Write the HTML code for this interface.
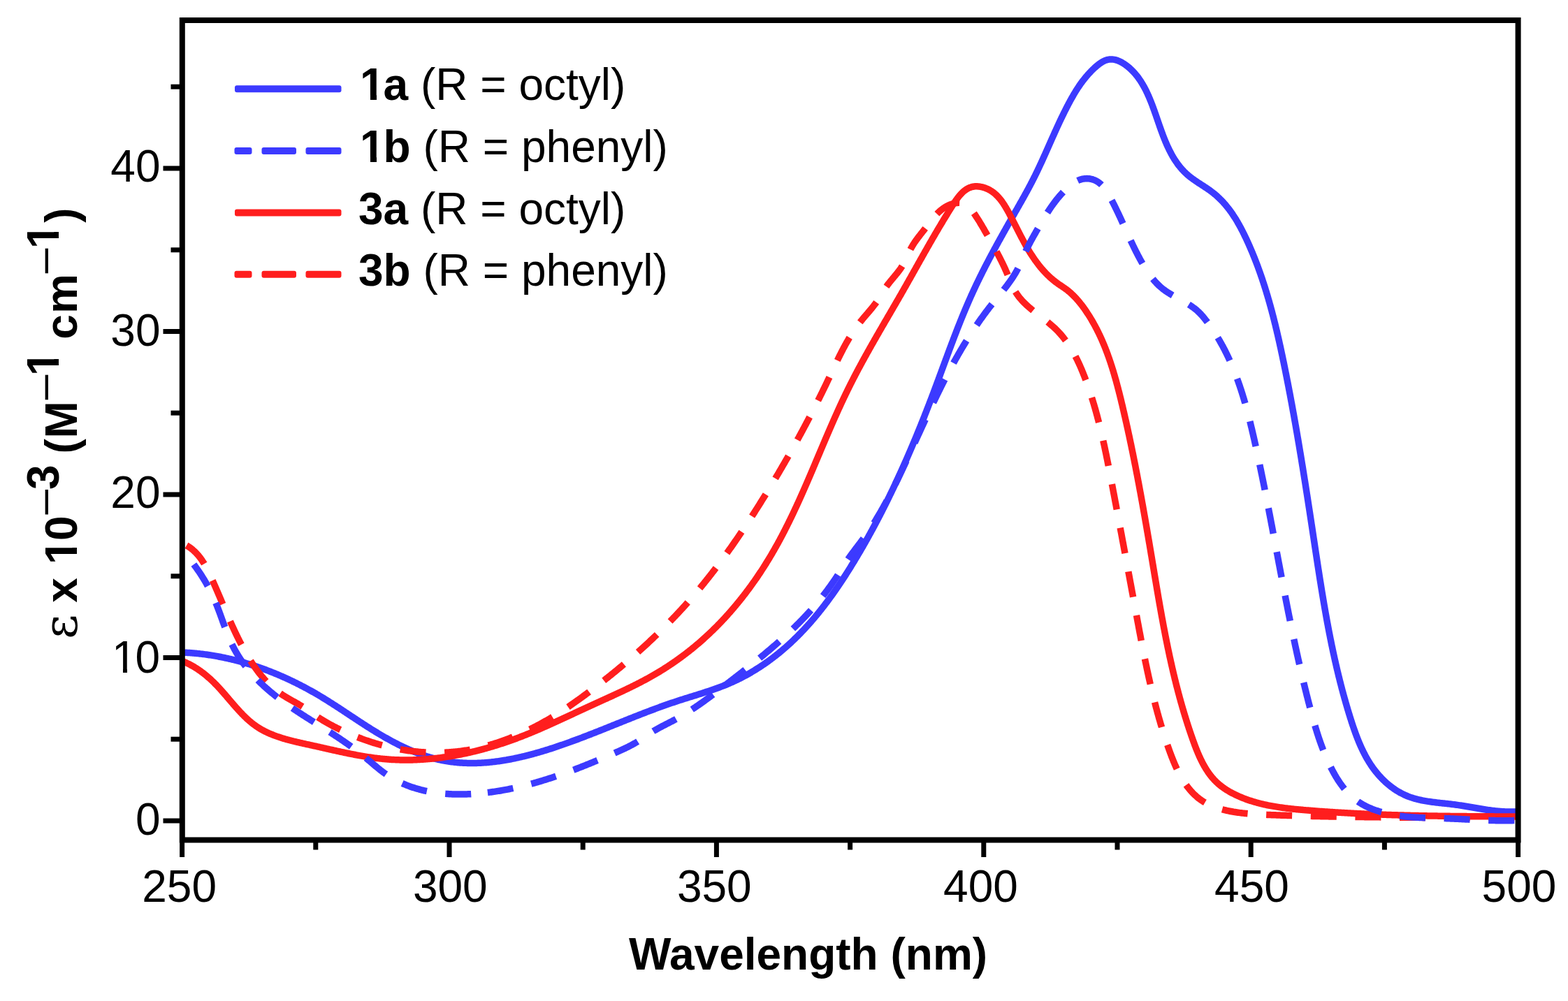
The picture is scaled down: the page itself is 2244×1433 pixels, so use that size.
<!DOCTYPE html>
<html><head><meta charset="utf-8"><style>
html,body{margin:0;padding:0;background:#fff;overflow:hidden;}
svg{display:block;}
text{font-family:"Liberation Sans",Arial,sans-serif;}
</style></head><body>
<svg width="2244" height="1433" viewBox="0 0 2244 1433">
<rect width="2244" height="1433" fill="#fff"/>
<g fill="none" stroke-linejoin="round" stroke-width="9.5">
<path d="M260.92 934.01 L262.41 934.07 L263.91 934.14 L265.41 934.22 L266.91 934.30 L268.41 934.39 L269.90 934.48 L271.40 934.58 L272.89 934.69 L274.39 934.80 L275.88 934.92 L277.38 935.05 L278.87 935.18 L280.37 935.32 L281.86 935.47 L283.35 935.62 L284.84 935.78 L286.33 935.94 L287.82 936.11 L289.31 936.29 L290.80 936.47 L292.29 936.66 L293.77 936.86 L295.26 937.06 L296.75 937.27 L298.23 937.48 L299.71 937.70 L301.20 937.93 L302.68 938.16 L304.16 938.40 L305.64 938.65 L307.12 938.90 L308.59 939.15 L310.07 939.42 L311.55 939.68 L313.02 939.96 L314.49 940.24 L315.97 940.52 L317.44 940.82 L318.91 941.11 L320.38 941.42 L321.84 941.73 L323.31 942.04 L324.77 942.36 L326.24 942.69 L327.70 943.02 L329.16 943.36 L330.62 943.70 L332.08 944.05 L333.54 944.40 L334.99 944.76 L336.45 945.13 L337.90 945.50 L339.35 945.87 L340.80 946.25 L342.25 946.64 L343.70 947.03 L345.15 947.43 L346.59 947.84 L348.03 948.24 L349.47 948.66 L350.91 949.08 L352.35 949.50 L353.79 949.93 L355.22 950.37 L356.66 950.81 L358.09 951.25 L359.52 951.70 L360.95 952.16 L362.38 952.62 L363.80 953.08 L365.23 953.55 L366.65 954.03 L368.07 954.51 L369.49 955.00 L370.90 955.49 L372.32 955.98 L373.73 956.48 L375.15 956.99 L376.56 957.50 L377.96 958.02 L379.37 958.54 L380.78 959.06 L382.18 959.59 L383.58 960.12 L384.98 960.66 L386.38 961.21 L387.77 961.76 L389.17 962.31 L390.56 962.87 L391.95 963.43 L393.34 964.00 L394.72 964.57 L396.11 965.15 L397.49 965.73 L398.87 966.31 L400.25 966.90 L401.63 967.50 L403.00 968.09 L404.37 968.70 L405.75 969.31 L407.11 969.92 L408.48 970.53 L409.85 971.16 L411.21 971.78 L412.57 972.41 L413.93 973.04 L415.29 973.68 L416.64 974.33 L418.00 974.97 L419.35 975.62 L420.70 976.28 L422.04 976.94 L423.39 977.60 L424.73 978.27 L426.07 978.94 L427.41 979.62 L428.75 980.30 L430.08 980.98 L431.41 981.67 L432.74 982.36 L434.07 983.06 L435.40 983.76 L436.72 984.46 L438.04 985.17 L439.36 985.88 L440.68 986.60 L442.00 987.32 L443.31 988.04 L444.62 988.77 L445.93 989.50 L447.24 990.24 L448.54 990.98 L449.84 991.72 L451.14 992.47 L452.44 993.22 L453.74 993.98 L455.03 994.73 L456.32 995.50 L457.61 996.26 L458.90 997.03 L460.18 997.80 L461.47 998.58 L462.75 999.36 L464.03 1000.14 L465.30 1000.93 L466.58 1001.72 L467.85 1002.51 L469.12 1003.31 L470.39 1004.10 L471.66 1004.90 L472.93 1005.71 L474.20 1006.51 L475.46 1007.32 L476.72 1008.13 L477.98 1008.94 L479.24 1009.75 L480.50 1010.57 L481.76 1011.38 L483.02 1012.20 L484.27 1013.02 L485.53 1013.84 L486.78 1014.66 L488.04 1015.49 L489.29 1016.31 L490.54 1017.14 L491.79 1017.96 L493.04 1018.79 L494.30 1019.62 L495.55 1020.44 L496.80 1021.27 L498.05 1022.10 L499.30 1022.93 L500.55 1023.76 L501.80 1024.59 L503.05 1025.42 L504.30 1026.24 L505.55 1027.07 L506.80 1027.90 L508.05 1028.73 L509.30 1029.55 L510.55 1030.38 L511.80 1031.20 L513.06 1032.03 L514.31 1032.85 L515.57 1033.67 L516.82 1034.49 L518.08 1035.31 L519.34 1036.13 L520.59 1036.94 L521.85 1037.76 L523.11 1038.57 L524.38 1039.38 L525.64 1040.19 L526.90 1040.99 L528.17 1041.80 L529.44 1042.60 L530.71 1043.40 L531.98 1044.19 L533.25 1044.99 L534.52 1045.78 L535.80 1046.57 L537.08 1047.35 L538.36 1048.13 L539.64 1048.91 L540.92 1049.69 L542.21 1050.46 L543.50 1051.23 L544.79 1051.99 L546.08 1052.76 L547.37 1053.51 L548.67 1054.27 L549.97 1055.02 L551.27 1055.76 L552.57 1056.50 L553.88 1057.24 L555.19 1057.97 L556.50 1058.70 L557.81 1059.43 L559.13 1060.14 L560.45 1060.86 L561.77 1061.57 L563.09 1062.27 L564.42 1062.97 L565.75 1063.67 L567.08 1064.35 L568.41 1065.04 L569.75 1065.72 L571.09 1066.39 L572.44 1067.06 L573.78 1067.72 L575.13 1068.37 L576.48 1069.02 L577.84 1069.66 L579.20 1070.30 L580.56 1070.93 L581.92 1071.56 L583.29 1072.17 L584.66 1072.78 L586.03 1073.39 L587.40 1073.98 L588.78 1074.57 L590.17 1075.16 L591.55 1075.73 L592.94 1076.30 L594.33 1076.86 L595.72 1077.41 L597.12 1077.96 L598.52 1078.49 L599.93 1079.02 L601.33 1079.54 L602.74 1080.05 L604.15 1080.55 L605.57 1081.05 L606.99 1081.53 L608.41 1082.01 L609.84 1082.47 L611.27 1082.93 L612.70 1083.38 L614.13 1083.82 L615.57 1084.24 L617.01 1084.66 L618.45 1085.07 L619.90 1085.46 L621.35 1085.85 L622.80 1086.22 L624.26 1086.59 L625.71 1086.94 L627.17 1087.28 L628.64 1087.61 L630.10 1087.93 L631.57 1088.24 L633.04 1088.53 L634.51 1088.82 L635.99 1089.09 L637.46 1089.35 L638.94 1089.61 L640.42 1089.85 L641.90 1090.08 L643.39 1090.30 L644.87 1090.50 L646.36 1090.70 L647.85 1090.89 L649.34 1091.06 L650.83 1091.23 L652.32 1091.39 L653.81 1091.53 L655.31 1091.66 L656.80 1091.79 L658.30 1091.90 L659.79 1092.00 L661.29 1092.10 L662.79 1092.18 L664.28 1092.26 L665.78 1092.32 L667.28 1092.37 L668.78 1092.42 L670.28 1092.45 L671.78 1092.48 L673.28 1092.49 L674.78 1092.50 L676.28 1092.50 L677.78 1092.48 L679.28 1092.46 L680.78 1092.43 L682.28 1092.39 L683.77 1092.35 L685.27 1092.29 L686.77 1092.22 L688.27 1092.15 L689.77 1092.07 L691.26 1091.98 L692.76 1091.88 L694.26 1091.77 L695.75 1091.66 L697.25 1091.53 L698.74 1091.40 L700.23 1091.26 L701.73 1091.12 L703.22 1090.96 L704.71 1090.80 L706.20 1090.63 L707.69 1090.46 L709.18 1090.27 L710.66 1090.08 L712.15 1089.88 L713.64 1089.68 L715.12 1089.47 L716.60 1089.25 L718.09 1089.02 L719.57 1088.79 L721.05 1088.55 L722.53 1088.31 L724.01 1088.06 L725.48 1087.80 L726.96 1087.54 L728.44 1087.27 L729.91 1086.99 L731.38 1086.71 L732.85 1086.42 L734.32 1086.13 L735.79 1085.83 L737.26 1085.52 L738.73 1085.21 L740.20 1084.89 L741.66 1084.57 L743.12 1084.24 L744.59 1083.91 L746.05 1083.57 L747.51 1083.23 L748.97 1082.88 L750.42 1082.53 L751.88 1082.17 L753.34 1081.81 L754.79 1081.44 L756.24 1081.07 L757.69 1080.70 L759.14 1080.32 L760.59 1079.93 L762.04 1079.54 L763.49 1079.15 L764.93 1078.75 L766.38 1078.34 L767.82 1077.94 L769.27 1077.53 L770.71 1077.11 L772.15 1076.69 L773.59 1076.27 L775.02 1075.84 L776.46 1075.41 L777.90 1074.98 L779.33 1074.54 L780.76 1074.10 L782.20 1073.66 L783.63 1073.21 L785.06 1072.76 L786.49 1072.30 L787.91 1071.85 L789.34 1071.38 L790.77 1070.92 L792.19 1070.45 L793.62 1069.98 L795.04 1069.51 L796.46 1069.03 L797.88 1068.55 L799.30 1068.07 L800.72 1067.59 L802.14 1067.10 L803.56 1066.61 L804.97 1066.12 L806.39 1065.62 L807.80 1065.13 L809.22 1064.63 L810.63 1064.13 L812.04 1063.62 L813.46 1063.11 L814.87 1062.61 L816.28 1062.10 L817.69 1061.58 L819.09 1061.07 L820.50 1060.55 L821.91 1060.03 L823.32 1059.51 L824.72 1058.99 L826.13 1058.46 L827.53 1057.94 L828.93 1057.41 L830.34 1056.88 L831.74 1056.35 L833.14 1055.82 L834.54 1055.28 L835.94 1054.75 L837.34 1054.21 L838.74 1053.67 L840.14 1053.13 L841.54 1052.59 L842.94 1052.05 L844.34 1051.51 L845.74 1050.96 L847.13 1050.42 L848.53 1049.87 L849.92 1049.32 L851.32 1048.77 L852.72 1048.22 L854.11 1047.67 L855.50 1047.12 L856.90 1046.57 L858.29 1046.01 L859.69 1045.46 L861.08 1044.90 L862.47 1044.35 L863.87 1043.79 L865.26 1043.24 L866.65 1042.68 L868.04 1042.12 L869.43 1041.56 L870.83 1041.01 L872.22 1040.45 L873.61 1039.89 L875.00 1039.33 L876.39 1038.77 L877.78 1038.21 L879.18 1037.65 L880.57 1037.09 L881.96 1036.53 L883.35 1035.97 L884.74 1035.41 L886.13 1034.85 L887.52 1034.29 L888.91 1033.73 L890.31 1033.17 L891.70 1032.61 L893.09 1032.06 L894.48 1031.50 L895.87 1030.94 L897.27 1030.38 L898.66 1029.83 L900.05 1029.27 L901.45 1028.72 L902.84 1028.16 L904.23 1027.61 L905.63 1027.06 L907.02 1026.50 L908.42 1025.95 L909.81 1025.40 L911.21 1024.85 L912.60 1024.30 L914.00 1023.76 L915.39 1023.21 L916.79 1022.67 L918.19 1022.12 L919.59 1021.58 L920.99 1021.04 L922.39 1020.50 L923.78 1019.96 L925.19 1019.42 L926.59 1018.89 L927.99 1018.35 L929.39 1017.82 L930.79 1017.29 L932.19 1016.76 L933.60 1016.23 L935.00 1015.71 L936.41 1015.18 L937.81 1014.66 L939.22 1014.14 L940.63 1013.62 L942.04 1013.11 L943.45 1012.59 L944.85 1012.08 L946.27 1011.57 L947.68 1011.06 L949.09 1010.56 L950.50 1010.05 L951.91 1009.55 L953.33 1009.05 L954.74 1008.56 L956.16 1008.07 L957.58 1007.57 L959.00 1007.09 L960.41 1006.60 L961.83 1006.12 L963.25 1005.64 L964.68 1005.16 L966.10 1004.68 L967.52 1004.21 L968.95 1003.74 L970.37 1003.28 L971.80 1002.81 L973.23 1002.35 L974.65 1001.89 L976.08 1001.44 L977.51 1000.98 L978.94 1000.53 L980.37 1000.08 L981.80 999.63 L983.23 999.18 L984.66 998.73 L986.10 998.29 L987.53 997.84 L988.96 997.39 L990.39 996.95 L991.82 996.50 L993.25 996.05 L994.69 995.61 L996.12 995.16 L997.55 994.71 L998.98 994.26 L1000.41 993.81 L1001.84 993.36 L1003.27 992.90 L1004.70 992.45 L1006.12 991.99 L1007.55 991.53 L1008.98 991.07 L1010.40 990.60 L1011.83 990.13 L1013.25 989.66 L1014.67 989.19 L1016.10 988.71 L1017.52 988.23 L1018.93 987.74 L1020.35 987.25 L1021.77 986.76 L1023.18 986.26 L1024.59 985.75 L1026.01 985.24 L1027.41 984.73 L1028.82 984.21 L1030.23 983.69 L1031.63 983.16 L1033.03 982.62 L1034.43 982.08 L1035.83 981.53 L1037.22 980.98 L1038.61 980.42 L1040.00 979.85 L1041.38 979.28 L1042.77 978.70 L1044.15 978.11 L1045.52 977.51 L1046.90 976.91 L1048.26 976.30 L1049.63 975.68 L1050.99 975.05 L1052.35 974.42 L1053.71 973.78 L1055.06 973.13 L1056.41 972.47 L1057.75 971.81 L1059.09 971.14 L1060.43 970.46 L1061.76 969.77 L1063.09 969.08 L1064.42 968.38 L1065.74 967.67 L1067.06 966.96 L1068.38 966.24 L1069.69 965.51 L1071.00 964.78 L1072.30 964.03 L1073.60 963.29 L1074.90 962.53 L1076.19 961.77 L1077.48 961.00 L1078.76 960.23 L1080.04 959.45 L1081.32 958.66 L1082.59 957.87 L1083.86 957.07 L1085.13 956.27 L1086.39 955.45 L1087.64 954.64 L1088.90 953.81 L1090.15 952.98 L1091.39 952.15 L1092.63 951.30 L1093.87 950.46 L1095.10 949.60 L1096.33 948.74 L1097.56 947.88 L1098.78 947.01 L1099.99 946.13 L1101.21 945.25 L1102.42 944.36 L1103.62 943.47 L1104.82 942.57 L1106.02 941.66 L1107.21 940.75 L1108.40 939.84 L1109.58 938.92 L1110.76 937.99 L1111.93 937.06 L1113.10 936.12 L1114.27 935.18 L1115.43 934.23 L1116.59 933.28 L1117.74 932.32 L1118.89 931.36 L1120.04 930.39 L1121.18 929.41 L1122.32 928.44 L1123.45 927.45 L1124.58 926.47 L1125.70 925.47 L1126.82 924.47 L1127.94 923.47 L1129.05 922.46 L1130.15 921.45 L1131.26 920.44 L1132.36 919.42 L1133.45 918.39 L1134.54 917.36 L1135.62 916.32 L1136.71 915.29 L1137.78 914.24 L1138.86 913.19 L1139.93 912.14 L1140.99 911.09 L1142.05 910.03 L1143.11 908.96 L1144.16 907.89 L1145.21 906.82 L1146.25 905.74 L1147.29 904.66 L1148.33 903.58 L1149.36 902.49 L1150.39 901.40 L1151.41 900.30 L1152.43 899.20 L1153.45 898.10 L1154.46 896.99 L1155.47 895.88 L1156.47 894.77 L1157.47 893.65 L1158.46 892.53 L1159.46 891.40 L1160.44 890.28 L1161.43 889.14 L1162.41 888.01 L1163.39 886.87 L1164.36 885.73 L1165.33 884.59 L1166.29 883.44 L1167.25 882.29 L1168.21 881.13 L1169.17 879.98 L1170.12 878.82 L1171.06 877.65 L1172.01 876.49 L1172.95 875.32 L1173.88 874.15 L1174.81 872.97 L1175.74 871.79 L1176.67 870.61 L1177.59 869.43 L1178.51 868.25 L1179.43 867.06 L1180.34 865.87 L1181.25 864.67 L1182.15 863.48 L1183.05 862.28 L1183.95 861.08 L1184.85 859.88 L1185.74 858.67 L1186.63 857.46 L1187.51 856.25 L1188.39 855.04 L1189.27 853.82 L1190.15 852.61 L1191.02 851.39 L1191.89 850.17 L1192.76 848.94 L1193.62 847.72 L1194.49 846.49 L1195.34 845.26 L1196.20 844.03 L1197.05 842.79 L1197.90 841.56 L1198.75 840.32 L1199.59 839.08 L1200.43 837.84 L1201.27 836.60 L1202.11 835.35 L1202.94 834.11 L1203.77 832.86 L1204.60 831.61 L1205.43 830.35 L1206.25 829.10 L1207.07 827.85 L1207.89 826.59 L1208.70 825.33 L1209.52 824.07 L1210.33 822.81 L1211.14 821.54 L1211.94 820.28 L1212.75 819.01 L1213.55 817.75 L1214.35 816.48 L1215.14 815.21 L1215.94 813.94 L1216.73 812.66 L1217.52 811.39 L1218.31 810.11 L1219.10 808.84 L1219.88 807.56 L1220.66 806.28 L1221.44 805.00 L1222.22 803.72 L1223.00 802.43 L1223.78 801.15 L1224.55 799.86 L1225.32 798.58 L1226.09 797.29 L1226.86 796.00 L1227.62 794.71 L1228.39 793.42 L1229.15 792.13 L1229.91 790.84 L1230.67 789.54 L1231.42 788.25 L1232.18 786.95 L1232.93 785.66 L1233.68 784.36 L1234.43 783.06 L1235.18 781.76 L1235.92 780.46 L1236.66 779.15 L1237.41 777.85 L1238.15 776.55 L1238.88 775.24 L1239.62 773.93 L1240.36 772.63 L1241.09 771.32 L1241.82 770.01 L1242.55 768.70 L1243.28 767.39 L1244.00 766.08 L1244.73 764.76 L1245.45 763.45 L1246.17 762.13 L1246.89 760.82 L1247.61 759.50 L1248.32 758.18 L1249.04 756.86 L1249.75 755.54 L1250.46 754.22 L1251.17 752.90 L1251.87 751.58 L1252.58 750.25 L1253.28 748.93 L1253.98 747.60 L1254.68 746.28 L1255.38 744.95 L1256.08 743.62 L1256.77 742.29 L1257.47 740.96 L1258.16 739.63 L1258.85 738.30 L1259.54 736.97 L1260.23 735.64 L1260.91 734.30 L1261.60 732.97 L1262.28 731.63 L1262.96 730.30 L1263.64 728.96 L1264.31 727.62 L1264.99 726.28 L1265.66 724.94 L1266.34 723.60 L1267.01 722.26 L1267.68 720.92 L1268.35 719.58 L1269.01 718.23 L1269.68 716.89 L1270.34 715.54 L1271.00 714.20 L1271.66 712.85 L1272.32 711.51 L1272.98 710.16 L1273.63 708.81 L1274.29 707.46 L1274.94 706.11 L1275.59 704.76 L1276.24 703.41 L1276.89 702.05 L1277.54 700.70 L1278.18 699.35 L1278.83 697.99 L1279.47 696.64 L1280.11 695.28 L1280.75 693.93 L1281.39 692.57 L1282.02 691.21 L1282.66 689.85 L1283.29 688.49 L1283.92 687.13 L1284.56 685.77 L1285.19 684.41 L1285.81 683.05 L1286.44 681.69 L1287.07 680.32 L1287.69 678.96 L1288.31 677.60 L1288.93 676.23 L1289.55 674.86 L1290.17 673.50 L1290.79 672.13 L1291.40 670.76 L1292.02 669.40 L1292.63 668.03 L1293.24 666.66 L1293.85 665.29 L1294.46 663.92 L1295.07 662.55 L1295.68 661.18 L1296.28 659.80 L1296.89 658.43 L1297.49 657.06 L1298.09 655.68 L1298.69 654.31 L1299.29 652.93 L1299.89 651.56 L1300.48 650.18 L1301.08 648.81 L1301.67 647.43 L1302.27 646.05 L1302.86 644.67 L1303.45 643.30 L1304.04 641.92 L1304.62 640.54 L1305.21 639.16 L1305.80 637.78 L1306.38 636.39 L1306.96 635.01 L1307.54 633.63 L1308.13 632.25 L1308.70 630.86 L1309.28 629.48 L1309.86 628.10 L1310.44 626.71 L1311.01 625.33 L1311.58 623.94 L1312.16 622.55 L1312.73 621.17 L1313.30 619.78 L1313.87 618.39 L1314.44 617.01 L1315.00 615.62 L1315.57 614.23 L1316.13 612.84 L1316.70 611.45 L1317.26 610.06 L1317.82 608.67 L1318.38 607.28 L1318.94 605.89 L1319.50 604.50 L1320.06 603.10 L1320.61 601.71 L1321.17 600.32 L1321.72 598.92 L1322.28 597.53 L1322.83 596.14 L1323.38 594.74 L1323.93 593.35 L1324.48 591.95 L1325.03 590.55 L1325.58 589.16 L1326.12 587.76 L1326.67 586.36 L1327.21 584.97 L1327.76 583.57 L1328.30 582.17 L1328.84 580.77 L1329.38 579.37 L1329.92 577.97 L1330.46 576.58 L1331.00 575.18 L1331.53 573.78 L1332.07 572.37 L1332.61 570.97 L1333.14 569.57 L1333.67 568.17 L1334.21 566.77 L1334.74 565.37 L1335.27 563.96 L1335.80 562.56 L1336.33 561.16 L1336.86 559.75 L1337.38 558.35 L1337.91 556.95 L1338.44 555.54 L1338.96 554.14 L1339.49 552.73 L1340.01 551.33 L1340.53 549.92 L1341.06 548.52 L1341.58 547.11 L1342.10 545.70 L1342.62 544.30 L1343.14 542.89 L1343.66 541.49 L1344.18 540.08 L1344.70 538.67 L1345.22 537.27 L1345.74 535.86 L1346.26 534.45 L1346.78 533.04 L1347.30 531.64 L1347.82 530.23 L1348.34 528.82 L1348.85 527.42 L1349.37 526.01 L1349.89 524.60 L1350.41 523.19 L1350.93 521.79 L1351.45 520.38 L1351.97 518.97 L1352.49 517.57 L1353.01 516.16 L1353.53 514.75 L1354.05 513.35 L1354.57 511.94 L1355.09 510.53 L1355.61 509.13 L1356.13 507.72 L1356.65 506.31 L1357.17 504.91 L1357.70 503.50 L1358.22 502.10 L1358.74 500.69 L1359.27 499.29 L1359.80 497.88 L1360.32 496.48 L1360.85 495.08 L1361.38 493.67 L1361.91 492.27 L1362.43 490.87 L1362.97 489.46 L1363.50 488.06 L1364.03 486.66 L1364.56 485.26 L1365.10 483.86 L1365.63 482.45 L1366.17 481.05 L1366.71 479.65 L1367.25 478.25 L1367.79 476.86 L1368.33 475.46 L1368.87 474.06 L1369.41 472.66 L1369.96 471.26 L1370.51 469.87 L1371.05 468.47 L1371.60 467.08 L1372.15 465.68 L1372.71 464.29 L1373.26 462.89 L1373.82 461.50 L1374.37 460.11 L1374.93 458.72 L1375.49 457.33 L1376.06 455.94 L1376.62 454.55 L1377.19 453.16 L1377.75 451.77 L1378.32 450.38 L1378.89 449.00 L1379.47 447.61 L1380.04 446.23 L1380.62 444.84 L1381.20 443.46 L1381.78 442.08 L1382.36 440.69 L1382.95 439.31 L1383.54 437.93 L1384.13 436.56 L1384.72 435.18 L1385.32 433.80 L1385.91 432.42 L1386.51 431.05 L1387.11 429.68 L1387.72 428.30 L1388.32 426.93 L1388.93 425.56 L1389.54 424.19 L1390.16 422.82 L1390.77 421.46 L1391.39 420.09 L1392.01 418.73 L1392.64 417.36 L1393.26 416.00 L1393.89 414.64 L1394.53 413.28 L1395.16 411.92 L1395.80 410.56 L1396.44 409.21 L1397.08 407.85 L1397.72 406.50 L1398.37 405.14 L1399.02 403.79 L1399.67 402.44 L1400.33 401.09 L1400.98 399.74 L1401.64 398.39 L1402.30 397.05 L1402.96 395.70 L1403.63 394.36 L1404.30 393.02 L1404.97 391.67 L1405.64 390.33 L1406.31 388.99 L1406.99 387.65 L1407.66 386.32 L1408.34 384.98 L1409.02 383.64 L1409.71 382.31 L1410.39 380.97 L1411.08 379.64 L1411.77 378.31 L1412.46 376.98 L1413.15 375.65 L1413.84 374.32 L1414.54 372.99 L1415.23 371.66 L1415.93 370.33 L1416.63 369.01 L1417.33 367.68 L1418.04 366.36 L1418.74 365.03 L1419.45 363.71 L1420.16 362.39 L1420.86 361.07 L1421.57 359.74 L1422.29 358.42 L1423.00 357.11 L1423.71 355.79 L1424.43 354.47 L1425.15 353.15 L1425.86 351.83 L1426.58 350.52 L1427.30 349.20 L1428.02 347.89 L1428.75 346.57 L1429.47 345.26 L1430.19 343.95 L1430.92 342.63 L1431.65 341.32 L1432.37 340.01 L1433.10 338.70 L1433.83 337.39 L1434.56 336.08 L1435.29 334.77 L1436.02 333.46 L1436.76 332.15 L1437.49 330.84 L1438.22 329.54 L1438.96 328.23 L1439.69 326.92 L1440.43 325.61 L1441.16 324.31 L1441.90 323.00 L1442.64 321.70 L1443.38 320.39 L1444.11 319.09 L1444.85 317.78 L1445.59 316.48 L1446.33 315.17 L1447.07 313.87 L1447.81 312.56 L1448.55 311.26 L1449.30 309.96 L1450.04 308.65 L1450.78 307.35 L1451.52 306.04 L1452.26 304.74 L1453.00 303.44 L1453.75 302.14 L1454.49 300.83 L1455.23 299.53 L1455.97 298.23 L1456.72 296.92 L1457.46 295.62 L1458.20 294.31 L1458.94 293.01 L1459.68 291.71 L1460.41 290.40 L1461.15 289.09 L1461.89 287.79 L1462.62 286.48 L1463.36 285.17 L1464.09 283.86 L1464.82 282.56 L1465.55 281.25 L1466.28 279.93 L1467.01 278.62 L1467.73 277.31 L1468.45 275.99 L1469.17 274.68 L1469.89 273.36 L1470.61 272.04 L1471.32 270.73 L1472.03 269.40 L1472.74 268.08 L1473.44 266.76 L1474.15 265.43 L1474.84 264.11 L1475.54 262.78 L1476.23 261.45 L1476.92 260.12 L1477.61 258.78 L1478.29 257.45 L1478.97 256.11 L1479.65 254.77 L1480.32 253.43 L1480.99 252.09 L1481.65 250.74 L1482.31 249.40 L1482.97 248.05 L1483.63 246.70 L1484.28 245.35 L1484.93 244.00 L1485.57 242.65 L1486.21 241.29 L1486.85 239.93 L1487.49 238.58 L1488.13 237.22 L1488.76 235.86 L1489.39 234.50 L1490.02 233.14 L1490.65 231.77 L1491.27 230.41 L1491.89 229.05 L1492.51 227.68 L1493.13 226.32 L1493.75 224.95 L1494.37 223.58 L1494.98 222.21 L1495.60 220.85 L1496.21 219.48 L1496.82 218.11 L1497.43 216.74 L1498.04 215.37 L1498.65 214.00 L1499.26 212.63 L1499.87 211.26 L1500.48 209.89 L1501.09 208.51 L1501.69 207.14 L1502.30 205.77 L1502.91 204.40 L1503.52 203.03 L1504.12 201.66 L1504.73 200.29 L1505.34 198.92 L1505.95 197.55 L1506.56 196.18 L1507.17 194.81 L1507.79 193.44 L1508.40 192.07 L1509.01 190.70 L1509.63 189.34 L1510.24 187.97 L1510.86 186.60 L1511.48 185.24 L1512.10 183.87 L1512.73 182.51 L1513.35 181.15 L1513.98 179.78 L1514.61 178.42 L1515.24 177.06 L1515.87 175.70 L1516.51 174.34 L1517.15 172.99 L1517.79 171.63 L1518.43 170.28 L1519.08 168.92 L1519.73 167.57 L1520.38 166.22 L1521.04 164.87 L1521.70 163.53 L1522.36 162.18 L1523.02 160.84 L1523.69 159.49 L1524.36 158.15 L1525.04 156.81 L1525.72 155.48 L1526.40 154.14 L1527.09 152.81 L1527.78 151.48 L1528.48 150.15 L1529.18 148.82 L1529.88 147.50 L1530.59 146.18 L1531.30 144.86 L1532.02 143.54 L1532.74 142.23 L1533.47 140.92 L1534.21 139.61 L1534.95 138.31 L1535.70 137.01 L1536.45 135.71 L1537.21 134.42 L1537.98 133.13 L1538.76 131.85 L1539.55 130.57 L1540.34 129.30 L1541.14 128.03 L1541.95 126.77 L1542.77 125.51 L1543.60 124.26 L1544.44 123.02 L1545.29 121.79 L1546.15 120.56 L1547.02 119.33 L1547.90 118.12 L1548.79 116.91 L1549.69 115.71 L1550.60 114.52 L1551.52 113.34 L1552.46 112.17 L1553.40 111.00 L1554.36 109.85 L1555.33 108.71 L1556.31 107.57 L1557.30 106.45 L1558.31 105.34 L1559.33 104.23 L1560.36 103.14 L1561.40 102.06 L1562.45 101.00 L1563.52 99.94 L1564.60 98.90 L1565.69 97.87 L1566.79 96.85 L1567.90 95.85 L1569.03 94.86 L1570.18 93.89 L1571.34 92.95 L1572.52 92.02 L1573.72 91.13 L1574.95 90.27 L1576.20 89.44 L1577.48 88.66 L1578.79 87.93 L1580.13 87.25 L1581.50 86.64 L1582.90 86.11 L1584.34 85.67 L1585.79 85.32 L1587.27 85.08 L1588.77 84.95 L1590.27 84.91 L1591.76 84.98 L1593.26 85.13 L1594.74 85.38 L1596.20 85.70 L1597.65 86.10 L1599.07 86.56 L1600.47 87.09 L1601.86 87.67 L1603.21 88.31 L1604.55 88.99 L1605.86 89.72 L1607.15 90.48 L1608.42 91.28 L1609.67 92.11 L1610.90 92.97 L1612.10 93.86 L1613.29 94.78 L1614.46 95.72 L1615.61 96.68 L1616.74 97.67 L1617.85 98.67 L1618.94 99.70 L1620.02 100.75 L1621.07 101.82 L1622.11 102.90 L1623.12 104.00 L1624.12 105.13 L1625.10 106.26 L1626.05 107.42 L1626.99 108.59 L1627.91 109.77 L1628.81 110.97 L1629.70 112.18 L1630.56 113.41 L1631.41 114.64 L1632.24 115.89 L1633.06 117.15 L1633.85 118.42 L1634.63 119.70 L1635.40 120.99 L1636.15 122.29 L1636.89 123.60 L1637.61 124.91 L1638.31 126.23 L1639.01 127.56 L1639.69 128.90 L1640.36 130.24 L1641.01 131.59 L1641.66 132.94 L1642.29 134.30 L1642.91 135.67 L1643.52 137.04 L1644.12 138.41 L1644.72 139.79 L1645.30 141.17 L1645.88 142.56 L1646.44 143.94 L1647.00 145.34 L1647.55 146.73 L1648.10 148.13 L1648.64 149.53 L1649.17 150.93 L1649.69 152.33 L1650.21 153.74 L1650.73 155.15 L1651.24 156.56 L1651.75 157.97 L1652.25 159.38 L1652.76 160.80 L1653.25 162.21 L1653.75 163.63 L1654.24 165.04 L1654.73 166.46 L1655.22 167.88 L1655.71 169.29 L1656.20 170.71 L1656.69 172.13 L1657.18 173.55 L1657.66 174.97 L1658.15 176.38 L1658.64 177.80 L1659.14 179.22 L1659.63 180.63 L1660.13 182.05 L1660.63 183.46 L1661.13 184.88 L1661.63 186.29 L1662.14 187.70 L1662.66 189.11 L1663.18 190.51 L1663.70 191.92 L1664.23 193.32 L1664.76 194.72 L1665.30 196.12 L1665.85 197.52 L1666.41 198.91 L1666.97 200.30 L1667.54 201.69 L1668.11 203.07 L1668.70 204.46 L1669.29 205.83 L1669.90 207.21 L1670.51 208.57 L1671.13 209.94 L1671.76 211.30 L1672.41 212.65 L1673.06 214.00 L1673.72 215.35 L1674.40 216.69 L1675.09 218.02 L1675.79 219.34 L1676.50 220.66 L1677.23 221.98 L1677.97 223.28 L1678.72 224.58 L1679.49 225.86 L1680.28 227.14 L1681.07 228.41 L1681.89 229.67 L1682.72 230.92 L1683.56 232.16 L1684.42 233.39 L1685.30 234.61 L1686.19 235.81 L1687.10 237.00 L1688.03 238.18 L1688.97 239.35 L1689.94 240.50 L1690.92 241.63 L1691.91 242.75 L1692.93 243.85 L1693.96 244.94 L1695.01 246.01 L1696.08 247.07 L1697.17 248.10 L1698.27 249.12 L1699.39 250.11 L1700.53 251.09 L1701.68 252.05 L1702.85 252.99 L1704.03 253.91 L1705.22 254.82 L1706.43 255.72 L1707.64 256.60 L1708.86 257.47 L1710.09 258.32 L1711.33 259.17 L1712.57 260.01 L1713.82 260.85 L1715.07 261.68 L1716.32 262.50 L1717.57 263.32 L1718.83 264.14 L1720.09 264.96 L1721.34 265.78 L1722.60 266.60 L1723.85 267.42 L1725.10 268.25 L1726.35 269.08 L1727.59 269.92 L1728.83 270.77 L1730.06 271.63 L1731.28 272.49 L1732.50 273.37 L1733.71 274.26 L1734.90 275.17 L1736.09 276.08 L1737.26 277.02 L1738.42 277.97 L1739.57 278.93 L1740.71 279.91 L1741.83 280.91 L1742.94 281.92 L1744.04 282.94 L1745.12 283.97 L1746.19 285.02 L1747.25 286.08 L1748.30 287.16 L1749.33 288.25 L1750.35 289.34 L1751.36 290.45 L1752.36 291.58 L1753.34 292.71 L1754.31 293.85 L1755.27 295.00 L1756.22 296.17 L1757.15 297.34 L1758.07 298.52 L1758.98 299.71 L1759.88 300.91 L1760.77 302.12 L1761.65 303.34 L1762.52 304.56 L1763.37 305.79 L1764.21 307.03 L1765.05 308.28 L1765.87 309.53 L1766.69 310.79 L1767.49 312.06 L1768.28 313.33 L1769.07 314.61 L1769.84 315.89 L1770.61 317.18 L1771.37 318.48 L1772.12 319.78 L1772.86 321.08 L1773.59 322.39 L1774.32 323.70 L1775.03 325.02 L1775.74 326.34 L1776.44 327.66 L1777.14 328.99 L1777.83 330.33 L1778.51 331.66 L1779.18 333.00 L1779.85 334.34 L1780.51 335.69 L1781.17 337.04 L1781.82 338.39 L1782.47 339.74 L1783.11 341.10 L1783.75 342.45 L1784.38 343.81 L1785.01 345.18 L1785.63 346.54 L1786.25 347.91 L1786.86 349.27 L1787.47 350.64 L1788.08 352.02 L1788.68 353.39 L1789.28 354.77 L1789.87 356.14 L1790.46 357.52 L1791.05 358.90 L1791.63 360.28 L1792.21 361.67 L1792.78 363.05 L1793.35 364.44 L1793.92 365.83 L1794.48 367.22 L1795.04 368.61 L1795.59 370.00 L1796.14 371.40 L1796.69 372.80 L1797.23 374.19 L1797.77 375.59 L1798.31 376.99 L1798.84 378.40 L1799.37 379.80 L1799.89 381.21 L1800.41 382.61 L1800.93 384.02 L1801.44 385.43 L1801.95 386.84 L1802.46 388.25 L1802.96 389.66 L1803.46 391.08 L1803.96 392.49 L1804.45 393.91 L1804.94 395.33 L1805.42 396.75 L1805.91 398.17 L1806.39 399.59 L1806.86 401.01 L1807.33 402.43 L1807.80 403.86 L1808.27 405.28 L1808.73 406.71 L1809.19 408.14 L1809.65 409.57 L1810.10 411.00 L1810.55 412.43 L1811.00 413.86 L1811.44 415.29 L1811.88 416.72 L1812.32 418.16 L1812.76 419.59 L1813.19 421.03 L1813.62 422.47 L1814.04 423.90 L1814.47 425.34 L1814.89 426.78 L1815.31 428.22 L1815.72 429.66 L1816.13 431.10 L1816.54 432.55 L1816.95 433.99 L1817.36 435.43 L1817.76 436.88 L1818.16 438.32 L1818.55 439.77 L1818.95 441.22 L1819.34 442.67 L1819.73 444.11 L1820.12 445.56 L1820.50 447.01 L1820.88 448.46 L1821.26 449.91 L1821.64 451.36 L1822.02 452.82 L1822.39 454.27 L1822.76 455.72 L1823.13 457.18 L1823.49 458.63 L1823.86 460.08 L1824.22 461.54 L1824.58 463.00 L1824.94 464.45 L1825.30 465.91 L1825.65 467.37 L1826.00 468.82 L1826.35 470.28 L1826.70 471.74 L1827.05 473.20 L1827.39 474.66 L1827.73 476.12 L1828.08 477.58 L1828.42 479.04 L1828.75 480.50 L1829.09 481.96 L1829.42 483.42 L1829.76 484.89 L1830.09 486.35 L1830.42 487.81 L1830.74 489.28 L1831.07 490.74 L1831.40 492.20 L1831.72 493.67 L1832.04 495.13 L1832.36 496.60 L1832.68 498.06 L1833.00 499.53 L1833.32 500.99 L1833.63 502.46 L1833.95 503.93 L1834.26 505.39 L1834.57 506.86 L1834.88 508.33 L1835.19 509.80 L1835.50 511.26 L1835.81 512.73 L1836.11 514.20 L1836.42 515.67 L1836.72 517.14 L1837.03 518.60 L1837.33 520.07 L1837.63 521.54 L1837.93 523.01 L1838.23 524.48 L1838.53 525.95 L1838.83 527.42 L1839.12 528.89 L1839.42 530.36 L1839.72 531.83 L1840.01 533.30 L1840.31 534.77 L1840.60 536.24 L1840.89 537.71 L1841.18 539.18 L1841.47 540.66 L1841.76 542.13 L1842.05 543.60 L1842.34 545.07 L1842.63 546.54 L1842.92 548.01 L1843.20 549.49 L1843.49 550.96 L1843.77 552.43 L1844.06 553.90 L1844.34 555.38 L1844.62 556.85 L1844.91 558.32 L1845.19 559.79 L1845.47 561.27 L1845.75 562.74 L1846.03 564.21 L1846.31 565.69 L1846.58 567.16 L1846.86 568.64 L1847.14 570.11 L1847.41 571.58 L1847.69 573.06 L1847.96 574.53 L1848.23 576.01 L1848.51 577.48 L1848.78 578.96 L1849.05 580.43 L1849.32 581.91 L1849.59 583.38 L1849.86 584.86 L1850.13 586.33 L1850.40 587.81 L1850.67 589.28 L1850.93 590.76 L1851.20 592.23 L1851.47 593.71 L1851.73 595.19 L1852.00 596.66 L1852.26 598.14 L1852.52 599.62 L1852.79 601.09 L1853.05 602.57 L1853.31 604.05 L1853.57 605.52 L1853.83 607.00 L1854.09 608.48 L1854.35 609.95 L1854.61 611.43 L1854.87 612.91 L1855.12 614.39 L1855.38 615.86 L1855.64 617.34 L1855.89 618.82 L1856.15 620.30 L1856.40 621.77 L1856.66 623.25 L1856.91 624.73 L1857.16 626.21 L1857.42 627.69 L1857.67 629.16 L1857.92 630.64 L1858.17 632.12 L1858.42 633.60 L1858.67 635.08 L1858.92 636.56 L1859.17 638.04 L1859.42 639.52 L1859.67 640.99 L1859.91 642.47 L1860.16 643.95 L1860.41 645.43 L1860.65 646.91 L1860.90 648.39 L1861.15 649.87 L1861.39 651.35 L1861.63 652.83 L1861.88 654.31 L1862.12 655.79 L1862.37 657.27 L1862.61 658.75 L1862.85 660.23 L1863.09 661.71 L1863.33 663.19 L1863.57 664.67 L1863.82 666.15 L1864.06 667.63 L1864.30 669.11 L1864.53 670.59 L1864.77 672.07 L1865.01 673.55 L1865.25 675.03 L1865.49 676.51 L1865.73 677.99 L1865.96 679.47 L1866.20 680.95 L1866.44 682.44 L1866.67 683.92 L1866.91 685.40 L1867.14 686.88 L1867.38 688.36 L1867.61 689.84 L1867.85 691.32 L1868.08 692.80 L1868.32 694.29 L1868.55 695.77 L1868.78 697.25 L1869.02 698.73 L1869.25 700.21 L1869.48 701.69 L1869.71 703.17 L1869.95 704.66 L1870.18 706.14 L1870.41 707.62 L1870.64 709.10 L1870.87 710.58 L1871.10 712.06 L1871.33 713.55 L1871.56 715.03 L1871.79 716.51 L1872.02 717.99 L1872.25 719.47 L1872.48 720.96 L1872.71 722.44 L1872.93 723.92 L1873.16 725.40 L1873.39 726.89 L1873.62 728.37 L1873.85 729.85 L1874.07 731.33 L1874.30 732.81 L1874.53 734.30 L1874.75 735.78 L1874.98 737.26 L1875.21 738.74 L1875.43 740.23 L1875.66 741.71 L1875.89 743.19 L1876.11 744.67 L1876.34 746.16 L1876.56 747.64 L1876.79 749.12 L1877.01 750.61 L1877.24 752.09 L1877.46 753.57 L1877.69 755.05 L1877.91 756.54 L1878.14 758.02 L1878.36 759.50 L1878.58 760.98 L1878.81 762.47 L1879.03 763.95 L1879.26 765.43 L1879.48 766.92 L1879.70 768.40 L1879.93 769.88 L1880.15 771.37 L1880.38 772.85 L1880.60 774.33 L1880.82 775.81 L1881.05 777.30 L1881.27 778.78 L1881.49 780.26 L1881.72 781.75 L1881.94 783.23 L1882.17 784.71 L1882.39 786.19 L1882.61 787.68 L1882.84 789.16 L1883.06 790.64 L1883.29 792.12 L1883.51 793.61 L1883.74 795.09 L1883.96 796.57 L1884.19 798.06 L1884.42 799.54 L1884.64 801.02 L1884.87 802.50 L1885.10 803.99 L1885.32 805.47 L1885.55 806.95 L1885.78 808.43 L1886.01 809.91 L1886.23 811.40 L1886.46 812.88 L1886.69 814.36 L1886.92 815.84 L1887.15 817.32 L1887.38 818.81 L1887.62 820.29 L1887.85 821.77 L1888.08 823.25 L1888.31 824.73 L1888.55 826.21 L1888.78 827.70 L1889.01 829.18 L1889.25 830.66 L1889.48 832.14 L1889.72 833.62 L1889.96 835.10 L1890.19 836.58 L1890.43 838.06 L1890.67 839.54 L1890.91 841.02 L1891.15 842.50 L1891.39 843.98 L1891.63 845.46 L1891.88 846.94 L1892.12 848.42 L1892.36 849.90 L1892.61 851.38 L1892.85 852.86 L1893.10 854.34 L1893.35 855.82 L1893.59 857.30 L1893.84 858.78 L1894.09 860.26 L1894.34 861.74 L1894.60 863.22 L1894.85 864.69 L1895.10 866.17 L1895.36 867.65 L1895.61 869.13 L1895.87 870.60 L1896.13 872.08 L1896.38 873.56 L1896.64 875.04 L1896.90 876.51 L1897.17 877.99 L1897.43 879.47 L1897.69 880.94 L1897.96 882.42 L1898.22 883.89 L1898.49 885.37 L1898.76 886.85 L1899.03 888.32 L1899.30 889.80 L1899.57 891.27 L1899.85 892.75 L1900.12 894.22 L1900.40 895.69 L1900.67 897.17 L1900.95 898.64 L1901.23 900.11 L1901.51 901.59 L1901.80 903.06 L1902.08 904.53 L1902.36 906.01 L1902.65 907.48 L1902.94 908.95 L1903.23 910.42 L1903.52 911.89 L1903.81 913.36 L1904.10 914.83 L1904.40 916.30 L1904.70 917.77 L1904.99 919.24 L1905.29 920.71 L1905.59 922.18 L1905.90 923.65 L1906.20 925.12 L1906.51 926.59 L1906.81 928.06 L1907.12 929.52 L1907.43 930.99 L1907.75 932.46 L1908.06 933.92 L1908.38 935.39 L1908.69 936.86 L1909.01 938.32 L1909.33 939.79 L1909.65 941.25 L1909.98 942.72 L1910.30 944.18 L1910.63 945.64 L1910.96 947.11 L1911.29 948.57 L1911.62 950.03 L1911.96 951.49 L1912.30 952.95 L1912.63 954.41 L1912.97 955.88 L1913.32 957.34 L1913.66 958.80 L1914.01 960.25 L1914.35 961.71 L1914.70 963.17 L1915.06 964.63 L1915.41 966.09 L1915.76 967.54 L1916.12 969.00 L1916.48 970.46 L1916.84 971.91 L1917.21 973.37 L1917.57 974.82 L1917.94 976.27 L1918.31 977.73 L1918.68 979.18 L1919.06 980.63 L1919.43 982.09 L1919.81 983.54 L1920.19 984.99 L1920.57 986.44 L1920.96 987.89 L1921.34 989.34 L1921.73 990.78 L1922.12 992.23 L1922.52 993.68 L1922.91 995.13 L1923.31 996.57 L1923.71 998.02 L1924.11 999.46 L1924.52 1000.91 L1924.92 1002.35 L1925.33 1003.79 L1925.75 1005.23 L1926.16 1006.68 L1926.58 1008.12 L1926.99 1009.56 L1927.41 1011.00 L1927.84 1012.43 L1928.26 1013.87 L1928.69 1015.31 L1929.12 1016.75 L1929.55 1018.18 L1929.99 1019.62 L1930.43 1021.05 L1930.87 1022.49 L1931.31 1023.92 L1931.76 1025.35 L1932.20 1026.78 L1932.65 1028.21 L1933.11 1029.64 L1933.56 1031.07 L1934.02 1032.50 L1934.48 1033.93 L1934.94 1035.35 L1935.41 1036.78 L1935.89 1038.20 L1936.36 1039.62 L1936.84 1041.04 L1937.33 1042.46 L1937.82 1043.88 L1938.31 1045.30 L1938.81 1046.71 L1939.32 1048.12 L1939.83 1049.53 L1940.34 1050.94 L1940.87 1052.34 L1941.39 1053.75 L1941.93 1055.15 L1942.47 1056.55 L1943.02 1057.94 L1943.58 1059.34 L1944.14 1060.73 L1944.71 1062.11 L1945.29 1063.50 L1945.87 1064.88 L1946.47 1066.25 L1947.07 1067.63 L1947.69 1069.00 L1948.31 1070.36 L1948.94 1071.72 L1949.58 1073.08 L1950.23 1074.43 L1950.88 1075.78 L1951.55 1077.12 L1952.23 1078.46 L1952.92 1079.79 L1953.62 1081.11 L1954.33 1082.43 L1955.05 1083.75 L1955.79 1085.06 L1956.53 1086.36 L1957.29 1087.65 L1958.06 1088.94 L1958.84 1090.22 L1959.63 1091.50 L1960.43 1092.76 L1961.25 1094.02 L1962.08 1095.27 L1962.92 1096.51 L1963.77 1097.75 L1964.64 1098.97 L1965.52 1100.18 L1966.41 1101.39 L1967.32 1102.58 L1968.24 1103.77 L1969.17 1104.95 L1970.11 1106.11 L1971.07 1107.27 L1972.04 1108.41 L1973.02 1109.54 L1974.01 1110.66 L1975.02 1111.78 L1976.04 1112.87 L1977.07 1113.96 L1978.12 1115.04 L1979.18 1116.10 L1980.25 1117.15 L1981.33 1118.19 L1982.43 1119.21 L1983.54 1120.22 L1984.66 1121.21 L1985.79 1122.20 L1986.94 1123.16 L1988.10 1124.11 L1989.27 1125.05 L1990.45 1125.97 L1991.65 1126.88 L1992.86 1127.77 L1994.08 1128.64 L1995.31 1129.50 L1996.55 1130.33 L1997.81 1131.15 L1999.07 1131.96 L2000.35 1132.74 L2001.64 1133.51 L2002.94 1134.25 L2004.25 1134.98 L2005.57 1135.69 L2006.91 1136.38 L2008.25 1137.04 L2009.60 1137.69 L2010.97 1138.31 L2012.34 1138.92 L2013.72 1139.50 L2015.11 1140.06 L2016.51 1140.60 L2017.92 1141.11 L2019.34 1141.61 L2020.76 1142.08 L2022.19 1142.53 L2023.63 1142.96 L2025.07 1143.38 L2026.52 1143.77 L2027.97 1144.15 L2029.42 1144.51 L2030.88 1144.85 L2032.35 1145.18 L2033.81 1145.50 L2035.28 1145.80 L2036.75 1146.09 L2038.23 1146.36 L2039.70 1146.63 L2041.18 1146.88 L2042.66 1147.12 L2044.14 1147.35 L2045.63 1147.57 L2047.11 1147.79 L2048.60 1147.99 L2050.08 1148.19 L2051.57 1148.39 L2053.06 1148.57 L2054.55 1148.75 L2056.04 1148.93 L2057.53 1149.10 L2059.02 1149.27 L2060.51 1149.44 L2062.00 1149.60 L2063.49 1149.76 L2064.98 1149.92 L2066.47 1150.08 L2067.96 1150.24 L2069.45 1150.40 L2070.94 1150.57 L2072.43 1150.73 L2073.92 1150.90 L2075.41 1151.07 L2076.90 1151.24 L2078.39 1151.42 L2079.88 1151.60 L2081.37 1151.79 L2082.86 1151.99 L2084.34 1152.19 L2085.83 1152.40 L2087.31 1152.61 L2088.79 1152.83 L2090.28 1153.06 L2091.76 1153.28 L2093.24 1153.52 L2094.72 1153.76 L2096.20 1154.00 L2097.68 1154.24 L2099.16 1154.49 L2100.64 1154.74 L2102.12 1154.99 L2103.60 1155.24 L2105.07 1155.50 L2106.55 1155.75 L2108.03 1156.01 L2109.51 1156.26 L2110.99 1156.52 L2112.46 1156.77 L2113.94 1157.02 L2115.42 1157.28 L2116.90 1157.53 L2118.38 1157.77 L2119.86 1158.02 L2121.34 1158.26 L2122.82 1158.49 L2124.30 1158.73 L2125.78 1158.96 L2127.27 1159.18 L2128.75 1159.40 L2130.23 1159.61 L2131.72 1159.82 L2133.21 1160.01 L2134.69 1160.21 L2136.18 1160.39 L2137.67 1160.57 L2139.16 1160.74 L2140.65 1160.90 L2142.14 1161.05 L2143.64 1161.20 L2145.13 1161.33 L2146.62 1161.46 L2148.12 1161.57 L2149.62 1161.67 L2151.11 1161.77 L2152.61 1161.85 L2154.11 1161.92 L2155.61 1161.98 L2157.10 1162.02 L2158.60 1162.06 L2160.10 1162.08 L2161.60 1162.09 L2163.10 1162.09 L2164.60 1162.07 L2166.10 1162.05 L2167.60 1162.00 L2169.10 1161.95 L2170.60 1161.88 L2172.10 1161.80" stroke="#3c3aff"/>
<path d="M260.66 946.29 L262.05 946.85 L263.43 947.44 L264.80 948.04 L266.17 948.66 L267.53 949.29 L268.88 949.94 L270.22 950.61 L271.56 951.29 L272.88 951.99 L274.20 952.71 L275.51 953.44 L276.81 954.18 L278.10 954.95 L279.38 955.72 L280.65 956.52 L281.92 957.33 L283.17 958.15 L284.41 958.99 L285.65 959.84 L286.87 960.70 L288.09 961.58 L289.29 962.47 L290.49 963.38 L291.67 964.30 L292.85 965.23 L294.02 966.17 L295.17 967.12 L296.32 968.09 L297.46 969.07 L298.59 970.05 L299.71 971.05 L300.82 972.06 L301.92 973.07 L303.01 974.10 L304.10 975.13 L305.18 976.18 L306.25 977.23 L307.31 978.29 L308.36 979.36 L309.41 980.43 L310.45 981.51 L311.48 982.60 L312.50 983.69 L313.52 984.79 L314.54 985.90 L315.54 987.01 L316.55 988.12 L317.54 989.24 L318.54 990.37 L319.53 991.49 L320.51 992.62 L321.50 993.75 L322.48 994.89 L323.45 996.03 L324.43 997.16 L325.40 998.30 L326.38 999.44 L327.35 1000.58 L328.32 1001.73 L329.30 1002.87 L330.27 1004.01 L331.25 1005.15 L332.22 1006.28 L333.20 1007.42 L334.18 1008.56 L335.16 1009.69 L336.15 1010.82 L337.14 1011.94 L338.13 1013.07 L339.13 1014.19 L340.13 1015.30 L341.14 1016.41 L342.15 1017.52 L343.17 1018.62 L344.20 1019.71 L345.23 1020.80 L346.27 1021.88 L347.31 1022.95 L348.37 1024.02 L349.43 1025.08 L350.50 1026.13 L351.58 1027.17 L352.67 1028.20 L353.77 1029.22 L354.88 1030.23 L356.00 1031.22 L357.13 1032.21 L358.27 1033.18 L359.43 1034.14 L360.59 1035.08 L361.77 1036.01 L362.96 1036.92 L364.16 1037.82 L365.37 1038.70 L366.60 1039.56 L367.84 1040.41 L369.09 1041.23 L370.36 1042.04 L371.64 1042.82 L372.92 1043.59 L374.22 1044.34 L375.53 1045.07 L376.85 1045.79 L378.18 1046.48 L379.51 1047.16 L380.86 1047.83 L382.21 1048.47 L383.57 1049.10 L384.94 1049.72 L386.31 1050.32 L387.69 1050.91 L389.08 1051.48 L390.47 1052.03 L391.87 1052.58 L393.27 1053.11 L394.68 1053.63 L396.09 1054.13 L397.51 1054.63 L398.93 1055.11 L400.35 1055.58 L401.78 1056.04 L403.21 1056.49 L404.64 1056.93 L406.08 1057.36 L407.51 1057.78 L408.96 1058.20 L410.40 1058.60 L411.85 1059.00 L413.29 1059.39 L414.74 1059.77 L416.19 1060.15 L417.65 1060.52 L419.10 1060.88 L420.56 1061.24 L422.01 1061.60 L423.47 1061.95 L424.93 1062.29 L426.39 1062.63 L427.85 1062.97 L429.32 1063.30 L430.78 1063.63 L432.24 1063.96 L433.70 1064.29 L435.17 1064.61 L436.63 1064.93 L438.10 1065.26 L439.56 1065.58 L441.03 1065.90 L442.49 1066.22 L443.96 1066.54 L445.42 1066.86 L446.88 1067.18 L448.35 1067.51 L449.81 1067.83 L451.28 1068.16 L452.74 1068.49 L454.20 1068.81 L455.67 1069.14 L457.13 1069.47 L458.59 1069.80 L460.05 1070.13 L461.52 1070.46 L462.98 1070.79 L464.44 1071.12 L465.91 1071.45 L467.37 1071.78 L468.83 1072.11 L470.29 1072.44 L471.76 1072.77 L473.22 1073.10 L474.68 1073.42 L476.15 1073.75 L477.61 1074.08 L479.07 1074.40 L480.54 1074.73 L482.00 1075.05 L483.47 1075.37 L484.93 1075.69 L486.40 1076.01 L487.86 1076.33 L489.33 1076.64 L490.79 1076.95 L492.26 1077.26 L493.73 1077.57 L495.20 1077.88 L496.67 1078.18 L498.13 1078.49 L499.60 1078.78 L501.07 1079.08 L502.54 1079.38 L504.01 1079.67 L505.49 1079.95 L506.96 1080.24 L508.43 1080.52 L509.90 1080.80 L511.38 1081.07 L512.85 1081.34 L514.33 1081.61 L515.80 1081.87 L517.28 1082.13 L518.76 1082.39 L520.24 1082.64 L521.72 1082.89 L523.20 1083.13 L524.68 1083.37 L526.16 1083.60 L527.64 1083.83 L529.12 1084.05 L530.61 1084.27 L532.09 1084.48 L533.58 1084.69 L535.06 1084.89 L536.55 1085.09 L538.04 1085.28 L539.52 1085.46 L541.01 1085.64 L542.50 1085.82 L543.99 1085.98 L545.48 1086.14 L546.97 1086.30 L548.47 1086.45 L549.96 1086.59 L551.45 1086.72 L552.95 1086.85 L554.44 1086.97 L555.94 1087.09 L557.43 1087.19 L558.93 1087.29 L560.42 1087.39 L561.92 1087.47 L563.42 1087.55 L564.92 1087.63 L566.41 1087.69 L567.91 1087.75 L569.41 1087.81 L570.91 1087.85 L572.41 1087.90 L573.91 1087.93 L575.41 1087.96 L576.91 1087.98 L578.41 1087.99 L579.90 1088.00 L581.40 1088.00 L582.90 1087.99 L584.40 1087.98 L585.90 1087.97 L587.40 1087.94 L588.90 1087.91 L590.40 1087.88 L591.90 1087.83 L593.40 1087.79 L594.90 1087.73 L596.39 1087.67 L597.89 1087.60 L599.39 1087.53 L600.89 1087.45 L602.38 1087.37 L603.88 1087.28 L605.38 1087.18 L606.87 1087.08 L608.37 1086.97 L609.86 1086.86 L611.36 1086.74 L612.85 1086.61 L614.35 1086.48 L615.84 1086.34 L617.33 1086.20 L618.82 1086.05 L620.32 1085.90 L621.81 1085.74 L623.30 1085.58 L624.79 1085.41 L626.28 1085.23 L627.77 1085.05 L629.25 1084.86 L630.74 1084.67 L632.23 1084.48 L633.71 1084.27 L635.20 1084.07 L636.68 1083.85 L638.17 1083.64 L639.65 1083.41 L641.13 1083.18 L642.61 1082.95 L644.09 1082.71 L645.57 1082.47 L647.05 1082.22 L648.53 1081.97 L650.00 1081.71 L651.48 1081.44 L652.96 1081.18 L654.43 1080.90 L655.90 1080.62 L657.38 1080.34 L658.85 1080.05 L660.32 1079.76 L661.79 1079.46 L663.26 1079.16 L664.72 1078.85 L666.19 1078.54 L667.66 1078.23 L669.12 1077.90 L670.58 1077.58 L672.05 1077.25 L673.51 1076.91 L674.97 1076.57 L676.43 1076.23 L677.89 1075.88 L679.34 1075.53 L680.80 1075.17 L682.26 1074.81 L683.71 1074.44 L685.16 1074.07 L686.61 1073.70 L688.07 1073.32 L689.52 1072.93 L690.96 1072.55 L692.41 1072.15 L693.86 1071.76 L695.30 1071.36 L696.75 1070.95 L698.19 1070.54 L699.63 1070.13 L701.07 1069.71 L702.51 1069.29 L703.95 1068.86 L705.38 1068.43 L706.82 1068.00 L708.25 1067.56 L709.68 1067.12 L711.12 1066.67 L712.55 1066.22 L713.98 1065.77 L715.40 1065.31 L716.83 1064.85 L718.25 1064.38 L719.68 1063.91 L721.10 1063.44 L722.52 1062.96 L723.94 1062.48 L725.36 1061.99 L726.78 1061.50 L728.19 1061.01 L729.61 1060.51 L731.02 1060.01 L732.43 1059.51 L733.84 1059.00 L735.25 1058.49 L736.66 1057.97 L738.07 1057.45 L739.47 1056.93 L740.88 1056.40 L742.28 1055.87 L743.68 1055.34 L745.08 1054.80 L746.48 1054.26 L747.88 1053.71 L749.27 1053.17 L750.67 1052.62 L752.06 1052.06 L753.45 1051.50 L754.84 1050.94 L756.23 1050.38 L757.62 1049.82 L759.01 1049.25 L760.40 1048.67 L761.78 1048.10 L763.16 1047.52 L764.55 1046.94 L765.93 1046.36 L767.31 1045.78 L768.69 1045.19 L770.07 1044.60 L771.45 1044.01 L772.82 1043.41 L774.20 1042.82 L775.57 1042.22 L776.95 1041.62 L778.32 1041.01 L779.69 1040.41 L781.06 1039.80 L782.43 1039.20 L783.80 1038.59 L785.17 1037.97 L786.54 1037.36 L787.91 1036.75 L789.28 1036.13 L790.64 1035.51 L792.01 1034.89 L793.37 1034.27 L794.74 1033.65 L796.10 1033.03 L797.46 1032.40 L798.83 1031.78 L800.19 1031.15 L801.55 1030.53 L802.91 1029.90 L804.28 1029.27 L805.64 1028.64 L807.00 1028.01 L808.36 1027.38 L809.72 1026.75 L811.08 1026.12 L812.44 1025.48 L813.80 1024.85 L815.16 1024.22 L816.52 1023.59 L817.87 1022.95 L819.23 1022.32 L820.59 1021.69 L821.95 1021.05 L823.31 1020.42 L824.67 1019.79 L826.03 1019.15 L827.39 1018.52 L828.75 1017.89 L830.11 1017.25 L831.47 1016.62 L832.83 1015.99 L834.19 1015.36 L835.55 1014.73 L836.91 1014.10 L838.27 1013.47 L839.63 1012.84 L840.99 1012.22 L842.36 1011.59 L843.72 1010.96 L845.08 1010.34 L846.45 1009.72 L847.81 1009.09 L849.17 1008.47 L850.54 1007.85 L851.90 1007.23 L853.27 1006.61 L854.63 1005.99 L856.00 1005.37 L857.37 1004.75 L858.73 1004.13 L860.10 1003.51 L861.46 1002.89 L862.83 1002.27 L864.19 1001.66 L865.56 1001.04 L866.92 1000.42 L868.29 999.80 L869.66 999.18 L871.02 998.55 L872.38 997.93 L873.75 997.31 L875.11 996.69 L876.48 996.06 L877.84 995.44 L879.20 994.81 L880.56 994.18 L881.92 993.55 L883.28 992.92 L884.64 992.29 L886.00 991.66 L887.36 991.02 L888.72 990.39 L890.08 989.75 L891.43 989.11 L892.79 988.47 L894.14 987.82 L895.49 987.18 L896.85 986.53 L898.20 985.88 L899.55 985.22 L900.90 984.57 L902.24 983.91 L903.59 983.25 L904.93 982.59 L906.28 981.92 L907.62 981.26 L908.96 980.58 L910.30 979.91 L911.64 979.23 L912.97 978.55 L914.31 977.87 L915.64 977.18 L916.97 976.49 L918.30 975.80 L919.63 975.10 L920.95 974.40 L922.28 973.69 L923.60 972.98 L924.92 972.27 L926.24 971.55 L927.55 970.83 L928.86 970.11 L930.17 969.38 L931.48 968.65 L932.79 967.91 L934.09 967.17 L935.39 966.42 L936.69 965.67 L937.98 964.92 L939.28 964.15 L940.57 963.39 L941.85 962.62 L943.14 961.85 L944.42 961.07 L945.70 960.29 L946.97 959.50 L948.25 958.71 L949.52 957.91 L950.79 957.11 L952.05 956.30 L953.31 955.49 L954.57 954.68 L955.83 953.86 L957.08 953.04 L958.33 952.21 L959.58 951.38 L960.82 950.54 L962.06 949.70 L963.30 948.85 L964.54 948.00 L965.77 947.15 L967.00 946.29 L968.23 945.43 L969.45 944.56 L970.67 943.69 L971.89 942.81 L973.10 941.93 L974.31 941.05 L975.52 940.16 L976.72 939.27 L977.92 938.37 L979.12 937.47 L980.32 936.56 L981.51 935.65 L982.70 934.74 L983.88 933.82 L985.07 932.90 L986.24 931.97 L987.42 931.04 L988.59 930.10 L989.76 929.17 L990.93 928.22 L992.09 927.28 L993.25 926.32 L994.40 925.37 L995.56 924.41 L996.71 923.45 L997.85 922.48 L998.99 921.51 L1000.13 920.53 L1001.27 919.55 L1002.40 918.57 L1003.53 917.58 L1004.65 916.59 L1005.77 915.60 L1006.89 914.60 L1008.01 913.59 L1009.12 912.59 L1010.23 911.58 L1011.33 910.56 L1012.43 909.54 L1013.53 908.52 L1014.62 907.50 L1015.71 906.47 L1016.80 905.43 L1017.88 904.40 L1018.96 903.36 L1020.04 902.31 L1021.11 901.26 L1022.18 900.21 L1023.24 899.16 L1024.31 898.10 L1025.36 897.04 L1026.42 895.97 L1027.47 894.90 L1028.52 893.83 L1029.56 892.75 L1030.60 891.67 L1031.64 890.59 L1032.67 889.50 L1033.70 888.41 L1034.73 887.32 L1035.75 886.22 L1036.77 885.13 L1037.79 884.02 L1038.80 882.92 L1039.81 881.81 L1040.82 880.70 L1041.82 879.58 L1042.82 878.46 L1043.81 877.34 L1044.81 876.22 L1045.79 875.09 L1046.78 873.96 L1047.76 872.82 L1048.74 871.69 L1049.71 870.55 L1050.68 869.41 L1051.65 868.26 L1052.62 867.11 L1053.58 865.96 L1054.53 864.81 L1055.49 863.65 L1056.44 862.49 L1057.38 861.33 L1058.33 860.16 L1059.27 858.99 L1060.20 857.82 L1061.14 856.65 L1062.07 855.47 L1062.99 854.29 L1063.92 853.11 L1064.84 851.93 L1065.75 850.74 L1066.67 849.55 L1067.57 848.36 L1068.48 847.16 L1069.38 845.96 L1070.28 844.76 L1071.18 843.56 L1072.07 842.36 L1072.96 841.15 L1073.84 839.94 L1074.73 838.73 L1075.60 837.51 L1076.48 836.29 L1077.35 835.07 L1078.22 833.85 L1079.08 832.63 L1079.95 831.40 L1080.80 830.17 L1081.66 828.94 L1082.51 827.70 L1083.36 826.47 L1084.20 825.23 L1085.05 823.99 L1085.88 822.74 L1086.72 821.50 L1087.55 820.25 L1088.38 819.00 L1089.20 817.75 L1090.02 816.49 L1090.84 815.24 L1091.66 813.98 L1092.47 812.72 L1093.27 811.45 L1094.08 810.19 L1094.88 808.92 L1095.68 807.65 L1096.47 806.38 L1097.26 805.11 L1098.05 803.83 L1098.84 802.55 L1099.62 801.27 L1100.39 799.99 L1101.17 798.70 L1101.94 797.42 L1102.71 796.13 L1103.47 794.84 L1104.23 793.55 L1104.99 792.26 L1105.74 790.96 L1106.50 789.66 L1107.24 788.36 L1107.99 787.06 L1108.73 785.76 L1109.47 784.45 L1110.21 783.15 L1110.94 781.84 L1111.67 780.53 L1112.40 779.22 L1113.12 777.90 L1113.84 776.59 L1114.56 775.27 L1115.28 773.96 L1115.99 772.64 L1116.70 771.32 L1117.40 769.99 L1118.11 768.67 L1118.81 767.34 L1119.51 766.02 L1120.20 764.69 L1120.90 763.36 L1121.59 762.03 L1122.28 760.70 L1122.96 759.36 L1123.65 758.03 L1124.33 756.69 L1125.00 755.36 L1125.68 754.02 L1126.35 752.68 L1127.02 751.34 L1127.69 749.99 L1128.36 748.65 L1129.02 747.31 L1129.68 745.96 L1130.34 744.61 L1131.00 743.27 L1131.66 741.92 L1132.31 740.57 L1132.96 739.22 L1133.61 737.86 L1134.26 736.51 L1134.90 735.16 L1135.54 733.80 L1136.18 732.45 L1136.82 731.09 L1137.46 729.73 L1138.09 728.37 L1138.73 727.02 L1139.36 725.66 L1139.99 724.29 L1140.62 722.93 L1141.24 721.57 L1141.87 720.21 L1142.49 718.84 L1143.11 717.48 L1143.73 716.11 L1144.35 714.75 L1144.97 713.38 L1145.58 712.01 L1146.20 710.65 L1146.81 709.28 L1147.42 707.91 L1148.03 706.54 L1148.64 705.17 L1149.24 703.80 L1149.85 702.42 L1150.45 701.05 L1151.06 699.68 L1151.66 698.31 L1152.26 696.93 L1152.86 695.56 L1153.46 694.18 L1154.06 692.81 L1154.66 691.43 L1155.25 690.06 L1155.85 688.68 L1156.44 687.30 L1157.04 685.93 L1157.63 684.55 L1158.22 683.17 L1158.81 681.79 L1159.40 680.42 L1159.99 679.04 L1160.58 677.66 L1161.17 676.28 L1161.76 674.90 L1162.35 673.52 L1162.93 672.14 L1163.52 670.76 L1164.10 669.38 L1164.69 668.00 L1165.28 666.62 L1165.86 665.24 L1166.44 663.86 L1167.03 662.48 L1167.61 661.10 L1168.20 659.72 L1168.78 658.33 L1169.36 656.95 L1169.95 655.57 L1170.53 654.19 L1171.11 652.81 L1171.70 651.43 L1172.28 650.05 L1172.86 648.66 L1173.45 647.28 L1174.03 645.90 L1174.61 644.52 L1175.20 643.14 L1175.78 641.76 L1176.37 640.38 L1176.95 639.00 L1177.54 637.62 L1178.12 636.24 L1178.71 634.86 L1179.29 633.48 L1179.88 632.10 L1180.47 630.72 L1181.05 629.34 L1181.64 627.96 L1182.23 626.58 L1182.82 625.20 L1183.41 623.82 L1184.00 622.44 L1184.59 621.06 L1185.18 619.69 L1185.78 618.31 L1186.37 616.93 L1186.96 615.56 L1187.56 614.18 L1188.16 612.80 L1188.75 611.43 L1189.35 610.05 L1189.95 608.68 L1190.55 607.30 L1191.15 605.93 L1191.75 604.56 L1192.36 603.19 L1192.96 601.81 L1193.57 600.44 L1194.18 599.07 L1194.78 597.70 L1195.39 596.33 L1196.01 594.96 L1196.62 593.59 L1197.23 592.22 L1197.85 590.86 L1198.46 589.49 L1199.08 588.12 L1199.70 586.76 L1200.32 585.39 L1200.95 584.03 L1201.57 582.67 L1202.20 581.30 L1202.82 579.94 L1203.45 578.58 L1204.09 577.22 L1204.72 575.86 L1205.35 574.50 L1205.99 573.15 L1206.63 571.79 L1207.27 570.43 L1207.91 569.08 L1208.56 567.73 L1209.20 566.37 L1209.85 565.02 L1210.50 563.67 L1211.15 562.32 L1211.81 560.97 L1212.47 559.62 L1213.12 558.28 L1213.79 556.93 L1214.45 555.58 L1215.11 554.24 L1215.78 552.90 L1216.45 551.56 L1217.12 550.22 L1217.80 548.88 L1218.48 547.54 L1219.15 546.20 L1219.84 544.87 L1220.52 543.53 L1221.20 542.20 L1221.89 540.87 L1222.58 539.53 L1223.27 538.20 L1223.96 536.87 L1224.66 535.54 L1225.36 534.22 L1226.05 532.89 L1226.75 531.56 L1227.46 530.24 L1228.16 528.91 L1228.86 527.59 L1229.57 526.27 L1230.28 524.95 L1230.99 523.63 L1231.70 522.31 L1232.42 520.99 L1233.13 519.67 L1233.85 518.35 L1234.56 517.04 L1235.28 515.72 L1236.00 514.41 L1236.73 513.09 L1237.45 511.78 L1238.17 510.47 L1238.90 509.15 L1239.63 507.84 L1240.36 506.53 L1241.09 505.22 L1241.82 503.91 L1242.55 502.60 L1243.28 501.30 L1244.02 499.99 L1244.75 498.68 L1245.49 497.37 L1246.22 496.07 L1246.96 494.76 L1247.70 493.46 L1248.44 492.15 L1249.18 490.85 L1249.92 489.55 L1250.67 488.25 L1251.41 486.94 L1252.15 485.64 L1252.90 484.34 L1253.64 483.04 L1254.39 481.74 L1255.14 480.44 L1255.88 479.14 L1256.63 477.84 L1257.38 476.54 L1258.13 475.24 L1258.88 473.94 L1259.63 472.64 L1260.38 471.35 L1261.13 470.05 L1261.88 468.75 L1262.64 467.45 L1263.39 466.16 L1264.14 464.86 L1264.89 463.56 L1265.65 462.27 L1266.40 460.97 L1267.15 459.67 L1267.91 458.38 L1268.66 457.08 L1269.42 455.78 L1270.17 454.49 L1270.92 453.19 L1271.68 451.90 L1272.43 450.60 L1273.19 449.31 L1273.94 448.01 L1274.70 446.71 L1275.45 445.42 L1276.20 444.12 L1276.96 442.82 L1277.71 441.53 L1278.46 440.23 L1279.22 438.94 L1279.97 437.64 L1280.72 436.34 L1281.47 435.04 L1282.23 433.75 L1282.98 432.45 L1283.73 431.15 L1284.48 429.85 L1285.23 428.56 L1285.98 427.26 L1286.73 425.96 L1287.48 424.66 L1288.23 423.36 L1288.97 422.06 L1289.72 420.76 L1290.47 419.46 L1291.21 418.16 L1291.96 416.86 L1292.70 415.55 L1293.44 414.25 L1294.18 412.95 L1294.93 411.65 L1295.67 410.34 L1296.41 409.04 L1297.15 407.73 L1297.89 406.43 L1298.62 405.12 L1299.36 403.82 L1300.10 402.51 L1300.84 401.21 L1301.57 399.90 L1302.31 398.60 L1303.05 397.29 L1303.78 395.98 L1304.52 394.68 L1305.25 393.37 L1305.99 392.06 L1306.72 390.75 L1307.46 389.45 L1308.19 388.14 L1308.93 386.83 L1309.66 385.53 L1310.40 384.22 L1311.13 382.91 L1311.86 381.60 L1312.60 380.30 L1313.33 378.99 L1314.07 377.68 L1314.80 376.38 L1315.54 375.07 L1316.27 373.76 L1317.01 372.46 L1317.75 371.15 L1318.48 369.84 L1319.22 368.54 L1319.95 367.23 L1320.69 365.92 L1321.43 364.62 L1322.17 363.31 L1322.91 362.01 L1323.65 360.71 L1324.39 359.40 L1325.13 358.10 L1325.87 356.79 L1326.61 355.49 L1327.35 354.19 L1328.10 352.89 L1328.84 351.58 L1329.58 350.28 L1330.33 348.98 L1331.08 347.68 L1331.82 346.38 L1332.57 345.08 L1333.32 343.78 L1334.07 342.48 L1334.82 341.18 L1335.57 339.89 L1336.32 338.59 L1337.08 337.29 L1337.83 336.00 L1338.59 334.70 L1339.35 333.41 L1340.10 332.12 L1340.86 330.82 L1341.62 329.53 L1342.39 328.24 L1343.15 326.95 L1343.91 325.66 L1344.68 324.37 L1345.45 323.08 L1346.21 321.79 L1346.98 320.51 L1347.75 319.22 L1348.53 317.93 L1349.30 316.65 L1350.07 315.37 L1350.85 314.08 L1351.63 312.80 L1352.41 311.52 L1353.19 310.24 L1353.97 308.96 L1354.75 307.68 L1355.54 306.41 L1356.33 305.13 L1357.12 303.85 L1357.91 302.58 L1358.70 301.31 L1359.49 300.03 L1360.29 298.76 L1361.08 297.49 L1361.88 296.22 L1362.68 294.95 L1363.49 293.69 L1364.29 292.43 L1365.11 291.17 L1365.93 289.92 L1366.77 288.67 L1367.61 287.43 L1368.47 286.20 L1369.35 284.98 L1370.23 283.78 L1371.14 282.58 L1372.07 281.40 L1373.02 280.24 L1373.99 279.10 L1374.99 277.99 L1376.02 276.89 L1377.08 275.83 L1378.17 274.80 L1379.29 273.81 L1380.46 272.86 L1381.65 271.96 L1382.89 271.11 L1384.17 270.33 L1385.48 269.61 L1386.83 268.96 L1388.22 268.39 L1389.64 267.90 L1391.08 267.50 L1392.55 267.20 L1394.03 266.98 L1395.53 266.85 L1397.03 266.80 L1398.52 266.82 L1400.02 266.92 L1401.51 267.08 L1402.99 267.30 L1404.47 267.58 L1405.93 267.92 L1407.37 268.31 L1408.81 268.76 L1410.22 269.25 L1411.62 269.80 L1413.00 270.39 L1414.35 271.03 L1415.69 271.71 L1417.00 272.45 L1418.28 273.22 L1419.53 274.04 L1420.76 274.90 L1421.96 275.81 L1423.13 276.74 L1424.27 277.72 L1425.38 278.72 L1426.46 279.76 L1427.52 280.82 L1428.55 281.92 L1429.55 283.03 L1430.53 284.17 L1431.48 285.33 L1432.41 286.51 L1433.31 287.70 L1434.20 288.91 L1435.06 290.14 L1435.90 291.38 L1436.73 292.63 L1437.54 293.89 L1438.34 295.16 L1439.12 296.44 L1439.88 297.73 L1440.63 299.03 L1441.38 300.33 L1442.11 301.64 L1442.83 302.95 L1443.55 304.27 L1444.26 305.59 L1444.96 306.92 L1445.66 308.24 L1446.35 309.57 L1447.04 310.90 L1447.73 312.23 L1448.42 313.57 L1449.11 314.90 L1449.79 316.23 L1450.47 317.57 L1451.15 318.90 L1451.83 320.24 L1452.51 321.58 L1453.19 322.92 L1453.87 324.25 L1454.55 325.59 L1455.23 326.93 L1455.91 328.26 L1456.59 329.60 L1457.27 330.93 L1457.95 332.27 L1458.64 333.60 L1459.32 334.94 L1460.01 336.27 L1460.70 337.60 L1461.40 338.93 L1462.09 340.26 L1462.80 341.58 L1463.50 342.91 L1464.21 344.23 L1464.92 345.55 L1465.64 346.86 L1466.36 348.18 L1467.08 349.49 L1467.82 350.80 L1468.55 352.10 L1469.30 353.41 L1470.05 354.70 L1470.80 356.00 L1471.57 357.29 L1472.34 358.58 L1473.11 359.86 L1473.90 361.14 L1474.69 362.41 L1475.49 363.68 L1476.30 364.94 L1477.12 366.20 L1477.94 367.45 L1478.78 368.70 L1479.62 369.93 L1480.47 371.17 L1481.34 372.39 L1482.21 373.61 L1483.09 374.83 L1483.98 376.03 L1484.89 377.23 L1485.80 378.42 L1486.72 379.60 L1487.66 380.77 L1488.60 381.94 L1489.56 383.09 L1490.52 384.24 L1491.50 385.38 L1492.49 386.50 L1493.49 387.62 L1494.50 388.73 L1495.52 389.82 L1496.56 390.91 L1497.60 391.98 L1498.66 393.05 L1499.73 394.10 L1500.81 395.14 L1501.91 396.16 L1503.01 397.18 L1504.13 398.18 L1505.26 399.16 L1506.40 400.14 L1507.55 401.10 L1508.72 402.04 L1509.89 402.97 L1511.08 403.88 L1512.28 404.78 L1513.49 405.66 L1514.72 406.53 L1515.95 407.38 L1517.19 408.22 L1518.44 409.06 L1519.68 409.90 L1520.93 410.73 L1522.17 411.58 L1523.40 412.43 L1524.62 413.30 L1525.83 414.18 L1527.03 415.09 L1528.21 416.01 L1529.37 416.96 L1530.52 417.92 L1531.66 418.90 L1532.78 419.90 L1533.88 420.91 L1534.97 421.94 L1536.04 422.99 L1537.10 424.05 L1538.15 425.13 L1539.18 426.22 L1540.19 427.32 L1541.20 428.43 L1542.19 429.56 L1543.17 430.69 L1544.13 431.84 L1545.08 433.00 L1546.02 434.17 L1546.95 435.35 L1547.87 436.53 L1548.78 437.73 L1549.67 438.93 L1550.56 440.14 L1551.43 441.35 L1552.30 442.58 L1553.16 443.81 L1554.01 445.04 L1554.85 446.28 L1555.68 447.53 L1556.51 448.78 L1557.32 450.04 L1558.13 451.30 L1558.93 452.57 L1559.73 453.85 L1560.51 455.12 L1561.29 456.41 L1562.05 457.69 L1562.81 458.99 L1563.57 460.28 L1564.31 461.58 L1565.05 462.89 L1565.78 464.20 L1566.50 465.51 L1567.21 466.83 L1567.92 468.16 L1568.62 469.48 L1569.31 470.81 L1569.99 472.15 L1570.67 473.49 L1571.34 474.83 L1572.00 476.17 L1572.66 477.52 L1573.31 478.87 L1573.95 480.23 L1574.58 481.59 L1575.21 482.95 L1575.83 484.32 L1576.44 485.68 L1577.05 487.05 L1577.65 488.43 L1578.24 489.81 L1578.83 491.19 L1579.41 492.57 L1579.99 493.95 L1580.55 495.34 L1581.12 496.73 L1581.67 498.12 L1582.22 499.52 L1582.77 500.91 L1583.31 502.31 L1583.84 503.72 L1584.37 505.12 L1584.89 506.52 L1585.40 507.93 L1585.91 509.34 L1586.42 510.75 L1586.92 512.17 L1587.42 513.58 L1587.91 515.00 L1588.39 516.42 L1588.87 517.84 L1589.35 519.26 L1589.82 520.69 L1590.28 522.11 L1590.74 523.54 L1591.20 524.97 L1591.65 526.40 L1592.10 527.83 L1592.54 529.26 L1592.98 530.69 L1593.42 532.13 L1593.85 533.56 L1594.28 535.00 L1594.70 536.44 L1595.12 537.88 L1595.54 539.32 L1595.95 540.76 L1596.36 542.20 L1596.77 543.65 L1597.17 545.09 L1597.57 546.54 L1597.96 547.98 L1598.36 549.43 L1598.75 550.88 L1599.13 552.33 L1599.52 553.77 L1599.90 555.23 L1600.28 556.68 L1600.65 558.13 L1601.03 559.58 L1601.40 561.03 L1601.77 562.49 L1602.13 563.94 L1602.50 565.39 L1602.86 566.85 L1603.22 568.31 L1603.58 569.76 L1603.93 571.22 L1604.29 572.67 L1604.64 574.13 L1604.99 575.59 L1605.34 577.05 L1605.69 578.51 L1606.04 579.97 L1606.38 581.42 L1606.73 582.88 L1607.07 584.34 L1607.41 585.80 L1607.75 587.26 L1608.09 588.72 L1608.43 590.18 L1608.77 591.65 L1609.10 593.11 L1609.44 594.57 L1609.77 596.03 L1610.11 597.49 L1610.44 598.95 L1610.77 600.42 L1611.10 601.88 L1611.43 603.34 L1611.76 604.81 L1612.08 606.27 L1612.41 607.73 L1612.73 609.20 L1613.06 610.66 L1613.38 612.13 L1613.70 613.59 L1614.02 615.05 L1614.34 616.52 L1614.66 617.98 L1614.98 619.45 L1615.30 620.92 L1615.61 622.38 L1615.93 623.85 L1616.24 625.31 L1616.55 626.78 L1616.86 628.25 L1617.18 629.71 L1617.49 631.18 L1617.80 632.65 L1618.10 634.12 L1618.41 635.58 L1618.72 637.05 L1619.02 638.52 L1619.33 639.99 L1619.63 641.46 L1619.93 642.92 L1620.24 644.39 L1620.54 645.86 L1620.84 647.33 L1621.14 648.80 L1621.44 650.27 L1621.73 651.74 L1622.03 653.21 L1622.33 654.68 L1622.62 656.15 L1622.92 657.62 L1623.21 659.09 L1623.50 660.56 L1623.79 662.03 L1624.09 663.50 L1624.38 664.97 L1624.67 666.44 L1624.96 667.92 L1625.24 669.39 L1625.53 670.86 L1625.82 672.33 L1626.10 673.80 L1626.39 675.27 L1626.67 676.75 L1626.96 678.22 L1627.24 679.69 L1627.52 681.16 L1627.80 682.64 L1628.09 684.11 L1628.37 685.58 L1628.65 687.06 L1628.92 688.53 L1629.20 690.00 L1629.48 691.48 L1629.76 692.95 L1630.03 694.42 L1630.31 695.90 L1630.58 697.37 L1630.86 698.85 L1631.13 700.32 L1631.40 701.79 L1631.68 703.27 L1631.95 704.74 L1632.22 706.22 L1632.49 707.69 L1632.76 709.17 L1633.03 710.64 L1633.30 712.12 L1633.57 713.59 L1633.84 715.07 L1634.10 716.54 L1634.37 718.02 L1634.64 719.49 L1634.90 720.97 L1635.17 722.45 L1635.43 723.92 L1635.70 725.40 L1635.96 726.87 L1636.22 728.35 L1636.49 729.83 L1636.75 731.30 L1637.01 732.78 L1637.27 734.26 L1637.53 735.73 L1637.79 737.21 L1638.05 738.69 L1638.31 740.16 L1638.57 741.64 L1638.83 743.12 L1639.09 744.59 L1639.35 746.07 L1639.60 747.55 L1639.86 749.03 L1640.12 750.50 L1640.37 751.98 L1640.63 753.46 L1640.89 754.94 L1641.14 756.41 L1641.40 757.89 L1641.65 759.37 L1641.90 760.85 L1642.16 762.32 L1642.41 763.80 L1642.66 765.28 L1642.92 766.76 L1643.17 768.24 L1643.42 769.71 L1643.67 771.19 L1643.93 772.67 L1644.18 774.15 L1644.43 775.63 L1644.68 777.10 L1644.93 778.58 L1645.18 780.06 L1645.43 781.54 L1645.68 783.02 L1645.93 784.50 L1646.18 785.98 L1646.43 787.45 L1646.68 788.93 L1646.93 790.41 L1647.17 791.89 L1647.42 793.37 L1647.67 794.85 L1647.92 796.33 L1648.17 797.81 L1648.41 799.28 L1648.66 800.76 L1648.91 802.24 L1649.16 803.72 L1649.40 805.20 L1649.65 806.68 L1649.90 808.16 L1650.15 809.64 L1650.39 811.12 L1650.64 812.59 L1650.89 814.07 L1651.13 815.55 L1651.38 817.03 L1651.63 818.51 L1651.87 819.99 L1652.12 821.47 L1652.37 822.95 L1652.62 824.43 L1652.87 825.91 L1653.11 827.38 L1653.36 828.86 L1653.61 830.34 L1653.86 831.82 L1654.11 833.30 L1654.36 834.78 L1654.61 836.26 L1654.86 837.73 L1655.11 839.21 L1655.36 840.69 L1655.61 842.17 L1655.86 843.65 L1656.11 845.13 L1656.36 846.60 L1656.61 848.08 L1656.87 849.56 L1657.12 851.04 L1657.37 852.52 L1657.63 853.99 L1657.88 855.47 L1658.14 856.95 L1658.39 858.43 L1658.65 859.90 L1658.91 861.38 L1659.17 862.86 L1659.43 864.34 L1659.68 865.81 L1659.94 867.29 L1660.21 868.77 L1660.47 870.24 L1660.73 871.72 L1660.99 873.19 L1661.25 874.67 L1661.52 876.15 L1661.78 877.62 L1662.05 879.10 L1662.32 880.57 L1662.59 882.05 L1662.85 883.52 L1663.12 885.00 L1663.39 886.47 L1663.67 887.95 L1663.94 889.42 L1664.21 890.90 L1664.49 892.37 L1664.76 893.85 L1665.04 895.32 L1665.31 896.79 L1665.59 898.27 L1665.87 899.74 L1666.15 901.21 L1666.44 902.69 L1666.72 904.16 L1667.00 905.63 L1667.29 907.10 L1667.57 908.57 L1667.86 910.05 L1668.15 911.52 L1668.44 912.99 L1668.73 914.46 L1669.03 915.93 L1669.32 917.40 L1669.62 918.87 L1669.91 920.34 L1670.21 921.81 L1670.51 923.28 L1670.81 924.75 L1671.11 926.22 L1671.42 927.68 L1671.72 929.15 L1672.03 930.62 L1672.34 932.09 L1672.65 933.55 L1672.96 935.02 L1673.27 936.49 L1673.59 937.95 L1673.90 939.42 L1674.22 940.89 L1674.54 942.35 L1674.86 943.81 L1675.18 945.28 L1675.51 946.74 L1675.83 948.21 L1676.16 949.67 L1676.49 951.13 L1676.82 952.60 L1677.15 954.06 L1677.48 955.52 L1677.82 956.98 L1678.16 958.44 L1678.50 959.90 L1678.84 961.36 L1679.18 962.82 L1679.53 964.28 L1679.88 965.74 L1680.22 967.20 L1680.58 968.66 L1680.93 970.11 L1681.28 971.57 L1681.64 973.03 L1682.00 974.48 L1682.36 975.94 L1682.72 977.39 L1683.09 978.85 L1683.45 980.30 L1683.82 981.75 L1684.19 983.21 L1684.57 984.66 L1684.94 986.11 L1685.32 987.56 L1685.70 989.01 L1686.08 990.46 L1686.46 991.91 L1686.85 993.36 L1687.24 994.81 L1687.63 996.26 L1688.02 997.71 L1688.41 999.15 L1688.81 1000.60 L1689.21 1002.04 L1689.61 1003.49 L1690.01 1004.93 L1690.42 1006.38 L1690.83 1007.82 L1691.24 1009.26 L1691.65 1010.70 L1692.07 1012.14 L1692.48 1013.58 L1692.90 1015.02 L1693.33 1016.46 L1693.75 1017.90 L1694.18 1019.34 L1694.61 1020.77 L1695.04 1022.21 L1695.48 1023.64 L1695.91 1025.08 L1696.35 1026.51 L1696.79 1027.94 L1697.24 1029.38 L1697.69 1030.81 L1698.14 1032.24 L1698.59 1033.67 L1699.04 1035.10 L1699.50 1036.52 L1699.96 1037.95 L1700.42 1039.38 L1700.89 1040.80 L1701.36 1042.23 L1701.83 1043.65 L1702.30 1045.07 L1702.78 1046.50 L1703.26 1047.92 L1703.74 1049.34 L1704.22 1050.76 L1704.71 1052.18 L1705.20 1053.59 L1705.69 1055.01 L1706.18 1056.42 L1706.68 1057.84 L1707.18 1059.25 L1707.69 1060.66 L1708.20 1062.07 L1708.71 1063.48 L1709.23 1064.89 L1709.75 1066.30 L1710.28 1067.70 L1710.81 1069.10 L1711.35 1070.50 L1711.90 1071.90 L1712.45 1073.29 L1713.01 1074.68 L1713.58 1076.07 L1714.15 1077.45 L1714.74 1078.83 L1715.33 1080.21 L1715.94 1081.58 L1716.55 1082.95 L1717.17 1084.32 L1717.80 1085.68 L1718.45 1087.03 L1719.10 1088.38 L1719.77 1089.72 L1720.45 1091.06 L1721.14 1092.39 L1721.85 1093.71 L1722.57 1095.03 L1723.30 1096.33 L1724.05 1097.63 L1724.81 1098.93 L1725.59 1100.21 L1726.38 1101.48 L1727.19 1102.74 L1728.01 1104.00 L1728.85 1105.24 L1729.71 1106.47 L1730.59 1107.68 L1731.48 1108.89 L1732.39 1110.08 L1733.32 1111.26 L1734.27 1112.42 L1735.24 1113.56 L1736.22 1114.69 L1737.23 1115.81 L1738.25 1116.90 L1739.29 1117.98 L1740.36 1119.04 L1741.44 1120.08 L1742.54 1121.10 L1743.66 1122.09 L1744.79 1123.07 L1745.95 1124.03 L1747.12 1124.96 L1748.31 1125.88 L1749.51 1126.78 L1750.72 1127.66 L1751.95 1128.51 L1753.19 1129.35 L1754.45 1130.18 L1755.71 1130.98 L1756.99 1131.77 L1758.28 1132.54 L1759.57 1133.29 L1760.88 1134.03 L1762.19 1134.75 L1763.51 1135.46 L1764.84 1136.15 L1766.18 1136.83 L1767.53 1137.49 L1768.88 1138.14 L1770.24 1138.78 L1771.60 1139.40 L1772.97 1140.01 L1774.35 1140.60 L1775.73 1141.19 L1777.11 1141.76 L1778.50 1142.32 L1779.90 1142.87 L1781.30 1143.41 L1782.71 1143.93 L1784.11 1144.44 L1785.53 1144.95 L1786.94 1145.44 L1788.37 1145.91 L1789.79 1146.38 L1791.22 1146.84 L1792.65 1147.28 L1794.09 1147.72 L1795.52 1148.14 L1796.96 1148.56 L1798.41 1148.96 L1799.86 1149.35 L1801.30 1149.74 L1802.76 1150.11 L1804.21 1150.48 L1805.67 1150.83 L1807.13 1151.18 L1808.59 1151.52 L1810.05 1151.85 L1811.52 1152.17 L1812.98 1152.48 L1814.45 1152.78 L1815.92 1153.08 L1817.39 1153.36 L1818.87 1153.64 L1820.34 1153.92 L1821.82 1154.18 L1823.29 1154.44 L1824.77 1154.69 L1826.25 1154.93 L1827.73 1155.17 L1829.21 1155.40 L1830.70 1155.63 L1832.18 1155.85 L1833.66 1156.06 L1835.15 1156.27 L1836.63 1156.47 L1838.12 1156.66 L1839.61 1156.85 L1841.10 1157.04 L1842.58 1157.22 L1844.07 1157.40 L1845.56 1157.57 L1847.05 1157.74 L1848.54 1157.90 L1850.03 1158.06 L1851.53 1158.22 L1853.02 1158.37 L1854.51 1158.52 L1856.00 1158.67 L1857.49 1158.81 L1858.99 1158.95 L1860.48 1159.09 L1861.97 1159.22 L1863.47 1159.35 L1864.96 1159.48 L1866.46 1159.61 L1867.95 1159.74 L1869.44 1159.86 L1870.94 1159.98 L1872.43 1160.10 L1873.93 1160.22 L1875.42 1160.34 L1876.92 1160.46 L1878.41 1160.58 L1879.91 1160.69 L1881.40 1160.81 L1882.90 1160.92 L1884.39 1161.04 L1885.89 1161.15 L1887.38 1161.26 L1888.88 1161.37 L1890.37 1161.47 L1891.87 1161.58 L1893.36 1161.69 L1894.86 1161.79 L1896.36 1161.90 L1897.85 1162.00 L1899.35 1162.10 L1900.84 1162.20 L1902.34 1162.30 L1903.84 1162.40 L1905.33 1162.50 L1906.83 1162.60 L1908.33 1162.69 L1909.82 1162.79 L1911.32 1162.88 L1912.82 1162.98 L1914.31 1163.07 L1915.81 1163.16 L1917.31 1163.25 L1918.80 1163.34 L1920.30 1163.43 L1921.80 1163.51 L1923.29 1163.60 L1924.79 1163.68 L1926.29 1163.77 L1927.78 1163.85 L1929.28 1163.93 L1930.78 1164.02 L1932.28 1164.10 L1933.77 1164.18 L1935.27 1164.26 L1936.77 1164.33 L1938.27 1164.41 L1939.76 1164.49 L1941.26 1164.56 L1942.76 1164.64 L1944.26 1164.71 L1945.75 1164.78 L1947.25 1164.85 L1948.75 1164.92 L1950.25 1164.99 L1951.74 1165.06 L1953.24 1165.13 L1954.74 1165.20 L1956.24 1165.27 L1957.74 1165.33 L1959.23 1165.40 L1960.73 1165.46 L1962.23 1165.52 L1963.73 1165.59 L1965.23 1165.65 L1966.73 1165.71 L1968.22 1165.77 L1969.72 1165.83 L1971.22 1165.89 L1972.72 1165.94 L1974.22 1166.00 L1975.72 1166.06 L1977.21 1166.11 L1978.71 1166.17 L1980.21 1166.22 L1981.71 1166.28 L1983.21 1166.33 L1984.71 1166.38 L1986.21 1166.43 L1987.70 1166.48 L1989.20 1166.53 L1990.70 1166.58 L1992.20 1166.63 L1993.70 1166.67 L1995.20 1166.72 L1996.70 1166.77 L1998.19 1166.81 L1999.69 1166.86 L2001.19 1166.90 L2002.69 1166.95 L2004.19 1166.99 L2005.69 1167.03 L2007.19 1167.07 L2008.69 1167.11 L2010.19 1167.15 L2011.68 1167.19 L2013.18 1167.23 L2014.68 1167.27 L2016.18 1167.31 L2017.68 1167.34 L2019.18 1167.38 L2020.68 1167.42 L2022.18 1167.45 L2023.68 1167.49 L2025.18 1167.52 L2026.67 1167.55 L2028.17 1167.59 L2029.67 1167.62 L2031.17 1167.65 L2032.67 1167.68 L2034.17 1167.71 L2035.67 1167.74 L2037.17 1167.77 L2038.67 1167.80 L2040.17 1167.83 L2041.67 1167.86 L2043.17 1167.89 L2044.66 1167.92 L2046.16 1167.94 L2047.66 1167.97 L2049.16 1167.99 L2050.66 1168.02 L2052.16 1168.04 L2053.66 1168.07 L2055.16 1168.09 L2056.66 1168.12 L2058.16 1168.14 L2059.66 1168.16 L2061.16 1168.18 L2062.66 1168.21 L2064.15 1168.23 L2065.65 1168.25 L2067.15 1168.27 L2068.65 1168.29 L2070.15 1168.31 L2071.65 1168.33 L2073.15 1168.35 L2074.65 1168.36 L2076.15 1168.38 L2077.65 1168.40 L2079.15 1168.42 L2080.65 1168.43 L2082.15 1168.45 L2083.65 1168.47 L2085.15 1168.48 L2086.65 1168.50 L2088.14 1168.51 L2089.64 1168.53 L2091.14 1168.54 L2092.64 1168.56 L2094.14 1168.57 L2095.64 1168.59 L2097.14 1168.60 L2098.64 1168.61 L2100.14 1168.63 L2101.64 1168.64 L2103.14 1168.65 L2104.64 1168.66 L2106.14 1168.67 L2107.64 1168.69 L2109.14 1168.70 L2110.64 1168.71 L2112.13 1168.72 L2113.63 1168.73 L2115.13 1168.74 L2116.63 1168.75 L2118.13 1168.76 L2119.63 1168.77 L2121.13 1168.78 L2122.63 1168.79 L2124.13 1168.80 L2125.63 1168.81 L2127.13 1168.82 L2128.63 1168.82 L2130.13 1168.83 L2131.63 1168.84 L2133.13 1168.85 L2134.63 1168.86 L2136.13 1168.86 L2137.63 1168.87 L2139.12 1168.88 L2140.62 1168.89 L2142.12 1168.90 L2143.62 1168.90 L2145.12 1168.91 L2146.62 1168.92 L2148.12 1168.92 L2149.62 1168.93 L2151.12 1168.94 L2152.62 1168.94 L2154.12 1168.95 L2155.62 1168.96 L2157.12 1168.96 L2158.62 1168.97 L2160.12 1168.98 L2161.62 1168.98 L2163.12 1168.99 L2164.62 1169.00 L2166.11 1169.00 L2167.61 1169.01 L2169.11 1169.01 L2170.61 1169.02 L2172.11 1169.03" stroke="#ff1e1e"/>
<path d="M260.81 777.66 L262.18 778.28 L263.53 778.93 L264.86 779.62 L266.18 780.34 L267.48 781.09 L268.75 781.87 L270.01 782.69 L271.25 783.53 L272.47 784.41 L273.67 785.31 L274.84 786.25 L275.99 787.21 L277.12 788.20 L278.22 789.21 L279.30 790.25 L280.36 791.32 L281.39 792.41 L282.40 793.51 L283.39 794.64 L284.35 795.79 L285.30 796.96 L286.22 798.14 L287.11 799.34 L287.99 800.56 L288.85 801.79 L289.69 803.04 L290.51 804.29 L291.31 805.56 L292.09 806.84 L292.86 808.13 L293.61 809.43 L294.34 810.73 L295.07 812.05 L295.78 813.37 L296.47 814.70 L297.16 816.03 L297.83 817.37 L298.50 818.71 L299.15 820.06 L299.80 821.42 L300.44 822.77 L301.07 824.13 L301.70 825.50 L302.32 826.86 L302.94 828.23 L303.55 829.59 L304.17 830.96 L304.78 832.33 L305.38 833.70 L305.99 835.08 L306.59 836.45 L307.20 837.82 L307.80 839.20 L308.40 840.57 L308.99 841.95 L309.59 843.32 L310.18 844.70 L310.78 846.08 L311.37 847.46 L311.96 848.83 L312.55 850.21 L313.14 851.59 L313.73 852.97 L314.32 854.35 L314.91 855.73 L315.49 857.11 L316.08 858.49 L316.67 859.87 L317.26 861.25 L317.84 862.63 L318.43 864.01 L319.02 865.39 L319.61 866.77 L320.20 868.15 L320.78 869.53 L321.37 870.91 L321.96 872.29 L322.56 873.66 L323.15 875.04 L323.74 876.42 L324.34 877.80 L324.93 879.17 L325.53 880.55 L326.13 881.92 L326.73 883.30 L327.33 884.67 L327.94 886.04 L328.54 887.42 L329.15 888.79 L329.76 890.16 L330.38 891.53 L330.99 892.89 L331.61 894.26 L332.23 895.63 L332.85 896.99 L333.48 898.35 L334.11 899.71 L334.74 901.08 L335.37 902.43 L336.01 903.79 L336.65 905.15 L337.29 906.50 L337.94 907.86 L338.59 909.21 L339.25 910.56 L339.90 911.90 L340.57 913.25 L341.23 914.59 L341.90 915.94 L342.58 917.28 L343.25 918.61 L343.94 919.95 L344.62 921.28 L345.31 922.61 L346.01 923.94 L346.71 925.27 L347.41 926.59 L348.12 927.91 L348.84 929.23 L349.56 930.55 L350.28 931.86 L351.01 933.17 L351.75 934.48 L352.50 935.78 L353.25 937.08 L354.00 938.37 L354.76 939.66 L355.53 940.95 L356.31 942.24 L357.09 943.51 L357.88 944.79 L358.68 946.06 L359.48 947.33 L360.30 948.59 L361.12 949.84 L361.94 951.09 L362.78 952.34 L363.63 953.58 L364.48 954.81 L365.34 956.04 L366.21 957.26 L367.09 958.47 L367.98 959.68 L368.88 960.88 L369.78 962.08 L370.70 963.26 L371.63 964.44 L372.56 965.62 L373.51 966.78 L374.47 967.93 L375.43 969.08 L376.41 970.22 L377.40 971.35 L378.40 972.47 L379.41 973.58 L380.43 974.67 L381.46 975.76 L382.50 976.84 L383.55 977.91 L384.62 978.97 L385.69 980.01 L386.78 981.05 L387.88 982.07 L388.99 983.07 L390.11 984.07 L391.24 985.05 L392.39 986.02 L393.54 986.98 L394.71 987.92 L395.89 988.85 L397.08 989.76 L398.28 990.65 L399.50 991.54 L400.72 992.40 L401.96 993.25 L403.20 994.09 L404.46 994.90 L405.73 995.71 L407.00 996.50 L408.28 997.29 L409.56 998.06 L410.85 998.82 L412.15 999.58 L413.45 1000.33 L414.75 1001.07 L416.05 1001.81 L417.36 1002.55 L418.67 1003.29 L419.97 1004.02 L421.28 1004.76 L422.59 1005.49 L423.89 1006.24 L425.19 1006.98 L426.49 1007.73 L427.79 1008.49 L429.08 1009.25 L430.36 1010.03 L431.64 1010.81 L432.91 1011.61 L434.18 1012.41 L435.43 1013.23 L436.68 1014.06 L437.93 1014.89 L439.17 1015.74 L440.41 1016.59 L441.64 1017.44 L442.87 1018.30 L444.10 1019.16 L445.32 1020.02 L446.55 1020.89 L447.78 1021.75 L449.01 1022.61 L450.24 1023.46 L451.47 1024.31 L452.71 1025.16 L453.96 1026.00 L455.20 1026.83 L456.46 1027.65 L457.72 1028.46 L458.98 1029.27 L460.26 1030.06 L461.53 1030.85 L462.81 1031.63 L464.10 1032.40 L465.39 1033.17 L466.69 1033.92 L467.99 1034.67 L469.29 1035.41 L470.60 1036.14 L471.91 1036.87 L473.23 1037.59 L474.55 1038.30 L475.87 1039.00 L477.20 1039.70 L478.53 1040.39 L479.86 1041.08 L481.20 1041.76 L482.54 1042.43 L483.89 1043.09 L485.23 1043.75 L486.58 1044.41 L487.94 1045.06 L489.29 1045.70 L490.65 1046.34 L492.01 1046.97 L493.37 1047.59 L494.74 1048.21 L496.11 1048.83 L497.48 1049.43 L498.85 1050.04 L500.23 1050.63 L501.61 1051.22 L502.99 1051.81 L504.37 1052.39 L505.76 1052.96 L507.14 1053.53 L508.54 1054.09 L509.93 1054.65 L511.32 1055.20 L512.72 1055.74 L514.12 1056.28 L515.52 1056.81 L516.93 1057.33 L518.34 1057.85 L519.75 1058.36 L521.16 1058.87 L522.57 1059.37 L523.99 1059.87 L525.40 1060.36 L526.83 1060.84 L528.25 1061.31 L529.67 1061.78 L531.10 1062.25 L532.53 1062.70 L533.96 1063.15 L535.39 1063.60 L536.82 1064.04 L538.26 1064.47 L539.70 1064.89 L541.14 1065.31 L542.58 1065.72 L544.03 1066.13 L545.47 1066.52 L546.92 1066.92 L548.37 1067.30 L549.82 1067.68 L551.27 1068.05 L552.73 1068.42 L554.18 1068.78 L555.64 1069.13 L557.10 1069.47 L558.56 1069.81 L560.03 1070.14 L561.49 1070.47 L562.96 1070.78 L564.42 1071.09 L565.89 1071.40 L567.36 1071.69 L568.83 1071.98 L570.31 1072.26 L571.78 1072.54 L573.26 1072.81 L574.73 1073.07 L576.21 1073.32 L577.69 1073.57 L579.17 1073.81 L580.65 1074.04 L582.14 1074.26 L583.62 1074.48 L585.11 1074.69 L586.59 1074.89 L588.08 1075.09 L589.57 1075.28 L591.06 1075.46 L592.55 1075.63 L594.04 1075.79 L595.53 1075.95 L597.02 1076.10 L598.51 1076.24 L600.01 1076.38 L601.50 1076.50 L603.00 1076.62 L604.49 1076.73 L605.99 1076.84 L607.49 1076.93 L608.98 1077.02 L610.48 1077.10 L611.98 1077.17 L613.48 1077.24 L614.98 1077.30 L616.47 1077.34 L617.97 1077.38 L619.47 1077.42 L620.97 1077.44 L622.47 1077.46 L623.97 1077.47 L625.47 1077.47 L626.97 1077.46 L628.47 1077.44 L629.97 1077.42 L631.47 1077.39 L632.97 1077.34 L634.47 1077.30 L635.97 1077.24 L637.47 1077.17 L638.96 1077.10 L640.46 1077.02 L641.96 1076.92 L643.45 1076.83 L644.95 1076.72 L646.45 1076.60 L647.94 1076.48 L649.43 1076.34 L650.93 1076.20 L652.42 1076.05 L653.91 1075.89 L655.40 1075.73 L656.89 1075.55 L658.38 1075.37 L659.87 1075.17 L661.35 1074.97 L662.84 1074.76 L664.32 1074.54 L665.80 1074.32 L667.29 1074.08 L668.77 1073.84 L670.24 1073.58 L671.72 1073.32 L673.20 1073.05 L674.67 1072.78 L676.14 1072.49 L677.61 1072.20 L679.08 1071.90 L680.55 1071.59 L682.02 1071.27 L683.48 1070.95 L684.94 1070.62 L686.40 1070.28 L687.86 1069.93 L689.32 1069.58 L690.78 1069.22 L692.23 1068.85 L693.68 1068.47 L695.13 1068.09 L696.58 1067.70 L698.03 1067.30 L699.47 1066.89 L700.91 1066.48 L702.35 1066.06 L703.79 1065.63 L705.23 1065.20 L706.66 1064.76 L708.09 1064.32 L709.52 1063.86 L710.95 1063.40 L712.37 1062.94 L713.80 1062.46 L715.22 1061.98 L716.64 1061.50 L718.05 1061.01 L719.47 1060.51 L720.88 1060.00 L722.29 1059.49 L723.70 1058.97 L725.10 1058.45 L726.51 1057.92 L727.91 1057.38 L729.31 1056.84 L730.70 1056.30 L732.10 1055.74 L733.49 1055.18 L734.88 1054.62 L736.27 1054.05 L737.65 1053.47 L739.03 1052.89 L740.41 1052.30 L741.79 1051.71 L743.16 1051.11 L744.54 1050.50 L745.91 1049.89 L747.27 1049.28 L748.64 1048.66 L750.00 1048.03 L751.36 1047.40 L752.72 1046.77 L754.08 1046.12 L755.43 1045.48 L756.78 1044.82 L758.13 1044.17 L759.47 1043.51 L760.82 1042.84 L762.16 1042.17 L763.50 1041.49 L764.83 1040.81 L766.17 1040.12 L767.50 1039.43 L768.82 1038.73 L770.15 1038.03 L771.47 1037.32 L772.79 1036.61 L774.11 1035.90 L775.43 1035.18 L776.74 1034.45 L778.05 1033.72 L779.36 1032.99 L780.66 1032.25 L781.97 1031.50 L783.27 1030.76 L784.56 1030.00 L785.86 1029.25 L787.15 1028.49 L788.44 1027.72 L789.73 1026.95 L791.01 1026.18 L792.29 1025.40 L793.57 1024.62 L794.85 1023.83 L796.12 1023.04 L797.40 1022.24 L798.66 1021.44 L799.93 1020.64 L801.20 1019.83 L802.46 1019.02 L803.72 1018.21 L804.97 1017.39 L806.23 1016.57 L807.48 1015.74 L808.73 1014.91 L809.98 1014.08 L811.22 1013.24 L812.47 1012.41 L813.71 1011.56 L814.95 1010.72 L816.18 1009.87 L817.42 1009.02 L818.65 1008.16 L819.88 1007.31 L821.11 1006.45 L822.34 1005.58 L823.56 1004.72 L824.79 1003.85 L826.01 1002.98 L827.23 1002.11 L828.45 1001.23 L829.66 1000.36 L830.88 999.48 L832.09 998.60 L833.30 997.71 L834.51 996.83 L835.72 995.94 L836.93 995.05 L838.13 994.16 L839.34 993.26 L840.54 992.37 L841.74 991.47 L842.95 990.57 L844.15 989.67 L845.34 988.77 L846.54 987.87 L847.74 986.97 L848.93 986.06 L850.13 985.15 L851.32 984.24 L852.51 983.33 L853.70 982.42 L854.89 981.51 L856.08 980.59 L857.27 979.68 L858.45 978.76 L859.64 977.84 L860.82 976.92 L862.00 975.99 L863.18 975.07 L864.36 974.14 L865.54 973.21 L866.72 972.28 L867.90 971.35 L869.07 970.42 L870.24 969.49 L871.42 968.55 L872.59 967.61 L873.76 966.68 L874.92 965.73 L876.09 964.79 L877.26 963.85 L878.42 962.90 L879.58 961.96 L880.75 961.01 L881.91 960.06 L883.06 959.10 L884.22 958.15 L885.38 957.20 L886.53 956.24 L887.69 955.28 L888.84 954.32 L889.99 953.36 L891.14 952.39 L892.29 951.43 L893.43 950.46 L894.58 949.49 L895.72 948.52 L896.86 947.55 L898.00 946.58 L899.14 945.60 L900.28 944.62 L901.42 943.64 L902.55 942.66 L903.69 941.68 L904.82 940.70 L905.95 939.71 L907.08 938.72 L908.20 937.74 L909.33 936.74 L910.45 935.75 L911.58 934.76 L912.70 933.76 L913.82 932.76 L914.94 931.76 L916.05 930.76 L917.17 929.76 L918.28 928.75 L919.39 927.75 L920.50 926.74 L921.61 925.73 L922.72 924.72 L923.82 923.70 L924.93 922.69 L926.03 921.67 L927.13 920.65 L928.23 919.63 L929.32 918.61 L930.42 917.58 L931.51 916.56 L932.61 915.53 L933.70 914.50 L934.78 913.47 L935.87 912.43 L936.96 911.40 L938.04 910.36 L939.12 909.32 L940.20 908.28 L941.28 907.24 L942.35 906.19 L943.43 905.15 L944.50 904.10 L945.57 903.05 L946.64 902.00 L947.71 900.94 L948.77 899.89 L949.84 898.83 L950.90 897.77 L951.96 896.71 L953.02 895.65 L954.07 894.58 L955.13 893.51 L956.18 892.44 L957.23 891.37 L958.28 890.30 L959.32 889.23 L960.37 888.15 L961.41 887.07 L962.45 885.99 L963.49 884.91 L964.53 883.83 L965.56 882.74 L966.59 881.65 L967.62 880.56 L968.65 879.47 L969.68 878.38 L970.70 877.28 L971.72 876.18 L972.74 875.08 L973.76 873.98 L974.78 872.88 L975.79 871.77 L976.80 870.67 L977.81 869.56 L978.82 868.45 L979.83 867.33 L980.83 866.22 L981.83 865.10 L982.83 863.98 L983.82 862.86 L984.82 861.74 L985.81 860.61 L986.80 859.49 L987.79 858.36 L988.77 857.23 L989.76 856.09 L990.74 854.96 L991.72 853.82 L992.69 852.68 L993.67 851.54 L994.64 850.40 L995.61 849.26 L996.58 848.11 L997.54 846.97 L998.51 845.82 L999.47 844.67 L1000.43 843.51 L1001.39 842.36 L1002.34 841.20 L1003.29 840.04 L1004.24 838.88 L1005.19 837.72 L1006.14 836.56 L1007.09 835.40 L1008.03 834.23 L1008.97 833.06 L1009.91 831.89 L1010.84 830.72 L1011.78 829.55 L1012.71 828.37 L1013.64 827.20 L1014.57 826.02 L1015.50 824.84 L1016.42 823.66 L1017.35 822.48 L1018.27 821.29 L1019.19 820.11 L1020.10 818.92 L1021.02 817.73 L1021.93 816.54 L1022.84 815.35 L1023.75 814.16 L1024.66 812.96 L1025.56 811.77 L1026.47 810.57 L1027.37 809.37 L1028.27 808.17 L1029.17 806.97 L1030.07 805.77 L1030.96 804.57 L1031.85 803.36 L1032.74 802.16 L1033.63 800.95 L1034.52 799.74 L1035.41 798.53 L1036.29 797.32 L1037.17 796.10 L1038.05 794.89 L1038.93 793.67 L1039.81 792.46 L1040.68 791.24 L1041.56 790.02 L1042.43 788.80 L1043.30 787.58 L1044.17 786.36 L1045.03 785.13 L1045.90 783.91 L1046.76 782.68 L1047.62 781.45 L1048.48 780.22 L1049.34 778.99 L1050.20 777.76 L1051.06 776.53 L1051.91 775.30 L1052.76 774.07 L1053.61 772.83 L1054.46 771.59 L1055.31 770.36 L1056.16 769.12 L1057.00 767.88 L1057.85 766.64 L1058.69 765.40 L1059.53 764.16 L1060.37 762.91 L1061.20 761.67 L1062.04 760.42 L1062.88 759.18 L1063.71 757.93 L1064.54 756.68 L1065.37 755.43 L1066.20 754.18 L1067.03 752.93 L1067.85 751.68 L1068.68 750.43 L1069.50 749.18 L1070.33 747.92 L1071.15 746.67 L1071.97 745.41 L1072.79 744.15 L1073.60 742.90 L1074.42 741.64 L1075.23 740.38 L1076.05 739.12 L1076.86 737.86 L1077.67 736.60 L1078.48 735.33 L1079.29 734.07 L1080.10 732.81 L1080.90 731.54 L1081.71 730.28 L1082.51 729.01 L1083.32 727.75 L1084.12 726.48 L1084.92 725.21 L1085.72 723.94 L1086.52 722.67 L1087.31 721.40 L1088.11 720.13 L1088.91 718.86 L1089.70 717.59 L1090.49 716.31 L1091.29 715.04 L1092.08 713.77 L1092.87 712.49 L1093.66 711.22 L1094.45 709.94 L1095.23 708.66 L1096.02 707.39 L1096.80 706.11 L1097.59 704.83 L1098.37 703.55 L1099.15 702.27 L1099.93 700.99 L1100.71 699.71 L1101.49 698.43 L1102.27 697.15 L1103.05 695.86 L1103.82 694.58 L1104.60 693.29 L1105.37 692.01 L1106.14 690.72 L1106.92 689.44 L1107.69 688.15 L1108.46 686.86 L1109.22 685.58 L1109.99 684.29 L1110.76 683.00 L1111.52 681.71 L1112.29 680.42 L1113.05 679.13 L1113.81 677.83 L1114.57 676.54 L1115.33 675.25 L1116.09 673.96 L1116.85 672.66 L1117.61 671.37 L1118.36 670.07 L1119.12 668.77 L1119.87 667.48 L1120.62 666.18 L1121.37 664.88 L1122.12 663.58 L1122.87 662.28 L1123.62 660.98 L1124.37 659.68 L1125.11 658.38 L1125.86 657.08 L1126.60 655.78 L1127.34 654.47 L1128.08 653.17 L1128.82 651.87 L1129.56 650.56 L1130.30 649.26 L1131.04 647.95 L1131.77 646.64 L1132.51 645.34 L1133.24 644.03 L1133.98 642.72 L1134.71 641.41 L1135.44 640.10 L1136.17 638.79 L1136.89 637.48 L1137.62 636.17 L1138.35 634.85 L1139.07 633.54 L1139.80 632.23 L1140.52 630.91 L1141.24 629.60 L1141.96 628.28 L1142.68 626.97 L1143.40 625.65 L1144.11 624.33 L1144.83 623.01 L1145.54 621.69 L1146.26 620.38 L1146.97 619.06 L1147.68 617.74 L1148.39 616.41 L1149.10 615.09 L1149.81 613.77 L1150.51 612.45 L1151.22 611.12 L1151.92 609.80 L1152.63 608.47 L1153.33 607.15 L1154.03 605.82 L1154.73 604.50 L1155.43 603.17 L1156.12 601.84 L1156.82 600.51 L1157.52 599.18 L1158.21 597.85 L1158.90 596.52 L1159.59 595.19 L1160.28 593.86 L1160.97 592.53 L1161.66 591.20 L1162.35 589.86 L1163.03 588.53 L1163.72 587.20 L1164.40 585.86 L1165.08 584.52 L1165.76 583.19 L1166.44 581.85 L1167.12 580.51 L1167.80 579.18 L1168.48 577.84 L1169.15 576.50 L1169.83 575.16 L1170.50 573.82 L1171.17 572.48 L1171.84 571.13 L1172.51 569.79 L1173.18 568.45 L1173.84 567.11 L1174.51 565.76 L1175.17 564.42 L1175.84 563.07 L1176.50 561.73 L1177.16 560.38 L1177.82 559.03 L1178.48 557.68 L1179.13 556.34 L1179.79 554.99 L1180.44 553.64 L1181.10 552.29 L1181.75 550.94 L1182.40 549.59 L1183.05 548.23 L1183.70 546.88 L1184.34 545.53 L1184.99 544.17 L1185.63 542.82 L1186.28 541.47 L1186.92 540.11 L1187.56 538.75 L1188.20 537.40 L1188.84 536.04 L1189.48 534.68 L1190.12 533.33 L1190.76 531.97 L1191.40 530.61 L1192.03 529.26 L1192.67 527.90 L1193.31 526.54 L1193.96 525.19 L1194.60 523.83 L1195.24 522.48 L1195.89 521.12 L1196.53 519.77 L1197.18 518.42 L1197.83 517.07 L1198.48 515.72 L1199.14 514.37 L1199.80 513.02 L1200.46 511.67 L1201.12 510.33 L1201.79 508.98 L1202.46 507.64 L1203.13 506.30 L1203.81 504.97 L1204.49 503.63 L1205.18 502.30 L1205.87 500.96 L1206.57 499.64 L1207.27 498.31 L1207.97 496.99 L1208.68 495.67 L1209.40 494.35 L1210.12 493.03 L1210.85 491.72 L1211.58 490.41 L1212.32 489.11 L1213.07 487.81 L1213.82 486.51 L1214.58 485.22 L1215.35 483.93 L1216.13 482.65 L1216.91 481.37 L1217.70 480.09 L1218.49 478.82 L1219.30 477.56 L1220.11 476.30 L1220.93 475.04 L1221.76 473.79 L1222.60 472.55 L1223.45 471.31 L1224.31 470.08 L1225.17 468.85 L1226.04 467.63 L1226.93 466.42 L1227.82 465.22 L1228.72 464.02 L1229.63 462.83 L1230.56 461.65 L1231.49 460.47 L1232.43 459.30 L1233.38 458.14 L1234.33 456.98 L1235.29 455.83 L1236.26 454.68 L1237.23 453.54 L1238.20 452.40 L1239.17 451.26 L1240.15 450.12 L1241.13 448.98 L1242.10 447.84 L1243.07 446.70 L1244.04 445.56 L1245.01 444.41 L1245.97 443.26 L1246.93 442.10 L1247.88 440.94 L1248.82 439.78 L1249.76 438.60 L1250.68 437.42 L1251.59 436.23 L1252.50 435.03 L1253.38 433.83 L1254.26 432.61 L1255.12 431.38 L1255.96 430.14 L1256.79 428.88 L1257.60 427.62 L1258.40 426.35 L1259.18 425.08 L1259.97 423.80 L1260.74 422.51 L1261.52 421.23 L1262.29 419.95 L1263.07 418.66 L1263.85 417.38 L1264.64 416.11 L1265.44 414.84 L1266.25 413.58 L1267.07 412.32 L1267.91 411.08 L1268.77 409.85 L1269.65 408.64 L1270.55 407.43 L1271.46 406.24 L1272.38 405.06 L1273.31 403.89 L1274.26 402.72 L1275.21 401.56 L1276.16 400.40 L1277.12 399.25 L1278.08 398.10 L1279.04 396.95 L1280.01 395.80 L1280.97 394.64 L1281.92 393.49 L1282.87 392.33 L1283.81 391.16 L1284.74 389.98 L1285.67 388.80 L1286.58 387.61 L1287.47 386.40 L1288.35 385.19 L1289.21 383.96 L1290.04 382.72 L1290.86 381.46 L1291.65 380.18 L1292.41 378.89 L1293.15 377.59 L1293.86 376.26 L1294.55 374.93 L1295.22 373.59 L1295.87 372.24 L1296.51 370.88 L1297.14 369.52 L1297.77 368.16 L1298.38 366.79 L1299.00 365.42 L1299.62 364.06 L1300.24 362.69 L1300.87 361.33 L1301.51 359.98 L1302.17 358.63 L1302.84 357.29 L1303.53 355.95 L1304.24 354.63 L1304.98 353.33 L1305.74 352.03 L1306.51 350.75 L1307.31 349.48 L1308.13 348.22 L1308.96 346.98 L1309.81 345.74 L1310.67 344.51 L1311.54 343.29 L1312.43 342.08 L1313.32 340.88 L1314.23 339.68 L1315.14 338.49 L1316.05 337.30 L1316.98 336.12 L1317.90 334.94 L1318.83 333.76 L1319.76 332.59 L1320.69 331.41 L1321.63 330.24 L1322.56 329.06 L1323.49 327.88 L1324.41 326.70 L1325.33 325.52 L1326.24 324.33 L1327.15 323.14 L1328.06 321.94 L1328.97 320.75 L1329.87 319.55 L1330.78 318.36 L1331.70 317.17 L1332.62 315.98 L1333.54 314.80 L1334.47 313.63 L1335.42 312.46 L1336.37 311.31 L1337.34 310.16 L1338.32 309.03 L1339.32 307.91 L1340.34 306.81 L1341.37 305.72 L1342.43 304.66 L1343.50 303.61 L1344.60 302.59 L1345.73 301.60 L1346.88 300.63 L1348.05 299.70 L1349.25 298.79 L1350.47 297.93 L1351.72 297.10 L1352.99 296.30 L1354.29 295.55 L1355.61 294.84 L1356.95 294.18 L1358.32 293.56 L1359.70 292.98 L1361.11 292.46 L1362.53 291.98 L1363.97 291.55 L1365.42 291.17 L1366.88 290.85 L1368.36 290.60 L1369.85 290.42 L1371.35 290.31 L1372.85 290.29 L1374.34 290.36 L1375.83 290.54 L1377.30 290.84 L1378.74 291.26 L1380.14 291.80 L1381.49 292.45 L1382.78 293.22 L1384.00 294.08 L1385.17 295.02 L1386.28 296.03 L1387.35 297.09 L1388.36 298.19 L1389.34 299.33 L1390.28 300.49 L1391.20 301.68 L1392.10 302.88 L1392.98 304.10 L1393.84 305.32 L1394.70 306.55 L1395.55 307.79 L1396.39 309.03 L1397.22 310.28 L1398.04 311.54 L1398.85 312.80 L1399.66 314.06 L1400.46 315.33 L1401.25 316.60 L1402.04 317.88 L1402.82 319.16 L1403.59 320.45 L1404.36 321.74 L1405.12 323.03 L1405.88 324.32 L1406.64 325.61 L1407.39 326.91 L1408.14 328.21 L1408.89 329.51 L1409.63 330.81 L1410.38 332.12 L1411.12 333.42 L1411.86 334.72 L1412.60 336.03 L1413.34 337.33 L1414.08 338.64 L1414.82 339.94 L1415.56 341.24 L1416.30 342.55 L1417.04 343.85 L1417.78 345.16 L1418.51 346.47 L1419.25 347.77 L1419.98 349.08 L1420.71 350.39 L1421.45 351.70 L1422.17 353.01 L1422.90 354.32 L1423.62 355.64 L1424.34 356.95 L1425.06 358.27 L1425.77 359.59 L1426.49 360.91 L1427.19 362.23 L1427.90 363.56 L1428.60 364.88 L1429.29 366.21 L1429.99 367.54 L1430.67 368.88 L1431.36 370.21 L1432.03 371.55 L1432.71 372.89 L1433.37 374.23 L1434.04 375.58 L1434.69 376.93 L1435.34 378.28 L1435.99 379.63 L1436.63 380.99 L1437.26 382.35 L1437.89 383.71 L1438.51 385.08 L1439.12 386.44 L1439.73 387.82 L1440.33 389.19 L1440.92 390.57 L1441.50 391.95 L1442.08 393.33 L1442.65 394.72 L1443.22 396.11 L1443.79 397.50 L1444.35 398.89 L1444.92 400.28 L1445.49 401.66 L1446.06 403.05 L1446.65 404.43 L1447.24 405.81 L1447.84 407.18 L1448.46 408.55 L1449.09 409.91 L1449.74 411.26 L1450.41 412.60 L1451.10 413.94 L1451.81 415.26 L1452.54 416.56 L1453.31 417.85 L1454.10 419.13 L1454.92 420.38 L1455.76 421.62 L1456.63 422.84 L1457.53 424.05 L1458.44 425.24 L1459.38 426.41 L1460.34 427.56 L1461.32 428.70 L1462.32 429.82 L1463.33 430.92 L1464.36 432.01 L1465.41 433.08 L1466.47 434.14 L1467.54 435.19 L1468.63 436.22 L1469.73 437.24 L1470.84 438.25 L1471.96 439.25 L1473.09 440.24 L1474.23 441.21 L1475.37 442.18 L1476.53 443.14 L1477.69 444.09 L1478.85 445.04 L1480.02 445.98 L1481.19 446.91 L1482.37 447.84 L1483.55 448.76 L1484.74 449.68 L1485.92 450.60 L1487.11 451.52 L1488.30 452.43 L1489.49 453.35 L1490.68 454.26 L1491.86 455.18 L1493.05 456.09 L1494.24 457.01 L1495.42 457.94 L1496.60 458.86 L1497.77 459.80 L1498.94 460.73 L1500.11 461.68 L1501.27 462.63 L1502.42 463.58 L1503.57 464.55 L1504.71 465.52 L1505.84 466.51 L1506.97 467.50 L1508.08 468.51 L1509.18 469.52 L1510.27 470.55 L1511.35 471.60 L1512.42 472.65 L1513.47 473.72 L1514.51 474.80 L1515.53 475.90 L1516.55 477.00 L1517.54 478.12 L1518.53 479.25 L1519.50 480.39 L1520.46 481.54 L1521.41 482.71 L1522.35 483.88 L1523.27 485.06 L1524.18 486.26 L1525.07 487.46 L1525.96 488.67 L1526.83 489.89 L1527.69 491.12 L1528.53 492.36 L1529.37 493.60 L1530.19 494.86 L1531.00 496.12 L1531.80 497.39 L1532.59 498.66 L1533.37 499.94 L1534.14 501.23 L1534.90 502.53 L1535.64 503.83 L1536.38 505.14 L1537.10 506.45 L1537.82 507.77 L1538.53 509.09 L1539.22 510.42 L1539.91 511.75 L1540.59 513.09 L1541.26 514.43 L1541.92 515.78 L1542.57 517.13 L1543.22 518.48 L1543.85 519.84 L1544.48 521.20 L1545.10 522.57 L1545.71 523.94 L1546.32 525.31 L1546.92 526.68 L1547.51 528.06 L1548.09 529.44 L1548.67 530.83 L1549.24 532.21 L1549.81 533.60 L1550.37 534.99 L1550.92 536.39 L1551.47 537.78 L1552.02 539.18 L1552.56 540.58 L1553.09 541.98 L1553.62 543.38 L1554.14 544.79 L1554.66 546.20 L1555.18 547.60 L1555.69 549.01 L1556.20 550.43 L1556.70 551.84 L1557.20 553.25 L1557.69 554.67 L1558.18 556.09 L1558.67 557.51 L1559.15 558.93 L1559.63 560.35 L1560.10 561.77 L1560.57 563.20 L1561.04 564.62 L1561.50 566.05 L1561.96 567.48 L1562.41 568.90 L1562.86 570.34 L1563.31 571.77 L1563.75 573.20 L1564.19 574.63 L1564.63 576.07 L1565.06 577.51 L1565.49 578.94 L1565.92 580.38 L1566.34 581.82 L1566.75 583.26 L1567.17 584.70 L1567.58 586.14 L1567.99 587.59 L1568.39 589.03 L1568.79 590.48 L1569.19 591.92 L1569.59 593.37 L1569.98 594.82 L1570.37 596.27 L1570.75 597.72 L1571.14 599.17 L1571.52 600.62 L1571.89 602.07 L1572.27 603.52 L1572.64 604.97 L1573.01 606.43 L1573.37 607.88 L1573.73 609.34 L1574.09 610.79 L1574.45 612.25 L1574.81 613.71 L1575.16 615.16 L1575.51 616.62 L1575.86 618.08 L1576.20 619.54 L1576.54 621.00 L1576.88 622.46 L1577.22 623.92 L1577.56 625.39 L1577.89 626.85 L1578.22 628.31 L1578.55 629.77 L1578.88 631.24 L1579.20 632.70 L1579.53 634.17 L1579.85 635.63 L1580.17 637.10 L1580.49 638.56 L1580.80 640.03 L1581.12 641.50 L1581.43 642.96 L1581.74 644.43 L1582.05 645.90 L1582.36 647.36 L1582.66 648.83 L1582.97 650.30 L1583.27 651.77 L1583.57 653.24 L1583.87 654.71 L1584.17 656.18 L1584.47 657.65 L1584.76 659.12 L1585.06 660.59 L1585.35 662.06 L1585.65 663.53 L1585.94 665.00 L1586.23 666.47 L1586.52 667.94 L1586.81 669.42 L1587.10 670.89 L1587.39 672.36 L1587.67 673.83 L1587.96 675.30 L1588.24 676.78 L1588.53 678.25 L1588.81 679.72 L1589.10 681.19 L1589.38 682.67 L1589.66 684.14 L1589.94 685.61 L1590.23 687.09 L1590.51 688.56 L1590.79 690.03 L1591.07 691.51 L1591.35 692.98 L1591.63 694.45 L1591.91 695.93 L1592.19 697.40 L1592.47 698.87 L1592.75 700.35 L1593.03 701.82 L1593.31 703.29 L1593.59 704.77 L1593.87 706.24 L1594.15 707.71 L1594.43 709.19 L1594.71 710.66 L1594.99 712.13 L1595.27 713.61 L1595.55 715.08 L1595.82 716.56 L1596.10 718.03 L1596.38 719.50 L1596.66 720.98 L1596.94 722.45 L1597.22 723.92 L1597.49 725.40 L1597.77 726.87 L1598.05 728.35 L1598.33 729.82 L1598.61 731.29 L1598.88 732.77 L1599.16 734.24 L1599.44 735.72 L1599.72 737.19 L1599.99 738.66 L1600.27 740.14 L1600.55 741.61 L1600.82 743.09 L1601.10 744.56 L1601.38 746.03 L1601.65 747.51 L1601.93 748.98 L1602.21 750.46 L1602.48 751.93 L1602.76 753.40 L1603.03 754.88 L1603.31 756.35 L1603.59 757.83 L1603.86 759.30 L1604.14 760.77 L1604.41 762.25 L1604.69 763.72 L1604.97 765.20 L1605.24 766.67 L1605.52 768.15 L1605.79 769.62 L1606.07 771.09 L1606.34 772.57 L1606.62 774.04 L1606.89 775.52 L1607.17 776.99 L1607.44 778.47 L1607.72 779.94 L1607.99 781.42 L1608.27 782.89 L1608.54 784.36 L1608.82 785.84 L1609.09 787.31 L1609.37 788.79 L1609.64 790.26 L1609.92 791.74 L1610.19 793.21 L1610.47 794.69 L1610.74 796.16 L1611.01 797.63 L1611.29 799.11 L1611.56 800.58 L1611.84 802.06 L1612.11 803.53 L1612.39 805.01 L1612.66 806.48 L1612.93 807.96 L1613.21 809.43 L1613.48 810.90 L1613.76 812.38 L1614.03 813.85 L1614.30 815.33 L1614.58 816.80 L1614.85 818.28 L1615.13 819.75 L1615.40 821.23 L1615.67 822.70 L1615.95 824.18 L1616.22 825.65 L1616.49 827.12 L1616.77 828.60 L1617.04 830.07 L1617.32 831.55 L1617.59 833.02 L1617.86 834.50 L1618.14 835.97 L1618.41 837.45 L1618.69 838.92 L1618.96 840.40 L1619.23 841.87 L1619.51 843.35 L1619.78 844.82 L1620.05 846.29 L1620.33 847.77 L1620.60 849.24 L1620.88 850.72 L1621.15 852.19 L1621.42 853.67 L1621.70 855.14 L1621.97 856.62 L1622.24 858.09 L1622.52 859.57 L1622.79 861.04 L1623.07 862.52 L1623.34 863.99 L1623.61 865.46 L1623.89 866.94 L1624.16 868.41 L1624.44 869.89 L1624.71 871.36 L1624.98 872.84 L1625.26 874.31 L1625.53 875.79 L1625.81 877.26 L1626.08 878.74 L1626.35 880.21 L1626.63 881.68 L1626.90 883.16 L1627.18 884.63 L1627.45 886.11 L1627.73 887.58 L1628.00 889.06 L1628.28 890.53 L1628.55 892.01 L1628.83 893.48 L1629.10 894.95 L1629.38 896.43 L1629.65 897.90 L1629.93 899.38 L1630.21 900.85 L1630.48 902.32 L1630.76 903.80 L1631.04 905.27 L1631.32 906.75 L1631.60 908.22 L1631.88 909.69 L1632.16 911.17 L1632.44 912.64 L1632.72 914.11 L1633.00 915.59 L1633.28 917.06 L1633.57 918.53 L1633.85 920.00 L1634.13 921.48 L1634.42 922.95 L1634.71 924.42 L1634.99 925.89 L1635.28 927.37 L1635.57 928.84 L1635.86 930.31 L1636.15 931.78 L1636.44 933.25 L1636.73 934.72 L1637.03 936.19 L1637.32 937.66 L1637.62 939.13 L1637.91 940.60 L1638.21 942.07 L1638.51 943.54 L1638.81 945.01 L1639.11 946.48 L1639.42 947.95 L1639.72 949.42 L1640.03 950.89 L1640.33 952.36 L1640.64 953.82 L1640.95 955.29 L1641.26 956.76 L1641.57 958.23 L1641.89 959.69 L1642.20 961.16 L1642.52 962.63 L1642.84 964.09 L1643.15 965.56 L1643.48 967.02 L1643.80 968.49 L1644.12 969.95 L1644.45 971.41 L1644.78 972.88 L1645.11 974.34 L1645.44 975.80 L1645.77 977.27 L1646.11 978.73 L1646.44 980.19 L1646.78 981.65 L1647.12 983.11 L1647.46 984.57 L1647.81 986.03 L1648.15 987.49 L1648.50 988.95 L1648.85 990.41 L1649.20 991.87 L1649.56 993.32 L1649.91 994.78 L1650.27 996.24 L1650.63 997.69 L1650.99 999.15 L1651.36 1000.60 L1651.72 1002.06 L1652.09 1003.51 L1652.46 1004.96 L1652.84 1006.42 L1653.21 1007.87 L1653.59 1009.32 L1653.97 1010.77 L1654.35 1012.22 L1654.74 1013.67 L1655.13 1015.12 L1655.52 1016.57 L1655.91 1018.02 L1656.30 1019.46 L1656.70 1020.91 L1657.10 1022.35 L1657.50 1023.80 L1657.91 1025.24 L1658.31 1026.69 L1658.72 1028.13 L1659.14 1029.57 L1659.55 1031.01 L1659.97 1032.45 L1660.39 1033.89 L1660.81 1035.33 L1661.24 1036.77 L1661.67 1038.21 L1662.10 1039.64 L1662.53 1041.08 L1662.97 1042.51 L1663.41 1043.95 L1663.85 1045.38 L1664.30 1046.81 L1664.75 1048.24 L1665.20 1049.67 L1665.65 1051.10 L1666.11 1052.53 L1666.57 1053.96 L1667.03 1055.39 L1667.50 1056.81 L1667.96 1058.24 L1668.44 1059.66 L1668.91 1061.08 L1669.39 1062.51 L1669.87 1063.93 L1670.35 1065.35 L1670.84 1066.76 L1671.33 1068.18 L1671.82 1069.60 L1672.32 1071.01 L1672.82 1072.43 L1673.32 1073.84 L1673.83 1075.25 L1674.34 1076.66 L1674.86 1078.07 L1675.38 1079.47 L1675.91 1080.88 L1676.44 1082.28 L1676.98 1083.68 L1677.53 1085.08 L1678.08 1086.47 L1678.63 1087.86 L1679.20 1089.25 L1679.77 1090.64 L1680.35 1092.02 L1680.94 1093.40 L1681.54 1094.78 L1682.14 1096.15 L1682.75 1097.52 L1683.38 1098.88 L1684.01 1100.24 L1684.65 1101.60 L1685.31 1102.95 L1685.97 1104.29 L1686.64 1105.63 L1687.33 1106.97 L1688.03 1108.30 L1688.74 1109.62 L1689.46 1110.93 L1690.19 1112.24 L1690.94 1113.54 L1691.70 1114.83 L1692.48 1116.12 L1693.27 1117.39 L1694.07 1118.66 L1694.89 1119.92 L1695.72 1121.16 L1696.57 1122.40 L1697.43 1123.62 L1698.31 1124.84 L1699.21 1126.04 L1700.12 1127.23 L1701.05 1128.41 L1702.00 1129.57 L1702.96 1130.72 L1703.95 1131.85 L1704.94 1132.97 L1705.96 1134.07 L1707.00 1135.16 L1708.05 1136.23 L1709.12 1137.28 L1710.21 1138.31 L1711.32 1139.32 L1712.44 1140.31 L1713.59 1141.28 L1714.75 1142.23 L1715.93 1143.16 L1717.12 1144.06 L1718.34 1144.94 L1719.57 1145.80 L1720.81 1146.63 L1722.08 1147.44 L1723.36 1148.23 L1724.65 1148.99 L1725.96 1149.72 L1727.28 1150.43 L1728.61 1151.11 L1729.96 1151.77 L1731.32 1152.41 L1732.69 1153.02 L1734.06 1153.62 L1735.45 1154.19 L1736.85 1154.74 L1738.25 1155.27 L1739.66 1155.78 L1741.07 1156.28 L1742.50 1156.75 L1743.92 1157.21 L1745.36 1157.65 L1746.80 1158.08 L1748.24 1158.48 L1749.69 1158.88 L1751.14 1159.25 L1752.59 1159.62 L1754.05 1159.97 L1755.51 1160.30 L1756.98 1160.62 L1758.45 1160.93 L1759.92 1161.23 L1761.39 1161.52 L1762.86 1161.79 L1764.34 1162.05 L1765.82 1162.31 L1767.30 1162.55 L1768.78 1162.78 L1770.26 1163.00 L1771.75 1163.21 L1773.23 1163.41 L1774.72 1163.61 L1776.21 1163.79 L1777.70 1163.97 L1779.19 1164.13 L1780.68 1164.30 L1782.17 1164.45 L1783.67 1164.59 L1785.16 1164.73 L1786.65 1164.87 L1788.15 1164.99 L1789.64 1165.11 L1791.14 1165.22 L1792.63 1165.33 L1794.13 1165.44 L1795.63 1165.53 L1797.12 1165.63 L1798.62 1165.71 L1800.12 1165.80 L1801.62 1165.88 L1803.11 1165.95 L1804.61 1166.03 L1806.11 1166.10 L1807.61 1166.16 L1809.11 1166.23 L1810.61 1166.29 L1812.10 1166.35 L1813.60 1166.41 L1815.10 1166.47 L1816.60 1166.53 L1818.10 1166.59 L1819.60 1166.64 L1821.10 1166.70 L1822.59 1166.76 L1824.09 1166.81 L1825.59 1166.87 L1827.09 1166.92 L1828.59 1166.97 L1830.09 1167.03 L1831.59 1167.08 L1833.09 1167.13 L1834.59 1167.18 L1836.08 1167.23 L1837.58 1167.28 L1839.08 1167.33 L1840.58 1167.37 L1842.08 1167.42 L1843.58 1167.47 L1845.08 1167.51 L1846.58 1167.56 L1848.08 1167.60 L1849.58 1167.65 L1851.08 1167.69 L1852.57 1167.73 L1854.07 1167.78 L1855.57 1167.82 L1857.07 1167.86 L1858.57 1167.90 L1860.07 1167.94 L1861.57 1167.98 L1863.07 1168.02 L1864.57 1168.06 L1866.07 1168.10 L1867.57 1168.13 L1869.07 1168.17 L1870.57 1168.21 L1872.07 1168.24 L1873.57 1168.28 L1875.06 1168.31 L1876.56 1168.35 L1878.06 1168.38 L1879.56 1168.42 L1881.06 1168.45 L1882.56 1168.48 L1884.06 1168.52 L1885.56 1168.55 L1887.06 1168.58 L1888.56 1168.61 L1890.06 1168.64 L1891.56 1168.67 L1893.06 1168.70 L1894.56 1168.73 L1896.06 1168.76 L1897.56 1168.79 L1899.06 1168.82 L1900.56 1168.85 L1902.05 1168.88 L1903.55 1168.90 L1905.05 1168.93 L1906.55 1168.96 L1908.05 1168.98 L1909.55 1169.01 L1911.05 1169.03 L1912.55 1169.06 L1914.05 1169.08 L1915.55 1169.11 L1917.05 1169.13 L1918.55 1169.16 L1920.05 1169.18 L1921.55 1169.20 L1923.05 1169.23 L1924.55 1169.25 L1926.05 1169.27 L1927.55 1169.29 L1929.05 1169.32 L1930.55 1169.34 L1932.05 1169.36 L1933.55 1169.38 L1935.05 1169.40 L1936.55 1169.42 L1938.05 1169.44 L1939.55 1169.46 L1941.04 1169.48 L1942.54 1169.50 L1944.04 1169.52 L1945.54 1169.54 L1947.04 1169.56 L1948.54 1169.58 L1950.04 1169.59 L1951.54 1169.61 L1953.04 1169.63 L1954.54 1169.65 L1956.04 1169.67 L1957.54 1169.68 L1959.04 1169.70 L1960.54 1169.72 L1962.04 1169.73 L1963.54 1169.75 L1965.04 1169.77 L1966.54 1169.78 L1968.04 1169.80 L1969.54 1169.81 L1971.04 1169.83 L1972.54 1169.85 L1974.04 1169.86 L1975.54 1169.88 L1977.04 1169.89 L1978.54 1169.91 L1980.04 1169.92 L1981.54 1169.94 L1983.04 1169.95 L1984.54 1169.96 L1986.04 1169.98 L1987.54 1169.99 L1989.04 1170.01 L1990.54 1170.02 L1992.04 1170.03 L1993.53 1170.05 L1995.03 1170.06 L1996.53 1170.07 L1998.03 1170.09 L1999.53 1170.10 L2001.03 1170.11 L2002.53 1170.12 L2004.03 1170.14 L2005.53 1170.15 L2007.03 1170.16 L2008.53 1170.17 L2010.03 1170.19 L2011.53 1170.20 L2013.03 1170.21 L2014.53 1170.22 L2016.03 1170.23 L2017.53 1170.24 L2019.03 1170.26 L2020.53 1170.27 L2022.03 1170.28 L2023.53 1170.29 L2025.03 1170.30 L2026.53 1170.31 L2028.03 1170.32 L2029.53 1170.33 L2031.03 1170.35 L2032.53 1170.36 L2034.03 1170.37 L2035.53 1170.38 L2037.03 1170.39 L2038.53 1170.40 L2040.03 1170.41 L2041.53 1170.42 L2043.03 1170.43 L2044.53 1170.44 L2046.03 1170.45 L2047.53 1170.46 L2049.03 1170.47 L2050.53 1170.48 L2052.03 1170.49 L2053.53 1170.50 L2055.02 1170.51 L2056.52 1170.52 L2058.02 1170.53 L2059.52 1170.54 L2061.02 1170.56 L2062.52 1170.57 L2064.02 1170.58 L2065.52 1170.59 L2067.02 1170.60 L2068.52 1170.61 L2070.02 1170.62 L2071.52 1170.63 L2073.02 1170.64 L2074.52 1170.65 L2076.02 1170.66 L2077.52 1170.67 L2079.02 1170.68 L2080.52 1170.69 L2082.02 1170.70 L2083.52 1170.71 L2085.02 1170.72 L2086.52 1170.73 L2088.02 1170.74 L2089.52 1170.75 L2091.02 1170.76 L2092.52 1170.77 L2094.02 1170.79 L2095.52 1170.80 L2097.02 1170.81 L2098.52 1170.82 L2100.02 1170.83 L2101.52 1170.84 L2103.02 1170.85 L2104.52 1170.86 L2106.02 1170.88 L2107.52 1170.89 L2109.02 1170.90 L2110.52 1170.91 L2112.02 1170.92 L2113.52 1170.93 L2115.02 1170.95 L2116.51 1170.96 L2118.01 1170.97 L2119.51 1170.98 L2121.01 1170.99 L2122.51 1171.01 L2124.01 1171.02 L2125.51 1171.03 L2127.01 1171.05 L2128.51 1171.06 L2130.01 1171.07 L2131.51 1171.09 L2133.01 1171.10 L2134.51 1171.11 L2136.01 1171.13 L2137.51 1171.14 L2139.01 1171.15 L2140.51 1171.17 L2142.01 1171.18 L2143.51 1171.20 L2145.01 1171.21 L2146.51 1171.23 L2148.01 1171.24 L2149.51 1171.26 L2151.01 1171.27 L2152.51 1171.29 L2154.01 1171.30 L2155.51 1171.32 L2157.01 1171.33 L2158.51 1171.35 L2160.01 1171.37 L2161.51 1171.38 L2163.01 1171.40 L2164.51 1171.42 L2166.01 1171.43 L2167.51 1171.45 L2169.01 1171.47 L2170.51 1171.48 L2172.00 1171.50" stroke="#ff1e1e" stroke-dasharray="37.0 26.65" stroke-dashoffset="56.75"/>
<path d="M276.56 806.97 L277.46 808.17 L278.35 809.37 L279.24 810.58 L280.12 811.79 L281.00 813.01 L281.87 814.23 L282.73 815.46 L283.59 816.69 L284.44 817.93 L285.28 819.17 L286.11 820.42 L286.94 821.67 L287.76 822.93 L288.57 824.19 L289.37 825.45 L290.17 826.72 L290.96 828.00 L291.74 829.28 L292.52 830.56 L293.28 831.85 L294.04 833.15 L294.79 834.44 L295.53 835.75 L296.27 837.05 L296.99 838.37 L297.71 839.68 L298.42 841.00 L299.13 842.33 L299.82 843.66 L300.50 844.99 L301.18 846.33 L301.85 847.67 L302.51 849.02 L303.17 850.37 L303.81 851.72 L304.45 853.08 L305.08 854.44 L305.70 855.81 L306.31 857.18 L306.91 858.55 L307.51 859.93 L308.10 861.31 L308.68 862.69 L309.25 864.08 L309.81 865.46 L310.37 866.86 L310.92 868.25 L311.47 869.65 L312.01 871.05 L312.54 872.45 L313.07 873.85 L313.60 875.26 L314.12 876.66 L314.64 878.07 L315.15 879.48 L315.67 880.89 L316.18 882.30 L316.69 883.71 L317.20 885.12 L317.70 886.53 L318.21 887.94 L318.72 889.35 L319.23 890.76 L319.74 892.17 L320.25 893.58 L320.76 894.99 L321.28 896.40 L321.80 897.81 L322.32 899.21 L322.85 900.62 L323.38 902.02 L323.91 903.42 L324.45 904.82 L325.00 906.22 L325.55 907.61 L326.11 909.01 L326.67 910.40 L327.24 911.78 L327.82 913.17 L328.41 914.55 L329.01 915.92 L329.61 917.29 L330.23 918.66 L330.85 920.02 L331.49 921.38 L332.13 922.74 L332.79 924.08 L333.46 925.43 L334.15 926.76 L334.84 928.09 L335.55 929.41 L336.26 930.73 L336.99 932.04 L337.73 933.34 L338.49 934.64 L339.25 935.93 L340.03 937.22 L340.81 938.49 L341.61 939.76 L342.42 941.03 L343.23 942.28 L344.06 943.53 L344.90 944.78 L345.75 946.01 L346.61 947.24 L347.48 948.46 L348.36 949.68 L349.25 950.89 L350.15 952.09 L351.06 953.28 L351.97 954.47 L352.90 955.65 L353.83 956.82 L354.78 957.99 L355.73 959.15 L356.69 960.30 L357.66 961.44 L358.64 962.58 L359.62 963.71 L360.61 964.83 L361.62 965.95 L362.62 967.06 L363.64 968.16 L364.66 969.26 L365.70 970.35 L366.73 971.43 L367.78 972.51 L368.83 973.58 L369.89 974.64 L370.95 975.70 L372.02 976.74 L373.10 977.79 L374.19 978.82 L375.28 979.85 L376.37 980.88 L377.47 981.90 L378.58 982.91 L379.70 983.91 L380.81 984.91 L381.94 985.90 L383.07 986.89 L384.20 987.87 L385.34 988.85 L386.49 989.82 L387.64 990.78 L388.79 991.74 L389.95 992.69 L391.11 993.64 L392.28 994.58 L393.45 995.51 L394.63 996.44 L395.81 997.37 L396.99 998.29 L398.18 999.20 L399.37 1000.11 L400.57 1001.02 L401.77 1001.92 L402.97 1002.81 L404.18 1003.70 L405.39 1004.59 L406.60 1005.47 L407.82 1006.35 L409.04 1007.22 L410.26 1008.09 L411.49 1008.95 L412.72 1009.81 L413.95 1010.67 L415.18 1011.52 L416.41 1012.37 L417.65 1013.22 L418.89 1014.06 L420.14 1014.90 L421.38 1015.74 L422.63 1016.58 L423.87 1017.41 L425.12 1018.24 L426.38 1019.06 L427.63 1019.88 L428.89 1020.71 L430.14 1021.52 L431.40 1022.34 L432.66 1023.15 L433.92 1023.97 L435.18 1024.78 L436.45 1025.59 L437.71 1026.39 L438.97 1027.20 L440.24 1028.00 L441.51 1028.81 L442.77 1029.61 L444.04 1030.41 L445.31 1031.21 L446.58 1032.01 L447.85 1032.81 L449.12 1033.61 L450.39 1034.40 L451.66 1035.20 L452.93 1036.00 L454.20 1036.80 L455.47 1037.59 L456.74 1038.39 L458.01 1039.19 L459.28 1039.99 L460.55 1040.78 L461.82 1041.58 L463.09 1042.38 L464.36 1043.18 L465.62 1043.99 L466.89 1044.79 L468.16 1045.59 L469.42 1046.40 L470.69 1047.21 L471.95 1048.01 L473.21 1048.82 L474.47 1049.64 L475.73 1050.45 L476.99 1051.27 L478.25 1052.09 L479.50 1052.91 L480.75 1053.73 L482.01 1054.55 L483.26 1055.38 L484.51 1056.21 L485.75 1057.05 L487.00 1057.88 L488.24 1058.72 L489.48 1059.56 L490.72 1060.41 L491.96 1061.26 L493.19 1062.11 L494.43 1062.96 L495.66 1063.82 L496.88 1064.68 L498.11 1065.55 L499.33 1066.42 L500.55 1067.29 L501.77 1068.16 L502.98 1069.04 L504.19 1069.93 L505.40 1070.82 L506.61 1071.71 L507.81 1072.61 L509.01 1073.51 L510.21 1074.41 L511.40 1075.32 L512.59 1076.23 L513.77 1077.15 L514.96 1078.08 L516.13 1079.00 L517.31 1079.93 L518.48 1080.87 L519.65 1081.81 L520.81 1082.76 L521.97 1083.71 L523.13 1084.66 L524.28 1085.62 L525.43 1086.59 L526.58 1087.55 L527.72 1088.52 L528.87 1089.49 L530.01 1090.46 L531.15 1091.43 L532.30 1092.40 L533.44 1093.37 L534.58 1094.34 L535.73 1095.31 L536.88 1096.27 L538.03 1097.23 L539.19 1098.19 L540.35 1099.14 L541.51 1100.09 L542.68 1101.03 L543.86 1101.96 L545.04 1102.88 L546.22 1103.80 L547.42 1104.71 L548.62 1105.60 L549.83 1106.49 L551.05 1107.36 L552.28 1108.22 L553.51 1109.07 L554.76 1109.91 L556.01 1110.73 L557.28 1111.54 L558.55 1112.33 L559.83 1113.12 L561.12 1113.88 L562.41 1114.64 L563.72 1115.38 L565.03 1116.11 L566.35 1116.82 L567.67 1117.52 L569.01 1118.21 L570.35 1118.88 L571.69 1119.54 L573.05 1120.19 L574.41 1120.82 L575.77 1121.44 L577.14 1122.04 L578.52 1122.64 L579.91 1123.21 L581.30 1123.78 L582.69 1124.33 L584.09 1124.87 L585.49 1125.40 L586.90 1125.91 L588.32 1126.41 L589.74 1126.90 L591.16 1127.37 L592.59 1127.83 L594.02 1128.28 L595.45 1128.72 L596.89 1129.14 L598.33 1129.55 L599.78 1129.95 L601.23 1130.34 L602.68 1130.72 L604.13 1131.08 L605.59 1131.43 L607.05 1131.77 L608.52 1132.10 L609.98 1132.41 L611.45 1132.72 L612.92 1133.01 L614.39 1133.29 L615.87 1133.56 L617.35 1133.82 L618.83 1134.07 L620.31 1134.31 L621.79 1134.54 L623.27 1134.76 L624.76 1134.96 L626.24 1135.16 L627.73 1135.35 L629.22 1135.52 L630.71 1135.69 L632.20 1135.85 L633.70 1135.99 L635.19 1136.13 L636.68 1136.26 L638.18 1136.38 L639.68 1136.48 L641.17 1136.58 L642.67 1136.67 L644.17 1136.76 L645.66 1136.83 L647.16 1136.89 L648.66 1136.95 L650.16 1136.99 L651.66 1137.03 L653.16 1137.06 L654.66 1137.08 L656.16 1137.10 L657.66 1137.10 L659.16 1137.10 L660.66 1137.09 L662.16 1137.07 L663.66 1137.05 L665.16 1137.01 L666.66 1136.97 L668.16 1136.92 L669.65 1136.87 L671.15 1136.80 L672.65 1136.73 L674.15 1136.66 L675.65 1136.57 L677.14 1136.48 L678.64 1136.39 L680.14 1136.28 L681.63 1136.17 L683.13 1136.05 L684.62 1135.93 L686.11 1135.80" stroke="#3c3aff" stroke-dasharray="37.0 26.65" stroke-dashoffset="62.38"/>
<path d="M686.11 1135.80 L687.61 1135.66 L689.10 1135.52 L690.59 1135.37 L692.09 1135.21 L693.58 1135.05 L695.07 1134.88 L696.56 1134.71 L698.05 1134.53 L699.53 1134.35 L701.02 1134.16 L702.51 1133.96 L703.99 1133.76 L705.48 1133.55 L706.96 1133.34 L708.45 1133.12 L709.93 1132.90 L711.41 1132.67 L712.89 1132.43 L714.37 1132.19 L715.85 1131.95 L717.33 1131.70 L718.81 1131.44 L720.29 1131.18 L721.76 1130.91 L723.24 1130.64 L724.71 1130.36 L726.19 1130.08 L727.66 1129.79 L729.13 1129.50 L730.60 1129.20 L732.07 1128.90 L733.53 1128.59 L735.00 1128.28 L736.47 1127.96 L737.93 1127.64 L739.40 1127.31 L740.86 1126.98 L742.32 1126.64 L743.78 1126.30 L745.24 1125.96 L746.70 1125.61 L748.16 1125.25 L749.61 1124.89 L751.07 1124.53 L752.52 1124.16 L753.97 1123.79 L755.42 1123.41 L756.88 1123.03 L758.32 1122.64 L759.77 1122.25 L761.22 1121.86 L762.67 1121.46 L764.11 1121.06 L765.55 1120.66 L767.00 1120.24 L768.44 1119.83 L769.88 1119.41 L771.32 1118.99 L772.76 1118.57 L774.19 1118.14 L775.63 1117.70 L777.06 1117.27 L778.50 1116.83 L779.93 1116.38 L781.36 1115.93 L782.79 1115.48 L784.22 1115.03 L785.65 1114.57 L787.08 1114.11 L788.50 1113.64 L789.93 1113.17 L791.35 1112.70 L792.77 1112.23 L794.19 1111.75 L795.61 1111.27 L797.03 1110.78 L798.45 1110.30 L799.87 1109.81 L801.29 1109.31 L802.70 1108.82 L804.12 1108.32 L805.53 1107.81 L806.94 1107.31 L808.35 1106.80 L809.76 1106.29 L811.17 1105.78 L812.58 1105.26 L813.99 1104.74 L815.39 1104.22 L816.80 1103.70 L818.20 1103.17 L819.61 1102.64 L821.01 1102.11 L822.41 1101.58 L823.81 1101.04 L825.21 1100.50 L826.61 1099.96 L828.01 1099.42 L829.41 1098.88 L830.80 1098.33 L832.20 1097.78 L833.59 1097.23 L834.99 1096.68 L836.38 1096.12 L837.77 1095.56 L839.16 1095.00 L840.55 1094.44 L841.95 1093.88 L843.33 1093.32 L844.72 1092.75 L846.11 1092.18 L847.50 1091.61 L848.89 1091.04 L850.27 1090.47 L851.66 1089.89 L853.04 1089.32 L854.43 1088.74 L855.81 1088.16 L857.19 1087.58 L858.58 1087.00 L859.96 1086.42 L861.34 1085.83 L862.72 1085.25 L864.10 1084.66 L865.48 1084.07 L866.86 1083.48 L868.24 1082.89 L869.62 1082.30 L870.99 1081.71 L872.37 1081.12 L873.75 1080.52 L875.12 1079.93 L876.50 1079.33 L877.88 1078.74 L879.25 1078.14 L880.63 1077.54 L882.00 1076.94 L883.37 1076.34 L884.75 1075.73 L886.12 1075.12 L887.49 1074.51 L888.85 1073.89 L890.22 1073.27 L891.58 1072.64 L892.94 1072.01 L894.29 1071.37 L895.65 1070.72 L897.00 1070.06 L898.34 1069.40 L899.68 1068.73 L901.02 1068.05 L902.35 1067.36 L903.68 1066.66 L905.00 1065.95 L906.31 1065.22 L907.62 1064.49 L908.92 1063.74 L910.21 1062.98 L911.50 1062.21 L912.78 1061.42 L914.04 1060.62 L915.30 1059.81 L916.56 1058.99 L917.81 1058.16 L919.05 1057.32 L920.29 1056.47 L921.52 1055.62 L922.76 1054.77 L923.99 1053.92 L925.23 1053.07 L926.47 1052.23 L927.71 1051.39 L928.96 1050.55 L930.21 1049.73 L931.47 1048.91 L932.74 1048.11 L934.01 1047.32 L935.29 1046.54 L936.58 1045.78 L937.88 1045.03 L939.18 1044.28 L940.49 1043.55 L941.80 1042.82 L943.12 1042.10 L944.44 1041.39 L945.77 1040.69 L947.09 1039.99 L948.42 1039.30 L949.75 1038.61 L951.09 1037.92 L952.42 1037.23 L953.76 1036.55 L955.09 1035.87 L956.43 1035.18 L957.76 1034.50 L959.09 1033.81 L960.43 1033.12 L961.76 1032.43 L963.08 1031.73 L964.41 1031.03 L965.73 1030.32 L967.05 1029.61 L968.36 1028.89 L969.68 1028.16 L970.98 1027.42 L972.29 1026.68 L973.59 1025.94 L974.88 1025.18 L976.18 1024.42 L977.47 1023.66 L978.75 1022.88 L980.03 1022.11 L981.31 1021.32 L982.59 1020.53 L983.86 1019.74 L985.13 1018.94 L986.40 1018.14 L987.66 1017.33 L988.92 1016.51 L990.17 1015.69 L991.43 1014.87 L992.68 1014.04 L993.92 1013.21 L995.17 1012.37 L996.41 1011.53 L997.65 1010.68 L998.89 1009.83 L1000.12 1008.98 L1001.35 1008.12 L1002.58 1007.26 L1003.80 1006.40 L1005.03 1005.53 L1006.25 1004.66 L1007.47 1003.79 L1008.69 1002.91 L1009.90 1002.03 L1011.11 1001.15 L1012.32 1000.27 L1013.53 999.38 L1014.74 998.49 L1015.95 997.60 L1017.15 996.70 L1018.35 995.80 L1019.55 994.91 L1020.75 994.01 L1021.95 993.10 L1023.15 992.20 L1024.34 991.29 L1025.54 990.39 L1026.73 989.48" stroke="#3c3aff" stroke-dasharray="37.0 26.65" stroke-dashoffset="51.82"/>
<path d="M1026.73 989.48 L1027.92 988.57 L1029.11 987.66 L1030.30 986.75 L1031.49 985.83 L1032.68 984.92 L1033.87 984.01 L1035.06 983.09 L1036.25 982.17 L1037.44 981.26 L1038.62 980.34 L1039.81 979.43 L1041.00 978.51 L1042.18 977.59 L1043.37 976.67 L1044.56 975.76 L1045.74 974.84 L1046.93 973.92 L1048.12 973.00 L1049.30 972.09 L1050.49 971.17 L1051.67 970.25 L1052.86 969.33 L1054.04 968.41 L1055.22 967.49 L1056.41 966.57 L1057.59 965.64 L1058.77 964.72 L1059.96 963.80 L1061.14 962.87 L1062.32 961.95 L1063.50 961.02 L1064.68 960.10 L1065.86 959.17 L1067.04 958.24 L1068.21 957.31 L1069.39 956.38 L1070.57 955.45 L1071.74 954.52 L1072.91 953.59 L1074.09 952.66 L1075.26 951.72 L1076.43 950.78 L1077.60 949.85 L1078.77 948.91 L1079.94 947.97 L1081.11 947.03 L1082.28 946.08 L1083.44 945.14 L1084.61 944.20 L1085.77 943.25 L1086.93 942.30 L1088.09 941.35 L1089.25 940.40 L1090.41 939.45 L1091.57 938.49 L1092.72 937.54 L1093.88 936.58 L1095.03 935.62 L1096.18 934.66 L1097.33 933.70 L1098.48 932.73 L1099.63 931.77 L1100.77 930.80 L1101.92 929.83 L1103.06 928.86 L1104.20 927.88 L1105.34 926.91 L1106.47 925.93 L1107.61 924.95 L1108.74 923.96 L1109.87 922.98 L1111.00 921.99 L1112.13 921.01 L1113.26 920.01 L1114.38 919.02 L1115.50 918.03 L1116.62 917.03 L1117.74 916.03 L1118.86 915.03 L1119.97 914.02 L1121.08 913.01 L1122.19 912.00 L1123.30 910.99 L1124.40 909.98 L1125.50 908.96 L1126.60 907.94 L1127.70 906.92 L1128.80 905.89 L1129.89 904.87 L1130.98 903.84 L1132.06 902.80 L1133.15 901.77 L1134.23 900.73 L1135.31 899.69 L1136.39 898.64 L1137.46 897.60 L1138.53 896.55 L1139.60 895.49 L1140.67 894.44 L1141.73 893.38 L1142.79 892.32 L1143.84 891.25 L1144.90 890.18 L1145.95 889.11 L1146.99 888.04 L1148.04 886.96 L1149.08 885.88 L1150.12 884.80 L1151.15 883.71 L1152.18 882.62 L1153.21 881.53 L1154.23 880.44 L1155.25 879.34 L1156.27 878.23 L1157.28 877.13 L1158.29 876.02 L1159.30 874.91 L1160.30 873.79 L1161.30 872.67 L1162.30 871.55 L1163.29 870.43 L1164.27 869.30 L1165.26 868.16 L1166.24 867.03 L1167.21 865.89 L1168.18 864.75 L1169.15 863.60 L1170.11 862.45 L1171.07 861.30 L1172.03 860.14 L1172.98 858.98 L1173.92 857.82 L1174.87 856.65 L1175.80 855.48 L1176.74 854.31 L1177.67 853.13 L1178.59 851.95 L1179.51 850.76 L1180.42 849.57 L1181.33 848.38 L1182.24 847.19 L1183.14 845.99 L1184.04 844.79 L1184.93 843.58 L1185.82 842.37 L1186.70 841.16 L1187.58 839.95 L1188.46 838.73 L1189.33 837.51 L1190.20 836.28 L1191.06 835.06 L1191.91 833.82 L1192.77 832.59 L1193.62 831.35 L1194.46 830.11 L1195.30 828.87 L1196.14 827.63 L1196.97 826.38 L1197.79 825.13 L1198.61 823.87 L1199.43 822.61 L1200.24 821.35 L1201.05 820.09 L1201.86 818.83 L1202.66 817.56 L1203.46 816.29 L1204.26 815.02 L1205.06 813.75 L1205.86 812.49 L1206.67 811.22 L1207.47 809.95 L1208.28 808.69 L1209.09 807.43 L1209.90 806.17 L1210.72 804.91 L1211.55 803.66 L1212.38 802.41 L1213.22 801.17 L1214.07 799.94 L1214.93 798.70 L1215.79 797.48 L1216.66 796.26 L1217.54 795.04 L1218.42 793.83 L1219.31 792.62 L1220.20 791.41 L1221.09 790.21 L1221.99 789.01 L1222.89 787.81 L1223.79 786.61 L1224.70 785.41 L1225.61 784.22 L1226.51 783.02 L1227.42 781.83 L1228.33 780.64 L1229.24 779.44 L1230.14 778.25 L1231.05 777.05 L1231.95 775.85 L1232.85 774.65 L1233.75 773.45 L1234.64 772.25 L1235.53 771.04 L1236.41 769.83 L1237.29 768.61 L1238.17 767.39 L1239.04 766.17 L1239.90 764.95 L1240.76 763.72 L1241.61 762.48 L1242.46 761.25 L1243.31 760.01 L1244.15 758.77 L1244.98 757.52 L1245.81 756.27 L1246.64 755.02 L1247.46 753.76 L1248.27 752.51 L1249.09 751.24 L1249.89 749.98 L1250.69 748.71 L1251.49 747.44 L1252.29 746.17 L1253.08 744.89 L1253.86 743.62 L1254.64 742.34 L1255.42 741.05 L1256.19 739.77 L1256.96 738.48 L1257.72 737.19 L1258.48 735.90 L1259.24 734.60 L1259.99 733.30 L1260.74 732.00 L1261.48 730.70 L1262.22 729.40 L1262.96 728.09 L1263.70 726.78 L1264.43 725.47 L1265.15 724.16 L1265.88 722.85 L1266.60 721.53 L1267.31 720.22 L1268.03 718.90 L1268.74 717.58 L1269.45 716.25 L1270.15 714.93 L1270.85 713.60 L1271.55 712.28 L1272.24 710.95 L1272.94 709.62 L1273.63 708.28 L1274.31 706.95 L1275.00 705.62 L1275.68 704.28 L1276.36 702.94 L1277.04 701.61 L1277.71 700.27 L1278.38 698.93 L1279.05 697.58 L1279.72 696.24 L1280.39 694.90 L1281.05 693.55 L1281.71 692.21 L1282.37 690.86 L1283.03 689.51 L1283.68 688.16 L1284.34 686.81 L1284.99 685.46 L1285.64 684.11 L1286.29 682.76 L1286.94 681.41 L1287.58 680.05 L1288.23 678.70 L1288.87 677.34 L1289.51 675.99 L1290.15 674.63 L1290.79 673.28 L1291.43 671.92 L1292.07 670.56 L1292.71 669.20 L1293.34 667.84 L1293.98 666.49 L1294.61 665.13 L1295.24 663.77 L1295.88 662.41 L1296.51 661.05 L1297.14 659.69 L1297.77 658.33 L1298.40 656.96 L1299.03 655.60 L1299.66 654.24 L1300.29 652.88 L1300.91 651.52 L1301.54 650.16 L1302.17 648.79 L1302.79 647.43" stroke="#3c3aff" stroke-dasharray="37.0 26.65" stroke-dashoffset="50.62"/>
<path d="M1302.79 647.43 L1303.42 646.07 L1304.05 644.70 L1304.67 643.34 L1305.30 641.98 L1305.92 640.62 L1306.55 639.25 L1307.17 637.89 L1307.80 636.52 L1308.42 635.16 L1309.05 633.80 L1309.67 632.43 L1310.29 631.07 L1310.92 629.71 L1311.54 628.34 L1312.17 626.98 L1312.79 625.62 L1313.42 624.25 L1314.04 622.89 L1314.66 621.52 L1315.29 620.16 L1315.91 618.80 L1316.54 617.43 L1317.17 616.07 L1317.79 614.71 L1318.42 613.35 L1319.04 611.98 L1319.67 610.62 L1320.30 609.26 L1320.93 607.90 L1321.56 606.54 L1322.18 605.17 L1322.81 603.81 L1323.44 602.45 L1324.07 601.09 L1324.71 599.73 L1325.34 598.37 L1325.97 597.01 L1326.60 595.65 L1327.24 594.29 L1327.87 592.93 L1328.51 591.57 L1329.14 590.22 L1329.78 588.86 L1330.42 587.50 L1331.06 586.15 L1331.70 584.79 L1332.34 583.43 L1332.98 582.08 L1333.63 580.72 L1334.27 579.37 L1334.92 578.01 L1335.56 576.66 L1336.21 575.31 L1336.86 573.96 L1337.51 572.61 L1338.16 571.25 L1338.81 569.90 L1339.47 568.55 L1340.12 567.21 L1340.78 565.86 L1341.44 564.51 L1342.10 563.16 L1342.76 561.82 L1343.42 560.47 L1344.08 559.13 L1344.75 557.78 L1345.42 556.44 L1346.08 555.10 L1346.75 553.75 L1347.43 552.41 L1348.10 551.07 L1348.77 549.73 L1349.45 548.39 L1350.13 547.06 L1350.81 545.72 L1351.49 544.39 L1352.18 543.05 L1352.86 541.72 L1353.55 540.38 L1354.24 539.05 L1354.93 537.72 L1355.63 536.39 L1356.32 535.06 L1357.02 533.74 L1357.72 532.41 L1358.42 531.08 L1359.12 529.76 L1359.83 528.44 L1360.54 527.11 L1361.25 525.79 L1361.96 524.47 L1362.68 523.16 L1363.40 521.84 L1364.12 520.52 L1364.84 519.21 L1365.56 517.90 L1366.29 516.58 L1367.02 515.27 L1367.75 513.96 L1368.48 512.66 L1369.22 511.35 L1369.96 510.05 L1370.70 508.74 L1371.45 507.44 L1372.19 506.14 L1372.94 504.84 L1373.70 503.54 L1374.45 502.25 L1375.21 500.95 L1375.97 499.66 L1376.73 498.37 L1377.50 497.08 L1378.27 495.79 L1379.04 494.51 L1379.81 493.22 L1380.59 491.94 L1381.37 490.66 L1382.16 489.38 L1382.94 488.10 L1383.73 486.83 L1384.52 485.55 L1385.32 484.28 L1386.12 483.01 L1386.92 481.75 L1387.72 480.48 L1388.53 479.22 L1389.34 477.95 L1390.16 476.69 L1390.97 475.44 L1391.79 474.18 L1392.62 472.93 L1393.44 471.68 L1394.27 470.43 L1395.11 469.18 L1395.94 467.94 L1396.78 466.69 L1397.63 465.45 L1398.47 464.22 L1399.32 462.98 L1400.18 461.75 L1401.03 460.52 L1401.89 459.29 L1402.76 458.06 L1403.63 456.84 L1404.50 455.62 L1405.37 454.40 L1406.25 453.18 L1407.13 451.97 L1408.02 450.76 L1408.90 449.55 L1409.80 448.35 L1410.69 447.14 L1411.59 445.94 L1412.49 444.74 L1413.40 443.55 L1414.31 442.36 L1415.23 441.17 L1416.14 439.98 L1417.06 438.80 L1417.99 437.62 L1418.92 436.44 L1419.85 435.27 L1420.79 434.10 L1421.73 432.93 L1422.67 431.76 L1423.61 430.59 L1424.56 429.43 L1425.51 428.27 L1426.45 427.11 L1427.40 425.94 L1428.35 424.78 L1429.30 423.62 L1430.25 422.46 L1431.20 421.30 L1432.14 420.13 L1433.09 418.97 L1434.03 417.80 L1434.96 416.63 L1435.90 415.46 L1436.83 414.28 L1437.76 413.10 L1438.68 411.92 L1439.60 410.73 L1440.51 409.54 L1441.42 408.35 L1442.31 407.15 L1443.21 405.94 L1444.09 404.73 L1444.97 403.51 L1445.84 402.29 L1446.70 401.06 L1447.55 399.83 L1448.39 398.58 L1449.22 397.33 L1450.04 396.08 L1450.84 394.81 L1451.64 393.54 L1452.42 392.26 L1453.19 390.97 L1453.94 389.68 L1454.68 388.37 L1455.41 387.06 L1456.12 385.74 L1456.81 384.41 L1457.49 383.07 L1458.15 381.72 L1458.80 380.37 L1459.43 379.01 L1460.06 377.65 L1460.68 376.29 L1461.29 374.92 L1461.89 373.54 L1462.49 372.17 L1463.09 370.79 L1463.68 369.41 L1464.27 368.04 L1464.87 366.66 L1465.46 365.28 L1466.06 363.91 L1466.66 362.53 L1467.28 361.16 L1467.89 359.80 L1468.52 358.44 L1469.16 357.08 L1469.81 355.73 L1470.46 354.38 L1471.13 353.03 L1471.80 351.69 L1472.48 350.36 L1473.17 349.02 L1473.87 347.70 L1474.57 346.37 L1475.28 345.05 L1475.99 343.73 L1476.71 342.42 L1477.44 341.10 L1478.17 339.79 L1478.90 338.48 L1479.64 337.18 L1480.38 335.87 L1481.12 334.57 L1481.87 333.27 L1482.61 331.97 L1483.36 330.67 L1484.11 329.37 L1484.86 328.07 L1485.61 326.77 L1486.36 325.47 L1487.11 324.17 L1487.86 322.88 L1488.61 321.58 L1489.37 320.28 L1490.12 318.99 L1490.88 317.69 L1491.64 316.40 L1492.41 315.11 L1493.17 313.82 L1493.94 312.53 L1494.72 311.25 L1495.50 309.97 L1496.28 308.69 L1497.07 307.42 L1497.87 306.14 L1498.67 304.88 L1499.48 303.61 L1500.29 302.35 L1501.11 301.10 L1501.94 299.85 L1502.78 298.60 L1503.62 297.36 L1504.47 296.13 L1505.33 294.90 L1506.20 293.68 L1507.08 292.46 L1507.97 291.25 L1508.86 290.05 L1509.77 288.85 L1510.68 287.66 L1511.60 286.48 L1512.54 285.31 L1513.48 284.14 L1514.43 282.98 L1515.40 281.84 L1516.37 280.70 L1517.36 279.56 L1518.35 278.44 L1519.36 277.33 L1520.37 276.22 L1521.40 275.13 L1522.43 274.05 L1523.48 272.97 L1524.54 271.91 L1525.61 270.86 L1526.70 269.82 L1527.79 268.80 L1528.91 267.80 L1530.04 266.81 L1531.19 265.85 L1532.35 264.91 L1533.54 263.99 L1534.75 263.10 L1535.97 262.24 L1537.22 261.41 L1538.50 260.62 L1539.80 259.87 L1541.12 259.16 L1542.47 258.51 L1543.85 257.91 L1545.25 257.38 L1546.67 256.91 L1548.12 256.51 L1549.58 256.19 L1551.06 255.93 L1552.55 255.75 L1554.05 255.65 L1555.54 255.62 L1557.04 255.67 L1558.54 255.80 L1560.02 256.01 L1561.49 256.30 L1562.95 256.66 L1564.38 257.10 L1565.79 257.61 L1567.18 258.19 L1568.53 258.84 L1569.84 259.56 L1571.12 260.34 L1572.36 261.18 L1573.56 262.08 L1574.72 263.04 L1575.83 264.04 L1576.90 265.09 L1577.93 266.19 L1578.92 267.31 L1579.87 268.47 L1580.80 269.65 L1581.69 270.86 L1582.55 272.09 L1583.39 273.33 L1584.20 274.59 L1584.99 275.86 L1585.77 277.15 L1586.53 278.44 L1587.27 279.74 L1588.00 281.05 L1588.72 282.37 L1589.43 283.69 L1590.13 285.02 L1590.83 286.34 L1591.53 287.67 L1592.22 289.00 L1592.90 290.34 L1593.58 291.68 L1594.26 293.01 L1594.93 294.35 L1595.60 295.70 L1596.26 297.04 L1596.92 298.39 L1597.58 299.74 L1598.23 301.09 L1598.88 302.44 L1599.53 303.79 L1600.18 305.14 L1600.82 306.50 L1601.46 307.86 L1602.09 309.21 L1602.73 310.57 L1603.36 311.93 L1603.99 313.30 L1604.62 314.66 L1605.24 316.02 L1605.87 317.38 L1606.49 318.75 L1607.11 320.11 L1607.73 321.48 L1608.35 322.84 L1608.97 324.21 L1609.59 325.57 L1610.21 326.94 L1610.83 328.31 L1611.45 329.67 L1612.07 331.04 L1612.69 332.40 L1613.31 333.77 L1613.93 335.13 L1614.56 336.50 L1615.18 337.86 L1615.81 339.22 L1616.44 340.59 L1617.06 341.95 L1617.70 343.31 L1618.33 344.67 L1618.97 346.03 L1619.60 347.38 L1620.25 348.74 L1620.89 350.09 L1621.54 351.44 L1622.19 352.79 L1622.85 354.14 L1623.51 355.49 L1624.17 356.84 L1624.84 358.18 L1625.51 359.52 L1626.18 360.86 L1626.87 362.20 L1627.55 363.53 L1628.24 364.86 L1628.94 366.19 L1629.64 367.51 L1630.35 368.84 L1631.06 370.16 L1631.78 371.47 L1632.50 372.78 L1633.24 374.09 L1633.97 375.40 L1634.72 376.70 L1635.47 378.00 L1636.22 379.30 L1636.99 380.59 L1637.76 381.87 L1638.54 383.15 L1639.33 384.43 L1640.13 385.70 L1640.94 386.96 L1641.76 388.21 L1642.59 389.46 L1643.44 390.70 L1644.29 391.93 L1645.16 393.16 L1646.04 394.37 L1646.93 395.58 L1647.84 396.77 L1648.76 397.95 L1649.70 399.12 L1650.65 400.28 L1651.62 401.43 L1652.60 402.56 L1653.60 403.68 L1654.62 404.78 L1655.65 405.87 L1656.70 406.94 L1657.77 407.99 L1658.86 409.02 L1659.96 410.04 L1661.09 411.03 L1662.23 412.00 L1663.39 412.96 L1664.57 413.88 L1665.76 414.79 L1666.97 415.68 L1668.19 416.55 L1669.43 417.40 L1670.67 418.24 L1671.93 419.05 L1673.19 419.86 L1674.47 420.65 L1675.75 421.43 L1677.04 422.19 L1678.34 422.95 L1679.64 423.69 L1680.94 424.43 L1682.25 425.16 L1683.56 425.89 L1684.88 426.61 L1686.20 427.33 L1687.51 428.05 L1688.83 428.77 L1690.14 429.49 L1691.46 430.21 L1692.77 430.94 L1694.08 431.67 L1695.38 432.41 L1696.68 433.15 L1697.98 433.91 L1699.27 434.68 L1700.55 435.46 L1701.82 436.25 L1703.08 437.06 L1704.34 437.89 L1705.58 438.73 L1706.81 439.59 L1708.02 440.47 L1709.22 441.37 L1710.40 442.29 L1711.57 443.24 L1712.71 444.21 L1713.83 445.20 L1714.94 446.22 L1716.02 447.26 L1717.08 448.32 L1718.12 449.40 L1719.14 450.50 L1720.14 451.61 L1721.13 452.74 L1722.10 453.88 L1723.06 455.03 L1724.01 456.20 L1724.94 457.37 L1725.86 458.55 L1726.78 459.74 L1727.68 460.94 L1728.58 462.14 L1729.47 463.35 L1730.36 464.56 L1731.23 465.78 L1732.10 467.00 L1732.97 468.22 L1733.82 469.46 L1734.67 470.69 L1735.51 471.93 L1736.35 473.18 L1737.17 474.43 L1738.00 475.68 L1738.81 476.94 L1739.62 478.21 L1740.42 479.48 L1741.21 480.75 L1742.00 482.03 L1742.78 483.31 L1743.55 484.59 L1744.31 485.88 L1745.07 487.18 L1745.82 488.47 L1746.57 489.78 L1747.31 491.08 L1748.04 492.39 L1748.77 493.70 L1749.49 495.02 L1750.20 496.34 L1750.90 497.66 L1751.60 498.99 L1752.30 500.32 L1752.98 501.65 L1753.66 502.99 L1754.34 504.33 L1755.00 505.67 L1755.66 507.02 L1756.32 508.37 L1756.97 509.72 L1757.61 511.07 L1758.25 512.43 L1758.88 513.79 L1759.50 515.16 L1760.12 516.52 L1760.73 517.89 L1761.34 519.26 L1761.94 520.64 L1762.54 522.01 L1763.13 523.39 L1763.71 524.78 L1764.29 526.16 L1764.86 527.55 L1765.43 528.93" stroke="#3c3aff" stroke-dasharray="37.0 26.65" stroke-dashoffset="49.00"/>
<path d="M1765.43 528.93 L1765.99 530.32 L1766.55 531.72 L1767.10 533.11 L1767.64 534.51 L1768.18 535.91 L1768.72 537.31 L1769.25 538.71 L1769.78 540.12 L1770.30 541.52 L1770.81 542.93 L1771.32 544.34 L1771.83 545.75 L1772.33 547.17 L1772.83 548.58 L1773.32 550.00 L1773.81 551.42 L1774.29 552.84 L1774.77 554.26 L1775.24 555.68 L1775.71 557.10 L1776.18 558.53 L1776.64 559.96 L1777.10 561.39 L1777.55 562.81 L1778.00 564.25 L1778.44 565.68 L1778.89 567.11 L1779.32 568.55 L1779.76 569.98 L1780.19 571.42 L1780.61 572.86 L1781.04 574.30 L1781.45 575.74 L1781.87 577.18 L1782.28 578.62 L1782.69 580.06 L1783.10 581.51 L1783.50 582.95 L1783.90 584.40 L1784.29 585.84 L1784.69 587.29 L1785.08 588.74 L1785.47 590.19 L1785.85 591.64 L1786.23 593.09 L1786.61 594.54 L1786.99 595.99 L1787.36 597.44 L1787.73 598.90 L1788.10 600.35 L1788.46 601.80 L1788.83 603.26 L1789.19 604.71 L1789.55 606.17 L1789.90 607.63 L1790.26 609.08 L1790.61 610.54 L1790.96 612.00 L1791.31 613.46 L1791.66 614.92 L1792.00 616.38 L1792.34 617.84 L1792.69 619.30 L1793.02 620.76 L1793.36 622.22 L1793.70 623.68 L1794.03 625.14 L1794.37 626.61 L1794.70 628.07 L1795.03 629.53 L1795.36 631.00 L1795.69 632.46 L1796.01 633.92 L1796.34 635.39 L1796.66 636.85 L1796.99 638.31 L1797.31 639.78 L1797.63 641.24 L1797.96 642.71 L1798.28 644.17 L1798.60 645.64 L1798.91 647.10 L1799.23 648.57 L1799.55 650.04 L1799.86 651.50 L1800.18 652.97 L1800.49 654.44 L1800.81 655.90 L1801.12 657.37 L1801.43 658.84 L1801.75 660.30 L1802.06 661.77 L1802.37 663.24 L1802.67 664.70 L1802.98 666.17 L1803.29 667.64 L1803.60 669.11 L1803.90 670.58 L1804.21 672.04 L1804.51 673.51 L1804.82 674.98 L1805.12 676.45 L1805.43 677.92 L1805.73 679.39 L1806.03 680.86 L1806.33 682.33 L1806.63 683.80 L1806.93 685.27 L1807.23 686.74 L1807.53 688.21 L1807.83 689.68 L1808.12 691.15 L1808.42 692.62 L1808.71 694.09 L1809.01 695.56 L1809.31 697.03 L1809.60 698.50 L1809.89 699.97 L1810.19 701.44 L1810.48 702.91 L1810.77 704.38 L1811.06 705.85 L1811.36 707.32 L1811.65 708.79 L1811.94 710.27 L1812.23 711.74 L1812.52 713.21 L1812.80 714.68 L1813.09 716.15 L1813.38 717.62 L1813.67 719.10 L1813.96 720.57 L1814.24 722.04 L1814.53 723.51 L1814.82 724.98 L1815.10 726.46 L1815.39 727.93 L1815.67 729.40 L1815.96 730.87 L1816.24 732.35 L1816.52 733.82 L1816.81 735.29 L1817.09 736.76 L1817.37 738.24 L1817.66 739.71 L1817.94 741.18 L1818.22 742.66 L1818.50 744.13 L1818.78 745.60 L1819.06 747.08 L1819.35 748.55 L1819.63 750.02 L1819.91 751.50 L1820.19 752.97 L1820.47 754.44 L1820.75 755.92 L1821.03 757.39 L1821.31 758.86 L1821.59 760.34 L1821.86 761.81 L1822.14 763.28 L1822.42 764.76 L1822.70 766.23 L1822.98 767.70 L1823.26 769.18 L1823.54 770.65 L1823.81 772.13 L1824.09 773.60 L1824.37 775.07 L1824.65 776.55 L1824.93 778.02 L1825.20 779.49 L1825.48 780.97 L1825.76 782.44 L1826.04 783.92 L1826.32 785.39 L1826.59 786.86 L1826.87 788.34 L1827.15 789.81 L1827.43 791.28 L1827.70 792.76 L1827.98 794.23 L1828.26 795.71 L1828.54 797.18 L1828.81 798.65 L1829.09 800.13 L1829.37 801.60 L1829.65 803.08 L1829.93 804.55 L1830.20 806.02 L1830.48 807.50 L1830.76 808.97 L1831.04 810.44 L1831.32 811.92 L1831.60 813.39 L1831.88 814.86 L1832.16 816.34 L1832.44 817.81 L1832.72 819.29 L1832.99 820.76 L1833.27 822.23 L1833.55 823.71 L1833.84 825.18 L1834.12 826.65 L1834.40 828.13 L1834.68 829.60 L1834.96 831.07 L1835.24 832.54 L1835.52 834.02 L1835.80 835.49 L1836.09 836.96 L1836.37 838.44 L1836.65 839.91 L1836.94 841.38 L1837.22 842.86 L1837.50 844.33 L1837.79 845.80 L1838.07 847.27 L1838.36 848.75 L1838.64 850.22 L1838.93 851.69 L1839.21 853.16 L1839.50 854.63 L1839.79 856.11 L1840.08 857.58 L1840.36 859.05 L1840.65 860.52 L1840.94 861.99 L1841.23 863.47 L1841.52 864.94 L1841.81 866.41 L1842.10 867.88 L1842.39 869.35 L1842.68 870.82 L1842.97 872.29 L1843.27 873.76 L1843.56 875.24 L1843.85 876.71 L1844.15 878.18 L1844.44 879.65 L1844.74 881.12 L1845.03 882.59 L1845.33 884.06 L1845.63 885.53 L1845.92 887.00 L1846.22 888.47 L1846.52 889.94 L1846.82 891.41 L1847.12 892.88 L1847.42 894.35 L1847.72 895.82 L1848.02 897.28 L1848.33 898.75 L1848.63 900.22 L1848.93 901.69 L1849.24 903.16 L1849.54 904.63 L1849.85 906.10 L1850.15 907.56 L1850.46 909.03 L1850.77 910.50 L1851.08 911.97 L1851.39 913.43 L1851.70 914.90 L1852.01 916.37 L1852.32 917.84 L1852.64 919.30 L1852.95 920.77 L1853.26 922.24 L1853.58 923.70 L1853.89 925.17 L1854.21 926.63 L1854.53 928.10 L1854.85 929.57 L1855.17 931.03 L1855.49 932.50 L1855.81 933.96 L1856.13 935.43 L1856.45 936.89 L1856.78 938.35 L1857.10 939.82 L1857.43 941.28 L1857.75 942.75 L1858.08 944.21 L1858.41 945.67 L1858.74 947.14 L1859.07 948.60 L1859.40 950.06 L1859.73 951.53 L1860.06 952.99 L1860.40 954.45 L1860.73 955.91 L1861.07 957.37 L1861.41 958.83 L1861.75 960.30 L1862.09 961.76 L1862.43 963.22 L1862.77 964.68 L1863.11 966.14 L1863.45 967.60 L1863.80 969.06 L1864.14 970.52 L1864.49 971.98 L1864.84 973.43 L1865.19 974.89 L1865.54 976.35 L1865.89 977.81 L1866.24 979.27 L1866.59 980.72 L1866.95 982.18 L1867.30 983.64 L1867.66 985.10 L1868.02 986.55 L1868.38 988.01 L1868.74 989.46 L1869.10 990.92 L1869.46 992.37 L1869.83 993.83 L1870.19 995.28 L1870.56 996.74 L1870.93 998.19 L1871.30 999.65 L1871.67 1001.10 L1872.04 1002.55 L1872.41 1004.00 L1872.79 1005.46 L1873.16 1006.91 L1873.54 1008.36 L1873.92 1009.81 L1874.30 1011.26 L1874.68 1012.71 L1875.06 1014.16 L1875.44 1015.61 L1875.83 1017.06 L1876.22 1018.51 L1876.61 1019.96 L1877.00 1021.41 L1877.39 1022.86 L1877.78 1024.30 L1878.18 1025.75 L1878.58 1027.19 L1878.98 1028.64 L1879.39 1030.08 L1879.79 1031.53 L1880.20 1032.97 L1880.62 1034.41 L1881.03 1035.85 L1881.45 1037.29 L1881.88 1038.73 L1882.30 1040.17 L1882.73 1041.61 L1883.17 1043.04 L1883.60 1044.48 L1884.05 1045.91 L1884.49 1047.34 L1884.94 1048.77 L1885.39 1050.20 L1885.85 1051.63 L1886.31 1053.06 L1886.78 1054.48 L1887.25 1055.91 L1887.73 1057.33 L1888.21 1058.75 L1888.70 1060.17 L1889.19 1061.58 L1889.69 1063.00 L1890.19 1064.41 L1890.70 1065.82 L1891.21 1067.23 L1891.73 1068.64 L1892.26 1070.04 L1892.79 1071.45 L1893.33 1072.85 L1893.87 1074.24 L1894.42 1075.64 L1894.97 1077.03 L1895.54 1078.42 L1896.11 1079.81 L1896.68 1081.19 L1897.26 1082.58 L1897.85 1083.96 L1898.45 1085.33 L1899.05 1086.71 L1899.66 1088.08 L1900.28 1089.44 L1900.90 1090.81 L1901.54 1092.17 L1902.18 1093.52 L1902.82 1094.87 L1903.48 1096.22 L1904.14 1097.57 L1904.81 1098.91 L1905.49 1100.25 L1906.18 1101.58 L1906.87 1102.91 L1907.58 1104.23 L1908.29 1105.55 L1909.02 1106.87 L1909.75 1108.18 L1910.49 1109.48 L1911.25 1110.77 L1912.01 1112.06 L1912.79 1113.35 L1913.57 1114.62 L1914.37 1115.89 L1915.18 1117.16 L1916.00 1118.41 L1916.84 1119.66 L1917.69 1120.89 L1918.55 1122.12 L1919.42 1123.34 L1920.31 1124.55 L1921.21 1125.75 L1922.13 1126.93 L1923.06 1128.11 L1924.00 1129.27 L1924.96 1130.43 L1925.94 1131.57 L1926.93 1132.69 L1927.93 1133.81 L1928.96 1134.90 L1929.99 1135.99 L1931.05 1137.06 L1932.11 1138.11 L1933.20 1139.14 L1934.30 1140.16 L1935.42 1141.16 L1936.55 1142.15 L1937.70 1143.11 L1938.86 1144.05 L1940.05 1144.98 L1941.24 1145.88 L1942.46 1146.76 L1943.68 1147.62 L1944.93 1148.46 L1946.19 1149.28 L1947.46 1150.07 L1948.74 1150.84 L1950.04 1151.60 L1951.35 1152.33 L1952.67 1153.04 L1954.00 1153.73 L1955.34 1154.40 L1956.69 1155.05 L1958.05 1155.69 L1959.42 1156.30 L1960.80 1156.90 L1962.18 1157.48 L1963.57 1158.05 L1964.96 1158.59 L1966.37 1159.13 L1967.78 1159.64 L1969.19 1160.14 L1970.61 1160.62 L1972.03 1161.09 L1973.46 1161.55 L1974.90 1161.99 L1976.33 1162.42 L1977.78 1162.83 L1979.22 1163.23 L1980.67 1163.62 L1982.12 1163.99 L1983.58 1164.35 L1985.04 1164.70 L1986.50 1165.03 L1987.96 1165.35 L1989.43 1165.66 L1990.90 1165.96 L1992.37 1166.25 L1993.85 1166.52 L1995.32 1166.79 L1996.80 1167.04 L1998.28 1167.28 L1999.76 1167.51 L2001.25 1167.73 L2002.73 1167.94 L2004.22 1168.14 L2005.71 1168.34 L2007.20 1168.52 L2008.68 1168.69 L2010.18 1168.86 L2011.67 1169.01 L2013.16 1169.16 L2014.65 1169.30 L2016.15 1169.44 L2017.64 1169.56 L2019.14 1169.68 L2020.63 1169.79 L2022.13 1169.90 L2023.62 1170.00 L2025.12 1170.09 L2026.62 1170.18 L2028.12 1170.27 L2029.61 1170.35 L2031.11 1170.42 L2032.61 1170.49 L2034.11 1170.56 L2035.61 1170.62 L2037.10 1170.68 L2038.60 1170.73 L2040.10 1170.78 L2041.60 1170.83 L2043.10 1170.88 L2044.60 1170.93 L2046.10 1170.97 L2047.60 1171.01 L2049.10 1171.05 L2050.60 1171.10 L2052.10 1171.14 L2053.59 1171.17 L2055.09 1171.21 L2056.59 1171.25 L2058.09 1171.29 L2059.59 1171.34 L2061.09 1171.38 L2062.59 1171.42 L2064.09 1171.47 L2065.59 1171.52 L2067.09 1171.57 L2068.59 1171.62 L2070.08 1171.67 L2071.58 1171.73 L2073.08 1171.79 L2074.58 1171.85 L2076.08 1171.91 L2077.58 1171.97 L2079.08 1172.04 L2080.57 1172.10 L2082.07 1172.17 L2083.57 1172.24 L2085.07 1172.31 L2086.57 1172.38 L2088.06 1172.45 L2089.56 1172.52 L2091.06 1172.60 L2092.56 1172.67 L2094.06 1172.75 L2095.55 1172.82 L2097.05 1172.89 L2098.55 1172.97 L2100.05 1173.04 L2101.55 1173.12 L2103.04 1173.19 L2104.54 1173.27 L2106.04 1173.34 L2107.54 1173.41 L2109.04 1173.48 L2110.53 1173.56 L2112.03 1173.63 L2113.53 1173.70 L2115.03 1173.76 L2116.53 1173.83 L2118.02 1173.90 L2119.52 1173.96 L2121.02 1174.02 L2122.52 1174.08 L2124.02 1174.14 L2125.52 1174.20 L2127.02 1174.25 L2128.52 1174.31 L2130.01 1174.36 L2131.51 1174.41 L2133.01 1174.45 L2134.51 1174.50 L2136.01 1174.54 L2137.51 1174.58 L2139.01 1174.61 L2140.51 1174.64 L2142.01 1174.67 L2143.51 1174.70 L2145.01 1174.72 L2146.51 1174.74 L2148.01 1174.75 L2149.51 1174.77 L2151.01 1174.77 L2152.51 1174.78 L2154.01 1174.78 L2155.51 1174.77 L2157.01 1174.76 L2158.50 1174.75 L2160.00 1174.73 L2161.50 1174.71 L2163.00 1174.69 L2164.50 1174.66 L2166.00 1174.62 L2167.50 1174.58 L2169.00 1174.53 L2170.50 1174.48 L2172.00 1174.42" stroke="#3c3aff" stroke-dasharray="37.0 26.65" stroke-dashoffset="49.53"/>
</g>
<g stroke="#000" stroke-width="7" fill="none">
<line x1="233.5" y1="1175.0" x2="260.8" y2="1175.0"/><line x1="233.5" y1="941.5" x2="260.8" y2="941.5"/><line x1="233.5" y1="708.0" x2="260.8" y2="708.0"/><line x1="233.5" y1="474.5" x2="260.8" y2="474.5"/><line x1="233.5" y1="241.0" x2="260.8" y2="241.0"/><line x1="244.5" y1="1058.2" x2="260.8" y2="1058.2"/><line x1="244.5" y1="824.8" x2="260.8" y2="824.8"/><line x1="244.5" y1="591.2" x2="260.8" y2="591.2"/><line x1="244.5" y1="357.8" x2="260.8" y2="357.8"/><line x1="244.5" y1="124.2" x2="260.8" y2="124.2"/><line x1="260.6" y1="1202.5" x2="260.6" y2="1227"/><line x1="643.0" y1="1202.5" x2="643.0" y2="1227"/><line x1="1025.4" y1="1202.5" x2="1025.4" y2="1227"/><line x1="1407.8" y1="1202.5" x2="1407.8" y2="1227"/><line x1="1790.2" y1="1202.5" x2="1790.2" y2="1227"/><line x1="2172.6" y1="1202.5" x2="2172.6" y2="1227"/><line x1="451.8" y1="1202.5" x2="451.8" y2="1216.5"/><line x1="834.2" y1="1202.5" x2="834.2" y2="1216.5"/><line x1="1216.6" y1="1202.5" x2="1216.6" y2="1216.5"/><line x1="1599.0" y1="1202.5" x2="1599.0" y2="1216.5"/><line x1="1981.4" y1="1202.5" x2="1981.4" y2="1216.5"/>
</g>
<rect x="260.8" y="29.0" width="1911.8" height="1173.5" fill="none" stroke="#000" stroke-width="8"/>
<g font-size="64" fill="#000">
<text x="229.5" y="1195.0" text-anchor="end">0</text><text x="160" y="962.6">1<tspan x="193.6">0</tspan></text><rect x="163.0" y="957.2" width="13.0" height="6.0" fill="#fff"/><rect x="182.0" y="957.2" width="12.0" height="6.0" fill="#fff"/><text x="229.5" y="727.4" text-anchor="end">20</text><text x="229.5" y="494.9" text-anchor="end">30</text><text x="229.5" y="259.5" text-anchor="end">40</text>
<text x="256.6" y="1291" text-anchor="middle">250</text><text x="644.3" y="1291" text-anchor="middle">300</text><text x="1022.3" y="1291" text-anchor="middle">350</text><text x="1403.5" y="1291" text-anchor="middle">400</text><text x="1791.5" y="1291" text-anchor="middle">450</text><text x="2174.0" y="1291" text-anchor="middle">500</text>
</g>
<g font-size="64" fill="#000">
<rect x="336" y="122.3" width="152.5" height="10" rx="3" fill="#3c3aff"/><text x="515" y="143.3"><tspan font-weight="bold">1<tspan dx="-2">a</tspan></tspan> (R = octyl)</text><rect x="518.0" y="135.7" width="12.0" height="8.2" fill="#fff"/><rect x="539.0" y="135.7" width="11.0" height="8.2" fill="#fff"/><rect x="335.5" y="211.1" width="25.0" height="10" rx="3" fill="#3c3aff"/><rect x="374.5" y="211.1" width="49.5" height="10" rx="3" fill="#3c3aff"/><rect x="437.5" y="211.1" width="51.0" height="10" rx="3" fill="#3c3aff"/><text x="515" y="232.1"><tspan font-weight="bold">1<tspan dx="-2">b</tspan></tspan> (R = phenyl)</text><rect x="518.0" y="224.5" width="12.0" height="8.2" fill="#fff"/><rect x="539.0" y="224.5" width="11.0" height="8.2" fill="#fff"/><rect x="336" y="299.5" width="152.5" height="10" rx="3" fill="#ff1e1e"/><text x="513" y="320.5"><tspan font-weight="bold">3a</tspan> (R = octyl)</text><rect x="335.5" y="387.8" width="25.0" height="10" rx="3" fill="#ff1e1e"/><rect x="374.5" y="387.8" width="49.5" height="10" rx="3" fill="#ff1e1e"/><rect x="437.5" y="387.8" width="51.0" height="10" rx="3" fill="#ff1e1e"/><text x="513" y="408.8"><tspan font-weight="bold">3b</tspan> (R = phenyl)</text>
</g>
<text x="1156.5" y="1387.5" font-size="64" font-weight="bold" text-anchor="middle">Wavelength (nm)</text>
<g transform="translate(110.4 913) rotate(-90)"><text font-size="64" font-weight="bold"><tspan x="-1.65" y="0.0" font-weight="normal" font-family="DejaVu Serif" font-size="68">ε</tspan><tspan x="50.3" y="-0.8">x</tspan><tspan x="105.0" y="-0.8">1</tspan><tspan x="138.95" y="-0.8">0</tspan><tspan x="176.5" y="-27.3" font-weight="normal">–</tspan><tspan x="212.0" y="-26.7">3</tspan><tspan x="263.45" y="-0.8">(</tspan><tspan x="285.55" y="-0.8">M</tspan><tspan x="340.7" y="-27.3" font-weight="normal">–</tspan><tspan x="375.0" y="-26.65">1</tspan><tspan x="427.3" y="-0.8">c</tspan><tspan x="463.9" y="-0.8">m</tspan><tspan x="521.75" y="-27.3" font-weight="normal">–</tspan><tspan x="557.0" y="-26.65">1</tspan><tspan x="594.15" y="-0.8">)</tspan></text><rect x="108.0" y="-8.4" width="12.0" height="8.2" fill="#fff"/><rect x="129.0" y="-8.4" width="11.0" height="8.2" fill="#fff"/><rect x="378.0" y="-34.2" width="12.0" height="8.2" fill="#fff"/><rect x="399.0" y="-34.2" width="11.0" height="8.2" fill="#fff"/><rect x="560.0" y="-34.2" width="12.0" height="8.2" fill="#fff"/><rect x="581.0" y="-34.2" width="11.0" height="8.2" fill="#fff"/></g>
</svg>
</body></html>
